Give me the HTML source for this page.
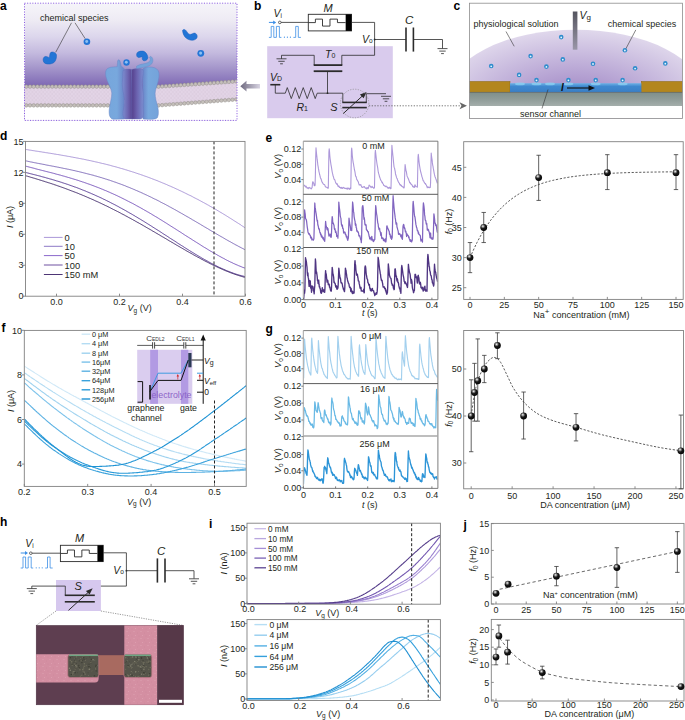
<!DOCTYPE html><html><head><meta charset="utf-8"><style>html,body{margin:0;padding:0;background:#fff;}body{width:685px;height:720px;overflow:hidden;}svg{display:block;}text{font-family:"Liberation Sans", sans-serif;}</style></head><body>
<svg width="685" height="720" viewBox="0 0 685 720">
<defs>
<radialGradient id="ballg" cx="0.38" cy="0.32" r="0.75">
 <stop offset="0" stop-color="#ffffff"/><stop offset="0.18" stop-color="#9a9a9a"/><stop offset="0.45" stop-color="#1a1a1a"/><stop offset="1" stop-color="#000"/>
</radialGradient>
<linearGradient id="agrad" gradientUnits="userSpaceOnUse" x1="0" y1="4" x2="0" y2="86">
 <stop offset="0" stop-color="#f5f4f9"/><stop offset="0.195" stop-color="#eeebf4"/><stop offset="0.4" stop-color="#dcd6ec"/><stop offset="0.6" stop-color="#c3b9de"/><stop offset="0.805" stop-color="#a091c8"/><stop offset="1" stop-color="#7e68b4"/>
</linearGradient>
<radialGradient id="domeg" cx="0.5" cy="0.56" r="0.56">
 <stop offset="0" stop-color="#9a7fc0"/><stop offset="0.45" stop-color="#b9a7d5"/><stop offset="1" stop-color="#e0d8ec"/>
</radialGradient>
<linearGradient id="gateg" x1="0" y1="0" x2="0" y2="1">
 <stop offset="0" stop-color="#55555f"/><stop offset="1" stop-color="#9a96a8"/>
</linearGradient>
<linearGradient id="protL" x1="0" y1="0" x2="1" y2="0">
 <stop offset="0" stop-color="#6f9fd6"/><stop offset="0.7" stop-color="#7ba7da"/><stop offset="1" stop-color="#6a85c4"/>
</linearGradient>
<linearGradient id="protC" x1="0" y1="0" x2="1" y2="0">
 <stop offset="0" stop-color="#8b86c8"/><stop offset="0.3" stop-color="#6c58a0"/><stop offset="0.5" stop-color="#5a4590"/><stop offset="0.7" stop-color="#6c58a0"/><stop offset="1" stop-color="#8b86c8"/>
</linearGradient>
<linearGradient id="arrg" x1="1" y1="0" x2="0" y2="0">
 <stop offset="0" stop-color="#d8d4e2"/><stop offset="1" stop-color="#6f6a80"/>
</linearGradient>
<pattern id="lip" x="0" y="0" width="3.6" height="4" patternUnits="userSpaceOnUse">
 <rect width="3.6" height="4" fill="#e6d8ea"/><path d="M0.6 0 Q1.8 2 0.6 4 M3 0 Q1.8 2 3 4" stroke="#cdbdd2" stroke-width="0.5" fill="none"/>
</pattern>
</defs>
<rect width="685" height="720" fill="#fff"/>
<text x="0" y="9.5" font-size="12" font-weight="bold" fill="#000">a</text>
<clipPath id="clipA"><rect x="24.5" y="3.2" width="212.5" height="117.2"/></clipPath>
<g clip-path="url(#clipA)">
<rect x="24.5" y="3.2" width="212.5" height="117.2" fill="url(#agrad)" stroke="none" stroke-width="1"/>
<path d="M24 100 L108 100 L156 100 L238 94 L238 121 L24 121 Z" fill="#fff"/>
<path d="M24.5 86.6 L114 86.6 L114 105.4 L24.5 105.4 Z" fill="url(#lip)"/>
<circle cx="26.3" cy="86.6" r="1.8" fill="#c4bfba" stroke="#8e8985" stroke-width="0.45"/>
<circle cx="26.3" cy="105.4" r="1.8" fill="#c4bfba" stroke="#8e8985" stroke-width="0.45"/>
<circle cx="30" cy="86.6" r="1.8" fill="#c4bfba" stroke="#8e8985" stroke-width="0.45"/>
<circle cx="30" cy="105.4" r="1.8" fill="#c4bfba" stroke="#8e8985" stroke-width="0.45"/>
<circle cx="33.7" cy="86.6" r="1.8" fill="#c4bfba" stroke="#8e8985" stroke-width="0.45"/>
<circle cx="33.7" cy="105.4" r="1.8" fill="#c4bfba" stroke="#8e8985" stroke-width="0.45"/>
<circle cx="37.4" cy="86.6" r="1.8" fill="#c4bfba" stroke="#8e8985" stroke-width="0.45"/>
<circle cx="37.4" cy="105.4" r="1.8" fill="#c4bfba" stroke="#8e8985" stroke-width="0.45"/>
<circle cx="41.1" cy="86.6" r="1.8" fill="#c4bfba" stroke="#8e8985" stroke-width="0.45"/>
<circle cx="41.1" cy="105.4" r="1.8" fill="#c4bfba" stroke="#8e8985" stroke-width="0.45"/>
<circle cx="44.8" cy="86.6" r="1.8" fill="#c4bfba" stroke="#8e8985" stroke-width="0.45"/>
<circle cx="44.8" cy="105.4" r="1.8" fill="#c4bfba" stroke="#8e8985" stroke-width="0.45"/>
<circle cx="48.5" cy="86.6" r="1.8" fill="#c4bfba" stroke="#8e8985" stroke-width="0.45"/>
<circle cx="48.5" cy="105.4" r="1.8" fill="#c4bfba" stroke="#8e8985" stroke-width="0.45"/>
<circle cx="52.2" cy="86.6" r="1.8" fill="#c4bfba" stroke="#8e8985" stroke-width="0.45"/>
<circle cx="52.2" cy="105.4" r="1.8" fill="#c4bfba" stroke="#8e8985" stroke-width="0.45"/>
<circle cx="55.9" cy="86.6" r="1.8" fill="#c4bfba" stroke="#8e8985" stroke-width="0.45"/>
<circle cx="55.9" cy="105.4" r="1.8" fill="#c4bfba" stroke="#8e8985" stroke-width="0.45"/>
<circle cx="59.6" cy="86.6" r="1.8" fill="#c4bfba" stroke="#8e8985" stroke-width="0.45"/>
<circle cx="59.6" cy="105.4" r="1.8" fill="#c4bfba" stroke="#8e8985" stroke-width="0.45"/>
<circle cx="63.3" cy="86.6" r="1.8" fill="#c4bfba" stroke="#8e8985" stroke-width="0.45"/>
<circle cx="63.3" cy="105.4" r="1.8" fill="#c4bfba" stroke="#8e8985" stroke-width="0.45"/>
<circle cx="67" cy="86.6" r="1.8" fill="#c4bfba" stroke="#8e8985" stroke-width="0.45"/>
<circle cx="67" cy="105.4" r="1.8" fill="#c4bfba" stroke="#8e8985" stroke-width="0.45"/>
<circle cx="70.7" cy="86.6" r="1.8" fill="#c4bfba" stroke="#8e8985" stroke-width="0.45"/>
<circle cx="70.7" cy="105.4" r="1.8" fill="#c4bfba" stroke="#8e8985" stroke-width="0.45"/>
<circle cx="74.4" cy="86.6" r="1.8" fill="#c4bfba" stroke="#8e8985" stroke-width="0.45"/>
<circle cx="74.4" cy="105.4" r="1.8" fill="#c4bfba" stroke="#8e8985" stroke-width="0.45"/>
<circle cx="78.1" cy="86.6" r="1.8" fill="#c4bfba" stroke="#8e8985" stroke-width="0.45"/>
<circle cx="78.1" cy="105.4" r="1.8" fill="#c4bfba" stroke="#8e8985" stroke-width="0.45"/>
<circle cx="81.8" cy="86.6" r="1.8" fill="#c4bfba" stroke="#8e8985" stroke-width="0.45"/>
<circle cx="81.8" cy="105.4" r="1.8" fill="#c4bfba" stroke="#8e8985" stroke-width="0.45"/>
<circle cx="85.5" cy="86.6" r="1.8" fill="#c4bfba" stroke="#8e8985" stroke-width="0.45"/>
<circle cx="85.5" cy="105.4" r="1.8" fill="#c4bfba" stroke="#8e8985" stroke-width="0.45"/>
<circle cx="89.2" cy="86.6" r="1.8" fill="#c4bfba" stroke="#8e8985" stroke-width="0.45"/>
<circle cx="89.2" cy="105.4" r="1.8" fill="#c4bfba" stroke="#8e8985" stroke-width="0.45"/>
<circle cx="92.9" cy="86.6" r="1.8" fill="#c4bfba" stroke="#8e8985" stroke-width="0.45"/>
<circle cx="92.9" cy="105.4" r="1.8" fill="#c4bfba" stroke="#8e8985" stroke-width="0.45"/>
<circle cx="96.6" cy="86.6" r="1.8" fill="#c4bfba" stroke="#8e8985" stroke-width="0.45"/>
<circle cx="96.6" cy="105.4" r="1.8" fill="#c4bfba" stroke="#8e8985" stroke-width="0.45"/>
<circle cx="100.3" cy="86.6" r="1.8" fill="#c4bfba" stroke="#8e8985" stroke-width="0.45"/>
<circle cx="100.3" cy="105.4" r="1.8" fill="#c4bfba" stroke="#8e8985" stroke-width="0.45"/>
<circle cx="104" cy="86.6" r="1.8" fill="#c4bfba" stroke="#8e8985" stroke-width="0.45"/>
<circle cx="104" cy="105.4" r="1.8" fill="#c4bfba" stroke="#8e8985" stroke-width="0.45"/>
<circle cx="107.7" cy="86.6" r="1.8" fill="#c4bfba" stroke="#8e8985" stroke-width="0.45"/>
<circle cx="107.7" cy="105.4" r="1.8" fill="#c4bfba" stroke="#8e8985" stroke-width="0.45"/>
<circle cx="111.4" cy="86.6" r="1.8" fill="#c4bfba" stroke="#8e8985" stroke-width="0.45"/>
<circle cx="111.4" cy="105.4" r="1.8" fill="#c4bfba" stroke="#8e8985" stroke-width="0.45"/>
<circle cx="115.1" cy="86.6" r="1.8" fill="#c4bfba" stroke="#8e8985" stroke-width="0.45"/>
<circle cx="115.1" cy="105.4" r="1.8" fill="#c4bfba" stroke="#8e8985" stroke-width="0.45"/>
<path d="M153 87.0 L238 81.3 L238 99.3 L153 105.8 Z" fill="url(#lip)"/>
<circle cx="154.8" cy="86.88" r="1.8" fill="#c4bfba" stroke="#8e8985" stroke-width="0.45"/>
<circle cx="154.8" cy="105.66" r="1.8" fill="#c4bfba" stroke="#8e8985" stroke-width="0.45"/>
<circle cx="158.5" cy="86.63" r="1.8" fill="#c4bfba" stroke="#8e8985" stroke-width="0.45"/>
<circle cx="158.5" cy="105.38" r="1.8" fill="#c4bfba" stroke="#8e8985" stroke-width="0.45"/>
<circle cx="162.2" cy="86.38" r="1.8" fill="#c4bfba" stroke="#8e8985" stroke-width="0.45"/>
<circle cx="162.2" cy="105.1" r="1.8" fill="#c4bfba" stroke="#8e8985" stroke-width="0.45"/>
<circle cx="165.9" cy="86.13" r="1.8" fill="#c4bfba" stroke="#8e8985" stroke-width="0.45"/>
<circle cx="165.9" cy="104.81" r="1.8" fill="#c4bfba" stroke="#8e8985" stroke-width="0.45"/>
<circle cx="169.6" cy="85.89" r="1.8" fill="#c4bfba" stroke="#8e8985" stroke-width="0.45"/>
<circle cx="169.6" cy="104.53" r="1.8" fill="#c4bfba" stroke="#8e8985" stroke-width="0.45"/>
<circle cx="173.3" cy="85.64" r="1.8" fill="#c4bfba" stroke="#8e8985" stroke-width="0.45"/>
<circle cx="173.3" cy="104.25" r="1.8" fill="#c4bfba" stroke="#8e8985" stroke-width="0.45"/>
<circle cx="177" cy="85.39" r="1.8" fill="#c4bfba" stroke="#8e8985" stroke-width="0.45"/>
<circle cx="177" cy="103.96" r="1.8" fill="#c4bfba" stroke="#8e8985" stroke-width="0.45"/>
<circle cx="180.7" cy="85.14" r="1.8" fill="#c4bfba" stroke="#8e8985" stroke-width="0.45"/>
<circle cx="180.7" cy="103.68" r="1.8" fill="#c4bfba" stroke="#8e8985" stroke-width="0.45"/>
<circle cx="184.4" cy="84.89" r="1.8" fill="#c4bfba" stroke="#8e8985" stroke-width="0.45"/>
<circle cx="184.4" cy="103.4" r="1.8" fill="#c4bfba" stroke="#8e8985" stroke-width="0.45"/>
<circle cx="188.1" cy="84.65" r="1.8" fill="#c4bfba" stroke="#8e8985" stroke-width="0.45"/>
<circle cx="188.1" cy="103.12" r="1.8" fill="#c4bfba" stroke="#8e8985" stroke-width="0.45"/>
<circle cx="191.8" cy="84.4" r="1.8" fill="#c4bfba" stroke="#8e8985" stroke-width="0.45"/>
<circle cx="191.8" cy="102.83" r="1.8" fill="#c4bfba" stroke="#8e8985" stroke-width="0.45"/>
<circle cx="195.5" cy="84.15" r="1.8" fill="#c4bfba" stroke="#8e8985" stroke-width="0.45"/>
<circle cx="195.5" cy="102.55" r="1.8" fill="#c4bfba" stroke="#8e8985" stroke-width="0.45"/>
<circle cx="199.2" cy="83.9" r="1.8" fill="#c4bfba" stroke="#8e8985" stroke-width="0.45"/>
<circle cx="199.2" cy="102.27" r="1.8" fill="#c4bfba" stroke="#8e8985" stroke-width="0.45"/>
<circle cx="202.9" cy="83.65" r="1.8" fill="#c4bfba" stroke="#8e8985" stroke-width="0.45"/>
<circle cx="202.9" cy="101.98" r="1.8" fill="#c4bfba" stroke="#8e8985" stroke-width="0.45"/>
<circle cx="206.6" cy="83.41" r="1.8" fill="#c4bfba" stroke="#8e8985" stroke-width="0.45"/>
<circle cx="206.6" cy="101.7" r="1.8" fill="#c4bfba" stroke="#8e8985" stroke-width="0.45"/>
<circle cx="210.3" cy="83.16" r="1.8" fill="#c4bfba" stroke="#8e8985" stroke-width="0.45"/>
<circle cx="210.3" cy="101.42" r="1.8" fill="#c4bfba" stroke="#8e8985" stroke-width="0.45"/>
<circle cx="214" cy="82.91" r="1.8" fill="#c4bfba" stroke="#8e8985" stroke-width="0.45"/>
<circle cx="214" cy="101.14" r="1.8" fill="#c4bfba" stroke="#8e8985" stroke-width="0.45"/>
<circle cx="217.7" cy="82.66" r="1.8" fill="#c4bfba" stroke="#8e8985" stroke-width="0.45"/>
<circle cx="217.7" cy="100.85" r="1.8" fill="#c4bfba" stroke="#8e8985" stroke-width="0.45"/>
<circle cx="221.4" cy="82.41" r="1.8" fill="#c4bfba" stroke="#8e8985" stroke-width="0.45"/>
<circle cx="221.4" cy="100.57" r="1.8" fill="#c4bfba" stroke="#8e8985" stroke-width="0.45"/>
<circle cx="225.1" cy="82.17" r="1.8" fill="#c4bfba" stroke="#8e8985" stroke-width="0.45"/>
<circle cx="225.1" cy="100.29" r="1.8" fill="#c4bfba" stroke="#8e8985" stroke-width="0.45"/>
<circle cx="228.8" cy="81.92" r="1.8" fill="#c4bfba" stroke="#8e8985" stroke-width="0.45"/>
<circle cx="228.8" cy="100" r="1.8" fill="#c4bfba" stroke="#8e8985" stroke-width="0.45"/>
<circle cx="232.5" cy="81.67" r="1.8" fill="#c4bfba" stroke="#8e8985" stroke-width="0.45"/>
<circle cx="232.5" cy="99.72" r="1.8" fill="#c4bfba" stroke="#8e8985" stroke-width="0.45"/>
<circle cx="236.2" cy="81.42" r="1.8" fill="#c4bfba" stroke="#8e8985" stroke-width="0.45"/>
<circle cx="236.2" cy="99.44" r="1.8" fill="#c4bfba" stroke="#8e8985" stroke-width="0.45"/>
</g>
<rect x="24.5" y="3.2" width="212.5" height="117.2" fill="none" stroke="#8c5ee0" stroke-width="1.0" stroke-dasharray="1.1 1.5"/>
<linearGradient id="pOL" x1="0" y1="0" x2="1" y2="0"><stop offset="0" stop-color="#76a6dc"/><stop offset="0.6" stop-color="#78a8dd"/><stop offset="1" stop-color="#6a84c8"/></linearGradient>
<linearGradient id="pOR" x1="0" y1="0" x2="1" y2="0"><stop offset="0" stop-color="#6a84c8"/><stop offset="0.35" stop-color="#78a8dd"/><stop offset="1" stop-color="#74a3da"/></linearGradient>
<linearGradient id="pIL" x1="0" y1="0" x2="1" y2="0"><stop offset="0" stop-color="#7c90d2"/><stop offset="0.55" stop-color="#6c64b0"/><stop offset="1" stop-color="#553f8c"/></linearGradient>
<linearGradient id="pIR" x1="0" y1="0" x2="1" y2="0"><stop offset="0" stop-color="#553f8c"/><stop offset="0.45" stop-color="#6c64b0"/><stop offset="1" stop-color="#7c90d2"/></linearGradient>
<path d="M106.5 69.5 C108 67.5 112 66.8 117.2 66.8 L117.5 62.5 C117.3 60.5 118.3 59.3 119.3 60 C120.3 60.8 120.6 63.5 121.3 66.5 C122.8 67 124 68 124.5 69.5 L124.5 119 L113 119.2 C110 118.5 108.8 115 109.2 110 C109.6 104 112 98 111.8 93 C111.5 88 107 82 105.8 76 C105.4 73 105.5 71 106.5 69.5 Z" fill="url(#pOL)" stroke="#6b86c6" stroke-width="0.5"/>
<path d="M142.5 69 C144 67 148 66.8 152 67.2 C155.5 67.5 158.5 69.5 159 73 C159.5 78 157.5 84 155.5 90 C154.5 94 155.5 99 157 104 C158.5 109 159 114 157.5 117.5 C156 119.3 152 119.5 148 119.3 L143 119 Z" fill="url(#pOR)" stroke="#6b86c6" stroke-width="0.5"/>
<path d="M123.2 70.5 C125 69 128.5 68.8 131.5 69.5 L132.8 119 L125 119 C123.2 118 122.5 114 123.3 110 C124.2 105 124.8 100 123.8 95 C122.8 90 121.8 85 122.5 80 C123 76 122.5 72.5 123.2 70.5 Z" fill="url(#pIL)" stroke="#6670b8" stroke-width="0.4"/>
<path d="M131.8 69.6 C134.5 68.5 137.5 68.3 140 68.5 C142 68.8 143.3 69.8 143.3 71.5 C143 76 141.8 81 142.3 86 C142.8 91 144 96 143.3 101 C142.7 106 143.7 111 143.5 115 C143.3 117.5 142 119 140 119 L131.8 119 Z" fill="url(#pIR)" stroke="#6670b8" stroke-width="0.4"/>
<path d="M136.5 66.2 C140 63.8 145 64 148 62.5 C150.5 61.2 150.8 58.5 149.3 57.5 L150.5 56.3 C153 57.2 153.8 61 151.8 63.8 C150.2 65.8 147 66.6 144 67.2 C141 67.8 138.5 68.3 136.5 68.5 Z" fill="#74a3da" stroke="#6b86c6" stroke-width="0.4"/>
<path transform="translate(49.7 58) rotate(0) scale(1.0)" d="M-5.2 -1.2 C-3.5 -2.2 -1.5 -0.8 -0.5 -0.3 C0.2 -1.5 -0.2 -4.5 1 -5.5 C2.5 -6.6 5.8 -5.8 6.7 -3.5 C7.2 -1 6.3 2.5 4.5 4.3 C2.5 6.2 -2 6.6 -4.6 5.4 C-7 4 -7.2 0.3 -5.2 -1.2 Z" fill="#2275d6" stroke="#1a5fba" stroke-width="0.5"/>
<circle cx="86.9" cy="41.8" r="3.3" fill="#2476d6"/>
<circle cx="86.7" cy="41.6" r="1.48" fill="#8cc0f2"/>
<path transform="translate(142.3 56.2) rotate(-115) scale(0.82)" d="M-5.2 -1.2 C-3.5 -2.2 -1.5 -0.8 -0.5 -0.3 C0.2 -1.5 -0.2 -4.5 1 -5.5 C2.5 -6.6 5.8 -5.8 6.7 -3.5 C7.2 -1 6.3 2.5 4.5 4.3 C2.5 6.2 -2 6.6 -4.6 5.4 C-7 4 -7.2 0.3 -5.2 -1.2 Z" fill="#2275d6" stroke="#1a5fba" stroke-width="0.5"/>
<circle cx="126.5" cy="62.5" r="3.2" fill="#2476d6"/>
<circle cx="126.3" cy="62.3" r="1.44" fill="#8cc0f2"/>
<path d="M182.6 31 C183 35 185.5 38.5 188.7 39.6 C191 40.6 194.5 40.6 196.5 38.5 C197.8 37 197.3 34 195.2 33.2 C193.5 32.6 192 34.4 190.3 34.4 C188.8 34.4 187.8 33 187 31.9 C186 30.3 185 29.3 183.8 29.5 C182.8 29.7 182.5 30.2 182.6 31 Z" fill="#2275d6" stroke="#1a5fba" stroke-width="0.5"/>
<circle cx="200.8" cy="53.3" r="3.4" fill="#2476d6"/>
<circle cx="200.6" cy="53.1" r="1.53" fill="#8cc0f2"/>
<text x="40" y="20.8" font-size="9" fill="#231f20">chemical species</text>
<line x1="71.5" y1="22.8" x2="55.7" y2="52.3" stroke="#333" stroke-width="0.6"/>
<line x1="75" y1="22.8" x2="85.2" y2="38.7" stroke="#333" stroke-width="0.6"/>
<path d="M240.3 86.2 L246.5 80.8 L246.5 84 L260 84 L260 88.6 L246.5 88.6 L246.5 91.6 Z" fill="url(#arrg)"/>
<text x="254" y="9.8" font-size="12" font-weight="bold" fill="#000">b</text>
<rect x="267.2" y="46.2" width="125.6" height="72" fill="#d9cbed" stroke="none" stroke-width="1"/>
<path d="M268.9 37.4 H271.2 V26.4 H273.8 V37.4 H276.4 V26.4 H279.4 V37.4 H281.4 M293.4 37.4 H295.7 H295.7 V26.4 H298.3 V37.4 H300.9" stroke="#3b8ee6" stroke-width="0.8" fill="none"/>
<circle cx="284.4" cy="37.2" r="0.6" fill="#3b8ee6"/>
<circle cx="287.4" cy="37.2" r="0.6" fill="#3b8ee6"/>
<circle cx="290.4" cy="37.2" r="0.6" fill="#3b8ee6"/>
<line x1="268.9" y1="22.4" x2="274.4" y2="22.4" stroke="#3b8ee6" stroke-width="1"/>
<path d="M276.2 22.4 l-3 -2 v4 z" fill="#3b8ee6"/>
<text x="273.5" y="16.8" font-size="10.5" font-style="italic" fill="#231f20">V<tspan font-size="6.5" font-style="normal" dy="1.2">i</tspan></text>
<circle cx="279.8" cy="22.4" r="1.3" fill="#fff" stroke="#2b2b2b" stroke-width="0.7"/>
<line x1="281.1" y1="22.4" x2="308.3" y2="22.4" stroke="#2b2b2b" stroke-width="0.8"/>
<rect x="308.3" y="14.3" width="43.2" height="16.6" fill="#fff" stroke="#2b2b2b" stroke-width="0.9"/>
<rect x="345.67" y="14.3" width="5.83" height="16.6" fill="#000" stroke="none" stroke-width="1"/>
<path d="M308.3 22.6 H315.4 V19.11 H322.5 V26.09 H329.97 V19.11 H337.45 V22.6 H345.67" stroke="#2b2b2b" stroke-width="0.9" fill="none"/>
<text x="323.5" y="11.6" font-size="11" font-style="italic" fill="#231f20">M</text>
<path d="M351.5 22.4 H374.6 V55.3 H341.8 V65.1" stroke="#2b2b2b" stroke-width="0.8" fill="none"/>
<circle cx="374.6" cy="39.5" r="0.9" fill="#2b2b2b"/>
<text x="362" y="42.8" font-size="10.5" font-style="italic" fill="#231f20">V<tspan font-size="6.5" font-style="normal" dy="0.6">o</tspan></text>
<line x1="374.6" y1="39.5" x2="406" y2="39.5" stroke="#2b2b2b" stroke-width="0.8"/>
<line x1="406" y1="27.5" x2="406" y2="51.6" stroke="#2b2b2b" stroke-width="1.6"/>
<line x1="413.4" y1="27.5" x2="413.4" y2="51.6" stroke="#2b2b2b" stroke-width="1.6"/>
<path d="M413.4 39.5 H442.5 V48.4" stroke="#2b2b2b" stroke-width="0.8" fill="none"/>
<line x1="437.5" y1="48.6" x2="447.5" y2="48.6" stroke="#2b2b2b" stroke-width="0.8"/>
<line x1="439.3" y1="51.1" x2="445.7" y2="51.1" stroke="#2b2b2b" stroke-width="0.8"/>
<line x1="441.1" y1="53.6" x2="443.9" y2="53.6" stroke="#2b2b2b" stroke-width="0.8"/>
<text x="405" y="23.8" font-size="11.5" font-style="italic" fill="#231f20">C</text>
<path d="M281.5 58.8 V55.3 H314.2 V65.1" stroke="#2b2b2b" stroke-width="0.8" fill="none"/>
<line x1="276.5" y1="58.8" x2="286.5" y2="58.8" stroke="#2b2b2b" stroke-width="0.8"/>
<line x1="278.3" y1="61.3" x2="284.7" y2="61.3" stroke="#2b2b2b" stroke-width="0.8"/>
<line x1="280.1" y1="63.8" x2="282.9" y2="63.8" stroke="#2b2b2b" stroke-width="0.8"/>
<line x1="313.7" y1="65.1" x2="342.3" y2="65.1" stroke="#2b2b2b" stroke-width="1.8"/>
<line x1="313.7" y1="71.2" x2="342.3" y2="71.2" stroke="#2b2b2b" stroke-width="1.8"/>
<line x1="327.5" y1="71.2" x2="327.5" y2="93.2" stroke="#2b2b2b" stroke-width="0.8"/>
<text x="325" y="57.6" font-size="10.5" font-style="italic" fill="#231f20">T<tspan font-size="7" font-style="normal" dy="0.5">0</tspan></text>
<text x="270" y="81" font-size="10.5" font-style="italic" fill="#231f20">V<tspan font-size="7" font-style="normal" dy="0.4">D</tspan></text>
<line x1="270.3" y1="84.7" x2="280.3" y2="84.7" stroke="#2b2b2b" stroke-width="1.6"/>
<path d="M275.3 84.7 V93.2 H285.3 L287.29 87.6 L291.28 98.6 L295.27 87.6 L299.26 98.6 L303.24 87.6 L307.23 98.6 L311.22 87.6 L315.21 98.6 L317.2 93.2 H342.8 V102.4" stroke="#2b2b2b" stroke-width="0.8" fill="none"/>
<circle cx="327.5" cy="93.2" r="0.9" fill="#2b2b2b"/>
<text x="296.5" y="110.7" font-size="10.5" font-style="italic" fill="#231f20">R<tspan font-size="7" font-style="normal" dy="0.5">1</tspan></text>
<text x="330.3" y="110.7" font-size="11" font-style="italic" fill="#231f20">S</text>
<line x1="342.3" y1="102.4" x2="366.8" y2="102.4" stroke="#2b2b2b" stroke-width="1.6"/>
<line x1="342.3" y1="107.6" x2="366.8" y2="107.6" stroke="#2b2b2b" stroke-width="1.6"/>
<path d="M366.3 102.4 V93.7 H386" stroke="#2b2b2b" stroke-width="0.8" fill="none"/>
<line x1="381" y1="96.3" x2="391" y2="96.3" stroke="#2b2b2b" stroke-width="0.8"/>
<line x1="382.8" y1="98.8" x2="389.2" y2="98.8" stroke="#2b2b2b" stroke-width="0.8"/>
<line x1="384.6" y1="101.3" x2="387.4" y2="101.3" stroke="#2b2b2b" stroke-width="0.8"/>
<line x1="343.2" y1="113.6" x2="364.2" y2="94.3" stroke="#2b2b2b" stroke-width="1.0"/>
<path d="M366.6 92 L359.9 94.6 L363.6 98.2 Z" fill="#2b2b2b"/>
<circle cx="354.6" cy="103.5" r="14.3" fill="none" stroke="#8a8a8a" stroke-width="0.7" stroke-dasharray="1.2 1.4"/>
<line x1="368.9" y1="105.8" x2="461" y2="105.8" stroke="#555" stroke-width="0.8" stroke-dasharray="1.3 1.5"/>
<path d="M467 105.8 L459.5 102.3 L461.5 105.8 L459.5 109.3 Z" fill="#666"/>
<text x="453.5" y="9.6" font-size="12" font-weight="bold" fill="#000">c</text>
<clipPath id="clipC"><rect x="469.4" y="3.2" width="213" height="115.3"/></clipPath>
<g clip-path="url(#clipC)">
<ellipse cx="575.5" cy="95" rx="127.5" ry="65.2" fill="url(#domeg)"/>
<rect x="469.4" y="81.4" width="40.6" height="11" fill="#b3861e" stroke="#8a6a1a" stroke-width="0.5"/>
<rect x="641.3" y="81.4" width="41.5" height="11" fill="#b3861e" stroke="#8a6a1a" stroke-width="0.5"/>
<linearGradient id="chg" x1="0" y1="0" x2="0" y2="1"><stop offset="0" stop-color="#6fb1e6"/><stop offset="0.35" stop-color="#3f88cf"/><stop offset="1" stop-color="#3a7fc6"/></linearGradient>
<rect x="510" y="83.2" width="131.3" height="9.2" fill="url(#chg)" stroke="none" stroke-width="1"/>
<ellipse cx="536.5" cy="83.9" rx="5" ry="1.3" fill="#8fd3f3" opacity="0.75"/>
<ellipse cx="568.4" cy="83.9" rx="5" ry="1.3" fill="#8fd3f3" opacity="0.75"/>
<ellipse cx="595.7" cy="83.9" rx="5" ry="1.3" fill="#8fd3f3" opacity="0.75"/>
<ellipse cx="622.6" cy="83.9" rx="5" ry="1.3" fill="#8fd3f3" opacity="0.75"/>
<ellipse cx="520" cy="83.9" rx="5" ry="1.3" fill="#8fd3f3" opacity="0.75"/>
<ellipse cx="550" cy="83.9" rx="5" ry="1.3" fill="#8fd3f3" opacity="0.75"/>
<linearGradient id="subg" x1="0" y1="0" x2="0" y2="1"><stop offset="0" stop-color="#7f8f8a"/><stop offset="0.5" stop-color="#8f9c98"/><stop offset="1" stop-color="#a4aeab"/></linearGradient>
<rect x="469.4" y="92.4" width="213" height="13.6" fill="url(#subg)" stroke="none" stroke-width="1"/>
<line x1="469.4" y1="92.4" x2="682.4" y2="92.4" stroke="#55605c" stroke-width="0.6"/>
<rect x="469.4" y="106" width="213" height="13" fill="#fff" stroke="none" stroke-width="1"/>
</g>
<rect x="469.4" y="3.2" width="213" height="115.3" fill="none" stroke="#8d8d8d" stroke-width="0.8"/>
<rect x="572.8" y="11.5" width="4.6" height="38.2" fill="url(#gateg)" stroke="none" stroke-width="1"/>
<text x="579.5" y="18.6" font-size="10.5" font-style="italic" fill="#231f20">V<tspan font-size="8" font-style="normal" dy="1.8">g</tspan></text>
<circle cx="561.2" cy="37.1" r="2.3" fill="#2f8ccc"/>
<circle cx="561.2" cy="37.4" r="0.9" fill="#e8f6ff"/>
<circle cx="530.6" cy="56.1" r="2.3" fill="#2f8ccc"/>
<circle cx="530.6" cy="56.4" r="0.9" fill="#e8f6ff"/>
<circle cx="562.8" cy="59.4" r="2.3" fill="#2f8ccc"/>
<circle cx="562.8" cy="59.7" r="0.9" fill="#e8f6ff"/>
<circle cx="546.4" cy="66.6" r="2.3" fill="#2f8ccc"/>
<circle cx="546.4" cy="66.9" r="0.9" fill="#e8f6ff"/>
<circle cx="491.2" cy="66" r="2.3" fill="#2f8ccc"/>
<circle cx="491.2" cy="66.3" r="0.9" fill="#e8f6ff"/>
<circle cx="519.1" cy="74.9" r="2.3" fill="#2f8ccc"/>
<circle cx="519.1" cy="75.2" r="0.9" fill="#e8f6ff"/>
<circle cx="593" cy="63.7" r="2.3" fill="#2f8ccc"/>
<circle cx="593" cy="64" r="0.9" fill="#e8f6ff"/>
<circle cx="624.9" cy="50.2" r="2.3" fill="#2f8ccc"/>
<circle cx="624.9" cy="50.5" r="0.9" fill="#e8f6ff"/>
<circle cx="635.1" cy="68.3" r="2.3" fill="#2f8ccc"/>
<circle cx="635.1" cy="68.6" r="0.9" fill="#e8f6ff"/>
<circle cx="665.3" cy="63.4" r="2.3" fill="#2f8ccc"/>
<circle cx="665.3" cy="63.7" r="0.9" fill="#e8f6ff"/>
<circle cx="536.5" cy="80.1" r="2.3" fill="#2f8ccc"/>
<circle cx="536.5" cy="80.4" r="0.9" fill="#e8f6ff"/>
<circle cx="568.4" cy="80.1" r="2.3" fill="#2f8ccc"/>
<circle cx="568.4" cy="80.4" r="0.9" fill="#e8f6ff"/>
<circle cx="595.7" cy="80.1" r="2.3" fill="#2f8ccc"/>
<circle cx="595.7" cy="80.4" r="0.9" fill="#e8f6ff"/>
<circle cx="622.6" cy="80.1" r="2.3" fill="#2f8ccc"/>
<circle cx="622.6" cy="80.4" r="0.9" fill="#e8f6ff"/>
<text x="473.4" y="27.2" font-size="9" fill="#231f20">physiological solution</text>
<text x="607.8" y="27.2" font-size="9" fill="#231f20">chemical species</text>
<text x="520" y="117" font-size="9" fill="#231f20">sensor channel</text>
<line x1="506" y1="31.5" x2="514.2" y2="46.3" stroke="#333" stroke-width="0.6"/>
<line x1="635.8" y1="29.9" x2="626" y2="48.5" stroke="#333" stroke-width="0.6"/>
<line x1="548" y1="89.5" x2="542" y2="108.5" stroke="#333" stroke-width="0.6"/>
<text x="561" y="91" font-size="10" font-style="italic" font-weight="bold" fill="#111">I</text>
<line x1="567" y1="88" x2="591" y2="88" stroke="#111" stroke-width="1.1"/>
<path d="M595 88 L588.5 85.3 L588.5 90.7 Z" fill="#111"/>
<text x="0" y="140.3" font-size="12" font-weight="bold" fill="#000">d</text>
<clipPath id="clipD"><rect x="25.5" y="141.4" width="219.5" height="154.8"/></clipPath>
<g clip-path="url(#clipD)">
<path d="M25 149.3 25.8 149.5 26.6 149.6 27.4 149.7 28.2 149.8 29 150 29.7 150.1 30.5 150.2 31.3 150.3 32.1 150.5 32.9 150.6 33.7 150.7 34.5 150.8 35.3 151 36.1 151.1 36.9 151.2 37.6 151.3 38.4 151.4 39.2 151.6 40 151.7 40.8 151.8 41.6 151.9 42.4 152.1 43.2 152.2 44 152.3 44.8 152.4 45.5 152.6 46.3 152.7 47.1 152.8 47.9 152.9 48.7 153.1 49.5 153.2 50.3 153.3 51.1 153.4 51.9 153.6 52.7 153.7 53.5 153.8 54.2 154 55 154.1 55.8 154.2 56.6 154.4 57.4 154.5 58.2 154.6 59 154.7 59.8 154.9 60.6 155 61.4 155.2 62.1 155.3 62.9 155.4 63.7 155.6 64.5 155.7 65.3 155.8 66.1 156 66.9 156.1 67.7 156.3 68.5 156.4 69.3 156.5 70 156.7 70.8 156.8 71.6 157 72.4 157.1 73.2 157.3 74 157.4 74.8 157.6 75.6 157.7 76.4 157.9 77.2 158 78 158.2 78.7 158.3 79.5 158.5 80.3 158.6 81.1 158.8 81.9 158.9 82.7 159.1 83.5 159.2 84.3 159.4 85.1 159.6 85.9 159.7 86.6 159.9 87.4 160.1 88.2 160.2 89 160.4 89.8 160.6 90.6 160.7 91.4 160.9 92.2 161.1 93 161.3 93.8 161.4 94.5 161.6 95.3 161.8 96.1 162 96.9 162.1 97.7 162.3 98.5 162.5 99.3 162.7 100.1 162.9 100.9 163.1 101.7 163.3 102.5 163.5 103.2 163.6 104 163.8 104.8 164 105.6 164.2 106.4 164.4 107.2 164.6 108 164.8 108.8 165 109.6 165.2 110.4 165.4 111.1 165.6 111.9 165.9 112.7 166.1 113.5 166.3 114.3 166.5 115.1 166.7 115.9 166.9 116.7 167.1 117.5 167.4 118.3 167.6 119 167.8 119.8 168 120.6 168.3 121.4 168.5 122.2 168.7 123 168.9 123.8 169.2 124.6 169.4 125.4 169.7 126.2 169.9 127 170.1 127.7 170.4 128.5 170.6 129.3 170.9 130.1 171.1 130.9 171.4 131.7 171.6 132.5 171.9 133.3 172.1 134.1 172.4 134.9 172.6 135.6 172.9 136.4 173.2 137.2 173.4 138 173.7 138.8 174 139.6 174.2 140.4 174.5 141.2 174.8 142 175 142.8 175.3 143.5 175.6 144.3 175.9 145.1 176.2 145.9 176.4 146.7 176.7 147.5 177 148.3 177.3 149.1 177.6 149.9 177.9 150.7 178.2 151.5 178.5 152.2 178.8 153 179.1 153.8 179.4 154.6 179.7 155.4 180 156.2 180.3 157 180.6 157.8 180.9 158.6 181.3 159.4 181.6 160.1 181.9 160.9 182.2 161.7 182.5 162.5 182.9 163.3 183.2 164.1 183.5 164.9 183.9 165.7 184.2 166.5 184.5 167.3 184.9 168 185.2 168.8 185.6 169.6 185.9 170.4 186.2 171.2 186.6 172 186.9 172.8 187.3 173.6 187.6 174.4 188 175.2 188.4 176 188.7 176.7 189.1 177.5 189.4 178.3 189.8 179.1 190.2 179.9 190.6 180.7 190.9 181.5 191.3 182.3 191.7 183.1 192.1 183.9 192.4 184.6 192.8 185.4 193.2 186.2 193.6 187 194 187.8 194.4 188.6 194.8 189.4 195.2 190.2 195.5 191 195.9 191.8 196.3 192.5 196.7 193.3 197.2 194.1 197.6 194.9 198 195.7 198.4 196.5 198.8 197.3 199.2 198.1 199.6 198.9 200 199.7 200.5 200.5 200.9 201.2 201.3 202 201.7 202.8 202.2 203.6 202.6 204.4 203 205.2 203.5 206 203.9 206.8 204.3 207.6 204.8 208.4 205.2 209.1 205.7 209.9 206.1 210.7 206.6 211.5 207 212.3 207.5 213.1 207.9 213.9 208.4 214.7 208.8 215.5 209.3 216.3 209.7 217 210.2 217.8 210.7 218.6 211.1 219.4 211.6 220.2 212.1 221 212.6 221.8 213 222.6 213.5 223.4 214 224.2 214.5 225 214.9 225.7 215.4 226.5 215.9 227.3 216.4 228.1 216.9 228.9 217.4 229.7 217.9 230.5 218.4 231.3 218.9 232.1 219.4 232.9 219.9 233.6 220.4 234.4 220.9 235.2 221.4 236 221.9 236.8 222.4 237.6 222.9 238.4 223.4 239.2 223.9 240 224.4 240.8 224.9 241.5 225.5 242.3 226 243.1 226.5 243.9 227 244.7 227.6 245.5 228.1" stroke="#a895d6" stroke-width="1.0" fill="none" stroke-linejoin="round"/>
<path d="M25 160.7 25.8 160.9 26.6 161 27.4 161.2 28.2 161.4 29 161.5 29.7 161.7 30.5 161.9 31.3 162 32.1 162.2 32.9 162.3 33.7 162.5 34.5 162.7 35.3 162.8 36.1 163 36.9 163.1 37.6 163.3 38.4 163.4 39.2 163.6 40 163.7 40.8 163.9 41.6 164 42.4 164.2 43.2 164.3 44 164.5 44.8 164.6 45.5 164.8 46.3 165 47.1 165.1 47.9 165.3 48.7 165.4 49.5 165.6 50.3 165.7 51.1 165.9 51.9 166 52.7 166.2 53.5 166.3 54.2 166.5 55 166.6 55.8 166.8 56.6 166.9 57.4 167.1 58.2 167.2 59 167.4 59.8 167.6 60.6 167.7 61.4 167.9 62.1 168 62.9 168.2 63.7 168.4 64.5 168.5 65.3 168.7 66.1 168.8 66.9 169 67.7 169.2 68.5 169.3 69.3 169.5 70 169.7 70.8 169.8 71.6 170 72.4 170.2 73.2 170.4 74 170.5 74.8 170.7 75.6 170.9 76.4 171.1 77.2 171.3 78 171.4 78.7 171.6 79.5 171.8 80.3 172 81.1 172.2 81.9 172.4 82.7 172.6 83.5 172.8 84.3 173 85.1 173.2 85.9 173.4 86.6 173.6 87.4 173.8 88.2 174 89 174.2 89.8 174.4 90.6 174.6 91.4 174.8 92.2 175 93 175.2 93.8 175.4 94.5 175.7 95.3 175.9 96.1 176.1 96.9 176.3 97.7 176.6 98.5 176.8 99.3 177 100.1 177.3 100.9 177.5 101.7 177.7 102.5 178 103.2 178.2 104 178.5 104.8 178.7 105.6 179 106.4 179.2 107.2 179.5 108 179.7 108.8 180 109.6 180.2 110.4 180.5 111.1 180.8 111.9 181 112.7 181.3 113.5 181.6 114.3 181.9 115.1 182.1 115.9 182.4 116.7 182.7 117.5 183 118.3 183.3 119 183.6 119.8 183.8 120.6 184.1 121.4 184.4 122.2 184.7 123 185 123.8 185.3 124.6 185.6 125.4 185.9 126.2 186.3 127 186.6 127.7 186.9 128.5 187.2 129.3 187.5 130.1 187.8 130.9 188.2 131.7 188.5 132.5 188.8 133.3 189.2 134.1 189.5 134.9 189.8 135.6 190.2 136.4 190.5 137.2 190.8 138 191.2 138.8 191.5 139.6 191.9 140.4 192.2 141.2 192.6 142 192.9 142.8 193.3 143.5 193.7 144.3 194 145.1 194.4 145.9 194.8 146.7 195.1 147.5 195.5 148.3 195.9 149.1 196.3 149.9 196.6 150.7 197 151.5 197.4 152.2 197.8 153 198.2 153.8 198.6 154.6 199 155.4 199.3 156.2 199.7 157 200.1 157.8 200.5 158.6 200.9 159.4 201.3 160.1 201.8 160.9 202.2 161.7 202.6 162.5 203 163.3 203.4 164.1 203.8 164.9 204.2 165.7 204.6 166.5 205.1 167.3 205.5 168 205.9 168.8 206.3 169.6 206.8 170.4 207.2 171.2 207.6 172 208.1 172.8 208.5 173.6 208.9 174.4 209.4 175.2 209.8 176 210.2 176.7 210.7 177.5 211.1 178.3 211.6 179.1 212 179.9 212.5 180.7 212.9 181.5 213.4 182.3 213.8 183.1 214.3 183.9 214.7 184.6 215.2 185.4 215.6 186.2 216.1 187 216.5 187.8 217 188.6 217.4 189.4 217.9 190.2 218.4 191 218.8 191.8 219.3 192.5 219.8 193.3 220.2 194.1 220.7 194.9 221.1 195.7 221.6 196.5 222.1 197.3 222.5 198.1 223 198.9 223.5 199.7 223.9 200.5 224.4 201.2 224.9 202 225.3 202.8 225.8 203.6 226.3 204.4 226.8 205.2 227.2 206 227.7 206.8 228.2 207.6 228.6 208.4 229.1 209.1 229.6 209.9 230 210.7 230.5 211.5 231 212.3 231.4 213.1 231.9 213.9 232.4 214.7 232.8 215.5 233.3 216.3 233.8 217 234.2 217.8 234.7 218.6 235.2 219.4 235.6 220.2 236.1 221 236.5 221.8 237 222.6 237.4 223.4 237.9 224.2 238.4 225 238.8 225.7 239.3 226.5 239.7 227.3 240.2 228.1 240.6 228.9 241.1 229.7 241.5 230.5 241.9 231.3 242.4 232.1 242.8 232.9 243.3 233.6 243.7 234.4 244.1 235.2 244.6 236 245 236.8 245.4 237.6 245.8 238.4 246.3 239.2 246.7 240 247.1 240.8 247.5 241.5 247.9 242.3 248.3 243.1 248.7 243.9 249.1 244.7 249.6 245.5 249.9" stroke="#7f6cb8" stroke-width="1.0" fill="none" stroke-linejoin="round"/>
<path d="M25 166 25.8 166.2 26.6 166.4 27.4 166.6 28.2 166.8 29 167 29.7 167.2 30.5 167.4 31.3 167.6 32.1 167.8 32.9 168 33.7 168.2 34.5 168.4 35.3 168.7 36.1 168.9 36.9 169.1 37.6 169.3 38.4 169.5 39.2 169.7 40 169.9 40.8 170.1 41.6 170.3 42.4 170.5 43.2 170.7 44 170.9 44.8 171.1 45.5 171.3 46.3 171.5 47.1 171.7 47.9 171.9 48.7 172.1 49.5 172.3 50.3 172.5 51.1 172.7 51.9 172.9 52.7 173.1 53.5 173.3 54.2 173.5 55 173.7 55.8 174 56.6 174.2 57.4 174.4 58.2 174.6 59 174.8 59.8 175 60.6 175.2 61.4 175.5 62.1 175.7 62.9 175.9 63.7 176.1 64.5 176.3 65.3 176.6 66.1 176.8 66.9 177 67.7 177.3 68.5 177.5 69.3 177.7 70 178 70.8 178.2 71.6 178.4 72.4 178.7 73.2 178.9 74 179.2 74.8 179.4 75.6 179.6 76.4 179.9 77.2 180.1 78 180.4 78.7 180.6 79.5 180.9 80.3 181.2 81.1 181.4 81.9 181.7 82.7 182 83.5 182.2 84.3 182.5 85.1 182.8 85.9 183 86.6 183.3 87.4 183.6 88.2 183.9 89 184.1 89.8 184.4 90.6 184.7 91.4 185 92.2 185.3 93 185.6 93.8 185.9 94.5 186.2 95.3 186.5 96.1 186.8 96.9 187.1 97.7 187.4 98.5 187.7 99.3 188 100.1 188.3 100.9 188.7 101.7 189 102.5 189.3 103.2 189.6 104 190 104.8 190.3 105.6 190.6 106.4 190.9 107.2 191.3 108 191.6 108.8 192 109.6 192.3 110.4 192.7 111.1 193 111.9 193.4 112.7 193.7 113.5 194.1 114.3 194.4 115.1 194.8 115.9 195.2 116.7 195.5 117.5 195.9 118.3 196.3 119 196.7 119.8 197 120.6 197.4 121.4 197.8 122.2 198.2 123 198.6 123.8 199 124.6 199.4 125.4 199.8 126.2 200.2 127 200.6 127.7 201 128.5 201.4 129.3 201.8 130.1 202.2 130.9 202.6 131.7 203 132.5 203.4 133.3 203.8 134.1 204.3 134.9 204.7 135.6 205.1 136.4 205.6 137.2 206 138 206.4 138.8 206.9 139.6 207.3 140.4 207.7 141.2 208.2 142 208.6 142.8 209.1 143.5 209.5 144.3 210 145.1 210.4 145.9 210.9 146.7 211.3 147.5 211.8 148.3 212.2 149.1 212.7 149.9 213.2 150.7 213.6 151.5 214.1 152.2 214.6 153 215 153.8 215.5 154.6 216 155.4 216.5 156.2 216.9 157 217.4 157.8 217.9 158.6 218.4 159.4 218.9 160.1 219.4 160.9 219.8 161.7 220.3 162.5 220.8 163.3 221.3 164.1 221.8 164.9 222.3 165.7 222.8 166.5 223.3 167.3 223.8 168 224.3 168.8 224.8 169.6 225.3 170.4 225.8 171.2 226.3 172 226.8 172.8 227.3 173.6 227.8 174.4 228.3 175.2 228.8 176 229.3 176.7 229.8 177.5 230.3 178.3 230.8 179.1 231.3 179.9 231.8 180.7 232.3 181.5 232.8 182.3 233.4 183.1 233.9 183.9 234.4 184.6 234.9 185.4 235.4 186.2 235.9 187 236.4 187.8 236.9 188.6 237.4 189.4 237.9 190.2 238.4 191 238.9 191.8 239.4 192.5 239.9 193.3 240.4 194.1 240.9 194.9 241.4 195.7 241.9 196.5 242.4 197.3 242.9 198.1 243.4 198.9 243.9 199.7 244.4 200.5 244.9 201.2 245.4 202 245.9 202.8 246.4 203.6 246.9 204.4 247.4 205.2 247.8 206 248.3 206.8 248.8 207.6 249.3 208.4 249.8 209.1 250.2 209.9 250.7 210.7 251.2 211.5 251.6 212.3 252.1 213.1 252.6 213.9 253 214.7 253.5 215.5 253.9 216.3 254.4 217 254.8 217.8 255.3 218.6 255.7 219.4 256.2 220.2 256.6 221 257 221.8 257.5 222.6 257.9 223.4 258.3 224.2 258.7 225 259.2 225.7 259.6 226.5 260 227.3 260.4 228.1 260.8 228.9 261.2 229.7 261.6 230.5 262 231.3 262.3 232.1 262.7 232.9 263.1 233.6 263.5 234.4 263.8 235.2 264.2 236 264.5 236.8 264.9 237.6 265.2 238.4 265.6 239.2 265.9 240 266.2 240.8 266.5 241.5 266.8 242.3 267.2 243.1 267.5 243.9 267.7 244.7 268 245.5 268.3" stroke="#7a58bc" stroke-width="1.0" fill="none" stroke-linejoin="round"/>
<path d="M25 172.3 25.8 172.5 26.6 172.7 27.4 172.9 28.2 173.1 29 173.3 29.7 173.5 30.5 173.7 31.3 173.9 32.1 174.1 32.9 174.3 33.7 174.5 34.5 174.7 35.3 174.9 36.1 175.1 36.9 175.3 37.6 175.5 38.4 175.7 39.2 175.9 40 176.1 40.8 176.3 41.6 176.6 42.4 176.8 43.2 177 44 177.2 44.8 177.4 45.5 177.6 46.3 177.9 47.1 178.1 47.9 178.3 48.7 178.5 49.5 178.8 50.3 179 51.1 179.2 51.9 179.4 52.7 179.7 53.5 179.9 54.2 180.1 55 180.4 55.8 180.6 56.6 180.9 57.4 181.1 58.2 181.3 59 181.6 59.8 181.8 60.6 182.1 61.4 182.3 62.1 182.6 62.9 182.9 63.7 183.1 64.5 183.4 65.3 183.6 66.1 183.9 66.9 184.2 67.7 184.4 68.5 184.7 69.3 185 70 185.3 70.8 185.5 71.6 185.8 72.4 186.1 73.2 186.4 74 186.7 74.8 187 75.6 187.2 76.4 187.5 77.2 187.8 78 188.1 78.7 188.4 79.5 188.7 80.3 189 81.1 189.3 81.9 189.7 82.7 190 83.5 190.3 84.3 190.6 85.1 190.9 85.9 191.2 86.6 191.6 87.4 191.9 88.2 192.2 89 192.6 89.8 192.9 90.6 193.2 91.4 193.6 92.2 193.9 93 194.3 93.8 194.6 94.5 194.9 95.3 195.3 96.1 195.7 96.9 196 97.7 196.4 98.5 196.7 99.3 197.1 100.1 197.5 100.9 197.8 101.7 198.2 102.5 198.6 103.2 199 104 199.3 104.8 199.7 105.6 200.1 106.4 200.5 107.2 200.9 108 201.3 108.8 201.7 109.6 202.1 110.4 202.5 111.1 202.9 111.9 203.3 112.7 203.7 113.5 204.1 114.3 204.5 115.1 204.9 115.9 205.3 116.7 205.8 117.5 206.2 118.3 206.6 119 207 119.8 207.5 120.6 207.9 121.4 208.3 122.2 208.8 123 209.2 123.8 209.6 124.6 210.1 125.4 210.5 126.2 211 127 211.4 127.7 211.9 128.5 212.3 129.3 212.8 130.1 213.2 130.9 213.7 131.7 214.1 132.5 214.6 133.3 215.1 134.1 215.5 134.9 216 135.6 216.5 136.4 216.9 137.2 217.4 138 217.9 138.8 218.4 139.6 218.8 140.4 219.3 141.2 219.8 142 220.3 142.8 220.8 143.5 221.2 144.3 221.7 145.1 222.2 145.9 222.7 146.7 223.2 147.5 223.7 148.3 224.2 149.1 224.7 149.9 225.2 150.7 225.7 151.5 226.2 152.2 226.7 153 227.2 153.8 227.7 154.6 228.2 155.4 228.7 156.2 229.2 157 229.7 157.8 230.2 158.6 230.7 159.4 231.2 160.1 231.7 160.9 232.2 161.7 232.7 162.5 233.3 163.3 233.8 164.1 234.3 164.9 234.8 165.7 235.3 166.5 235.8 167.3 236.3 168 236.8 168.8 237.3 169.6 237.9 170.4 238.4 171.2 238.9 172 239.4 172.8 239.9 173.6 240.4 174.4 240.9 175.2 241.4 176 241.9 176.7 242.4 177.5 243 178.3 243.5 179.1 244 179.9 244.5 180.7 245 181.5 245.5 182.3 246 183.1 246.5 183.9 247 184.6 247.5 185.4 248 186.2 248.5 187 249 187.8 249.5 188.6 250 189.4 250.5 190.2 251 191 251.5 191.8 252 192.5 252.4 193.3 252.9 194.1 253.4 194.9 253.9 195.7 254.4 196.5 254.8 197.3 255.3 198.1 255.8 198.9 256.3 199.7 256.7 200.5 257.2 201.2 257.7 202 258.1 202.8 258.6 203.6 259 204.4 259.5 205.2 259.9 206 260.4 206.8 260.8 207.6 261.2 208.4 261.7 209.1 262.1 209.9 262.5 210.7 263 211.5 263.4 212.3 263.8 213.1 264.2 213.9 264.6 214.7 265 215.5 265.4 216.3 265.8 217 266.2 217.8 266.6 218.6 267 219.4 267.4 220.2 267.7 221 268.1 221.8 268.5 222.6 268.8 223.4 269.2 224.2 269.5 225 269.9 225.7 270.2 226.5 270.6 227.3 270.9 228.1 271.2 228.9 271.5 229.7 271.8 230.5 272.1 231.3 272.4 232.1 272.7 232.9 273 233.6 273.3 234.4 273.6 235.2 273.8 236 274.1 236.8 274.4 237.6 274.6 238.4 274.8 239.2 275.1 240 275.3 240.8 275.5 241.5 275.7 242.3 275.9 243.1 276.1 243.9 276.3 244.7 276.5 245.5 276.7" stroke="#5a3f96" stroke-width="1.0" fill="none" stroke-linejoin="round"/>
<path d="M25 175.6 25.8 175.8 26.6 176 27.4 176.2 28.2 176.5 29 176.7 29.7 176.9 30.5 177.2 31.3 177.4 32.1 177.6 32.9 177.9 33.7 178.1 34.5 178.3 35.3 178.6 36.1 178.8 36.9 179.1 37.6 179.3 38.4 179.5 39.2 179.8 40 180 40.8 180.3 41.6 180.5 42.4 180.8 43.2 181 44 181.3 44.8 181.5 45.5 181.8 46.3 182 47.1 182.3 47.9 182.5 48.7 182.8 49.5 183 50.3 183.3 51.1 183.5 51.9 183.8 52.7 184.1 53.5 184.3 54.2 184.6 55 184.9 55.8 185.1 56.6 185.4 57.4 185.7 58.2 186 59 186.2 59.8 186.5 60.6 186.8 61.4 187.1 62.1 187.3 62.9 187.6 63.7 187.9 64.5 188.2 65.3 188.5 66.1 188.8 66.9 189.1 67.7 189.4 68.5 189.7 69.3 190 70 190.3 70.8 190.6 71.6 190.9 72.4 191.2 73.2 191.5 74 191.8 74.8 192.1 75.6 192.4 76.4 192.7 77.2 193 78 193.3 78.7 193.6 79.5 194 80.3 194.3 81.1 194.6 81.9 194.9 82.7 195.3 83.5 195.6 84.3 195.9 85.1 196.3 85.9 196.6 86.6 196.9 87.4 197.3 88.2 197.6 89 198 89.8 198.3 90.6 198.6 91.4 199 92.2 199.3 93 199.7 93.8 200 94.5 200.4 95.3 200.8 96.1 201.1 96.9 201.5 97.7 201.8 98.5 202.2 99.3 202.6 100.1 202.9 100.9 203.3 101.7 203.7 102.5 204.1 103.2 204.4 104 204.8 104.8 205.2 105.6 205.6 106.4 205.9 107.2 206.3 108 206.7 108.8 207.1 109.6 207.5 110.4 207.9 111.1 208.3 111.9 208.7 112.7 209.1 113.5 209.5 114.3 209.9 115.1 210.3 115.9 210.7 116.7 211.1 117.5 211.5 118.3 211.9 119 212.3 119.8 212.7 120.6 213.1 121.4 213.6 122.2 214 123 214.4 123.8 214.8 124.6 215.2 125.4 215.7 126.2 216.1 127 216.5 127.7 216.9 128.5 217.4 129.3 217.8 130.1 218.2 130.9 218.6 131.7 219.1 132.5 219.5 133.3 220 134.1 220.4 134.9 220.8 135.6 221.3 136.4 221.7 137.2 222.2 138 222.6 138.8 223 139.6 223.5 140.4 223.9 141.2 224.4 142 224.8 142.8 225.3 143.5 225.7 144.3 226.2 145.1 226.6 145.9 227.1 146.7 227.6 147.5 228 148.3 228.5 149.1 228.9 149.9 229.4 150.7 229.8 151.5 230.3 152.2 230.8 153 231.2 153.8 231.7 154.6 232.1 155.4 232.6 156.2 233.1 157 233.5 157.8 234 158.6 234.5 159.4 234.9 160.1 235.4 160.9 235.9 161.7 236.3 162.5 236.8 163.3 237.2 164.1 237.7 164.9 238.2 165.7 238.6 166.5 239.1 167.3 239.6 168 240 168.8 240.5 169.6 241 170.4 241.4 171.2 241.9 172 242.4 172.8 242.8 173.6 243.3 174.4 243.8 175.2 244.2 176 244.7 176.7 245.2 177.5 245.6 178.3 246.1 179.1 246.5 179.9 247 180.7 247.5 181.5 247.9 182.3 248.4 183.1 248.8 183.9 249.3 184.6 249.7 185.4 250.2 186.2 250.7 187 251.1 187.8 251.6 188.6 252 189.4 252.5 190.2 252.9 191 253.3 191.8 253.8 192.5 254.2 193.3 254.7 194.1 255.1 194.9 255.6 195.7 256 196.5 256.4 197.3 256.9 198.1 257.3 198.9 257.7 199.7 258.1 200.5 258.6 201.2 259 202 259.4 202.8 259.8 203.6 260.3 204.4 260.7 205.2 261.1 206 261.5 206.8 261.9 207.6 262.3 208.4 262.7 209.1 263.1 209.9 263.5 210.7 263.9 211.5 264.3 212.3 264.7 213.1 265.1 213.9 265.4 214.7 265.8 215.5 266.2 216.3 266.6 217 266.9 217.8 267.3 218.6 267.7 219.4 268 220.2 268.4 221 268.7 221.8 269.1 222.6 269.4 223.4 269.8 224.2 270.1 225 270.4 225.7 270.8 226.5 271.1 227.3 271.4 228.1 271.7 228.9 272 229.7 272.4 230.5 272.7 231.3 273 232.1 273.3 232.9 273.5 233.6 273.8 234.4 274.1 235.2 274.4 236 274.7 236.8 274.9 237.6 275.2 238.4 275.4 239.2 275.7 240 275.9 240.8 276.2 241.5 276.4 242.3 276.6 243.1 276.9 243.9 277.1 244.7 277.3 245.5 277.5" stroke="#46306e" stroke-width="1.0" fill="none" stroke-linejoin="round"/>
</g>
<line x1="214" y1="141.4" x2="214" y2="296.2" stroke="#222" stroke-width="1.0" stroke-dasharray="3 2"/>
<rect x="25.5" y="141.4" width="219.5" height="154.8" fill="none" stroke="#808080" stroke-width="0.9"/>
<line x1="56.5" y1="296.2" x2="56.5" y2="293.7" stroke="#808080" stroke-width="0.9"/>
<text x="56.5" y="304.9" font-size="9" text-anchor="middle" fill="#231f20">0.0</text>
<line x1="119.5" y1="296.2" x2="119.5" y2="293.7" stroke="#808080" stroke-width="0.9"/>
<text x="119.5" y="304.9" font-size="9" text-anchor="middle" fill="#231f20">0.2</text>
<line x1="182.5" y1="296.2" x2="182.5" y2="293.7" stroke="#808080" stroke-width="0.9"/>
<text x="182.5" y="304.9" font-size="9" text-anchor="middle" fill="#231f20">0.4</text>
<line x1="245.5" y1="296.2" x2="245.5" y2="293.7" stroke="#808080" stroke-width="0.9"/>
<text x="245.5" y="304.9" font-size="9" text-anchor="middle" fill="#231f20">0.6</text>
<line x1="23" y1="296.2" x2="25.5" y2="296.2" stroke="#808080" stroke-width="0.9"/>
<text x="23.6" y="299.4" font-size="9" text-anchor="end" fill="#231f20">0</text>
<line x1="23" y1="265.24" x2="25.5" y2="265.24" stroke="#808080" stroke-width="0.9"/>
<text x="23.6" y="268.44" font-size="9" text-anchor="end" fill="#231f20">3</text>
<line x1="23" y1="234.28" x2="25.5" y2="234.28" stroke="#808080" stroke-width="0.9"/>
<text x="23.6" y="237.48" font-size="9" text-anchor="end" fill="#231f20">6</text>
<line x1="23" y1="203.32" x2="25.5" y2="203.32" stroke="#808080" stroke-width="0.9"/>
<text x="23.6" y="206.52" font-size="9" text-anchor="end" fill="#231f20">9</text>
<line x1="23" y1="172.36" x2="25.5" y2="172.36" stroke="#808080" stroke-width="0.9"/>
<text x="23.6" y="175.56" font-size="9" text-anchor="end" fill="#231f20">12</text>
<line x1="23" y1="141.4" x2="25.5" y2="141.4" stroke="#808080" stroke-width="0.9"/>
<text x="23.6" y="144.6" font-size="9" text-anchor="end" fill="#231f20">15</text>
<text x="127.6" y="311.4" font-size="9" fill="#231f20"><tspan font-style="italic">V</tspan><tspan font-size="6.5" dy="1.2">g</tspan><tspan dy="-1.2"> (V)</tspan></text>
<text transform="translate(12.8 217) rotate(-90)" font-size="9" text-anchor="middle" fill="#231f20"><tspan font-style="italic">I</tspan> (μA)</text>
<line x1="43.9" y1="237.4" x2="62.6" y2="237.4" stroke="#ab98d8" stroke-width="1.0"/>
<text x="64.6" y="241.2" font-size="9.3" fill="#231f20">0</text>
<line x1="43.9" y1="246.3" x2="62.6" y2="246.3" stroke="#8d78c6" stroke-width="1.0"/>
<text x="64.6" y="250.1" font-size="9.3" fill="#231f20">10</text>
<line x1="43.9" y1="255.6" x2="62.6" y2="255.6" stroke="#8a68cc" stroke-width="1.0"/>
<text x="64.6" y="259.4" font-size="9.3" fill="#231f20">50</text>
<line x1="43.9" y1="265" x2="62.6" y2="265" stroke="#a592c4" stroke-width="1.6"/>
<text x="64.6" y="268.8" font-size="9.3" fill="#231f20">100</text>
<line x1="43.9" y1="274.5" x2="62.6" y2="274.5" stroke="#4d3575" stroke-width="1.0"/>
<text x="64.6" y="278.3" font-size="9.3" fill="#231f20">150 mM</text>
<text x="265.5" y="141.7" font-size="12" font-weight="bold" fill="#000">e</text>
<clipPath id="clip_e0"><rect x="303.8" y="141.7" width="133.6" height="52.1"/></clipPath>
<path d="M303.4 184.2 303.7 184.9 304 185.7 304.3 185.6 304.6 185.3 304.9 185.8 305.2 186.4 305.5 187 305.8 186.4 306.1 186.2 306.4 187 306.7 187.3 307 188 307.3 188.1 307.6 187.8 307.9 187.7 308.2 188.7 308.5 188.2 308.8 187.7 309.1 187.4 309.4 187.8 309.7 188 310 187.9 310.3 188 310.6 188.2 310.9 188.5 311.2 188.9 311.5 188.7 311.8 187.8 312.1 187.5 312.4 184.2 312.7 181.7 313 181.8 313.3 182.7 313.6 183 313.9 183.8 314.2 185.6 314.5 185.3 314.8 185.7 315.1 185.1 315.4 174.1 315.7 157.9 316 147.8 316.3 151.3 316.6 154.4 316.9 156.7 317.2 159.7 317.5 161.7 317.8 164.8 318.1 166.3 318.4 168.4 318.7 169.9 319 171.8 319.3 172.8 319.6 174.5 319.9 175.4 320.2 177 320.5 177.9 320.8 178.6 321.1 179 321.4 180.2 321.7 181 322 182.1 322.3 182.2 322.6 182.8 322.9 183.4 323.2 183.8 323.5 184.1 323.8 184.5 324.1 184.5 324.4 184.5 324.7 184.9 325 185.6 325.3 186.5 325.6 186.8 325.9 187.1 326.2 187.2 326.5 187.3 326.8 187.2 327.1 187.5 327.4 188.1 327.7 187.6 328 187.3 328.3 188.2 328.6 170.1 328.9 152.4 329.2 148.8 329.5 151.4 329.8 155.5 330.1 158.5 330.4 160.6 330.7 162.9 331 164.8 331.3 166.3 331.6 168.2 331.9 170.1 332.2 172 332.5 173.4 332.8 174.5 333.1 176.1 333.4 176.5 333.7 177.8 334 179 334.3 179.5 334.6 179.4 334.9 180.1 335.2 181.2 335.5 182.1 335.8 183.2 336.1 183 336.4 183.5 336.7 184.2 337 184.4 337.3 183.8 337.6 184.9 337.9 186.2 338.2 186.4 338.5 185.9 338.8 186 339.1 186.3 339.4 187.5 339.7 187.4 340 187.3 340.3 187.8 340.6 187.5 340.9 188.2 341.2 187.6 341.5 187.4 341.8 187.8 342.1 188.4 342.4 188.4 342.7 188.3 343 187.4 343.3 187.4 343.6 187.5 343.9 187.6 344.2 188.1 344.5 188.1 344.8 188.5 345.1 188.4 345.4 188.2 345.7 188.4 346 188.5 346.3 188.8 346.6 188.4 346.9 188.4 347.2 187.9 347.5 188.8 347.8 189.3 348.1 188.8 348.4 188.5 348.7 188 349 188.4 349.3 188.6 349.6 189.4 349.9 189.1 350.2 188.6 350.5 187.6 350.8 188.7 351.1 170.4 351.4 151.3 351.7 148 352 150.8 352.3 155.6 352.6 158.3 352.9 160.6 353.2 162.6 353.5 163.8 353.8 166.1 354.1 167.5 354.4 169.8 354.7 170.6 355 172.1 355.3 174.3 355.6 176.1 355.9 176.4 356.2 176.8 356.5 178.4 356.8 179.6 357.1 179.8 357.4 180.4 357.7 180.9 358 181.3 358.3 181.9 358.6 183.2 358.9 183.9 359.2 185 359.5 184.8 359.8 184.9 360.1 184.7 360.4 185.1 360.7 185 361 184.8 361.3 185.9 361.6 186.8 361.9 187.1 362.2 187.5 362.5 187.4 362.8 187 363.1 187.2 363.4 187.1 363.7 186.9 364 186.6 364.3 186.5 364.6 187.2 364.9 187.6 365.2 187.6 365.5 188.3 365.8 188.3 366.1 188.4 366.4 188.8 366.7 188.2 367 187.4 367.3 188.1 367.6 187.9 367.9 188.7 368.2 188.7 368.5 187.6 368.8 186.4 369.1 185 369.4 185.9 369.7 185.8 370 185.9 370.3 186.1 370.6 186.8 370.9 187.2 371.2 187.6 371.5 186.8 371.8 186.8 372.1 186.2 372.4 186.9 372.7 187.5 373 187.3 373.3 187.7 373.6 187.9 373.9 188.3 374.2 187.9 374.5 187.6 374.8 170 375.1 153.5 375.4 150.2 375.7 153 376 155.9 376.3 158.6 376.6 161 376.9 163.2 377.2 165.1 377.5 166.6 377.8 168.4 378.1 171 378.4 172.5 378.7 173.7 379 174.7 379.3 175.9 379.6 177.1 379.9 177.7 380.2 178.7 380.5 179.7 380.8 180.1 381.1 180.6 381.4 181 381.7 181.5 382 182.7 382.3 182.3 382.6 183.1 382.9 183.6 383.2 184 383.5 184.6 383.8 185.5 384.1 185.6 384.4 185.7 384.7 185.7 385 186 385.3 186.7 385.6 186.6 385.9 186.3 386.2 186.2 386.5 186.2 386.8 186.2 387.1 187.3 387.4 187.6 387.7 187.5 388 188.2 388.3 187.7 388.6 188.1 388.9 188.3 389.2 187.6 389.5 187.2 389.8 187.3 390.1 188.1 390.4 188.7 390.7 188 391 188.5 391.3 175.8 391.6 156.8 391.9 145.4 392.2 149 392.5 151.6 392.8 154.7 393.1 157.3 393.4 160.5 393.7 163.7 394 166.6 394.3 167.7 394.6 168.4 394.9 170.1 395.2 171.4 395.5 173.9 395.8 175.1 396.1 175.7 396.4 177.2 396.7 178.2 397 178.2 397.3 179.1 397.6 180 397.9 180.8 398.2 181.6 398.5 182 398.8 182.7 399.1 183 399.4 183.2 399.7 184.4 400 184.8 400.3 185.1 400.6 184.7 400.9 185.1 401.2 185.9 401.5 185.5 401.8 186.4 402.1 186.3 402.4 186.7 402.7 186.8 403 187 403.3 187.6 403.6 187.3 403.9 188 404.2 187.4 404.5 180.5 404.8 171 405.1 164.5 405.4 166.5 405.7 168.8 406 170.9 406.3 171.4 406.6 173.2 406.9 175.2 407.2 176.5 407.5 177 407.8 177.6 408.1 178.4 408.4 178.9 408.7 179.8 409 180.6 409.3 181.3 409.6 182.5 409.9 182.8 410.2 182.6 410.5 183.8 410.8 183.7 411.1 184.1 411.4 184.5 411.7 184.8 412 184.9 412.3 185.3 412.6 186.6 412.9 186.2 413.2 186.3 413.5 187 413.8 187.2 414.1 187.4 414.4 187.4 414.7 185.6 415 184.8 415.3 185.4 415.6 186 415.9 186.7 416.2 186.8 416.5 186.7 416.8 186.8 417.1 186.8 417.4 187.1 417.7 172.6 418 157.6 418.3 154.4 418.6 157 418.9 160.2 419.2 163 419.5 165.3 419.8 167.2 420.1 169 420.4 170.4 420.7 172 421 172.8 421.3 174.1 421.6 175.1 421.9 176.6 422.2 177.4 422.5 178.3 422.8 179.4 423.1 180.7 423.4 180.8 423.7 181 424 182.2 424.3 182.2 424.6 183.1 424.9 183.3 425.2 183.8 425.5 183.5 425.8 184.6 426.1 184.8 426.4 184.9 426.7 186.2 427 186.4 427.3 187.8 427.6 187.3 427.9 186.9 428.2 186.9 428.5 187.6 428.8 187.4 429.1 187.5 429.4 187.7 429.7 187.2 430 187.5 430.3 187.4 430.6 182.1 430.9 167.7 431.2 153 431.5 155.8 431.8 158.1 432.1 159.9 432.4 162.9 432.7 165.1 433 166.4 433.3 168.5 433.6 169.8 433.9 171.6 434.2 173.3 434.5 174.7 434.8 175.9 435.1 177 435.4 177.5 435.7 178.4 436 179.2 436.3 180 436.6 181 436.9 181.9 437.2 183 437.5 182.1 437.8 183.1" stroke="#ad98da" stroke-width="1.1" fill="none" stroke-linejoin="round" clip-path="url(#clip_e0)"/>
<clipPath id="clip_e1"><rect x="303.8" y="194.8" width="133.6" height="52.2"/></clipPath>
<path d="M303.4 231.5 303.7 233.2 304 226.1 304.3 215 304.6 209.9 304.9 212.3 305.2 214.2 305.5 218.3 305.8 218.9 306.1 219.3 306.4 220.2 306.7 222.2 307 225 307.3 227.3 307.6 229.2 307.9 231.4 308.2 232.9 308.5 233 308.8 234.1 309.1 234.4 309.4 233.7 309.7 235 310 235.2 310.3 235.3 310.6 237.8 310.9 238.1 311.2 237.1 311.5 237.3 311.8 239.9 312.1 238.8 312.4 239.4 312.7 239.7 313 239.9 313.3 240.2 313.6 239.3 313.9 239 314.2 228.2 314.5 211.7 314.8 203 315.1 207.4 315.4 208.5 315.7 211.7 316 212.9 316.3 214.8 316.6 217.2 316.9 219.6 317.2 221.1 317.5 220.3 317.8 224.7 318.1 225.8 318.4 226.6 318.7 228.8 319 229.2 319.3 228.9 319.6 231.2 319.9 232.6 320.2 232.4 320.5 234.3 320.8 235.1 321.1 234.2 321.4 237 321.7 237.1 322 235.9 322.3 237.1 322.6 237.6 322.9 238.8 323.2 237.3 323.5 239 323.8 239.9 324.1 240.3 324.4 240.5 324.7 241.4 325 236 325.3 227.4 325.6 221.4 325.9 224.3 326.2 226.3 326.5 227.3 326.8 228.2 327.1 229.7 327.4 227.7 327.7 230 328 228.7 328.3 231.2 328.6 233.6 328.9 236 329.2 235.1 329.5 235.8 329.8 235.9 330.1 234 330.4 236.3 330.7 236.8 331 237.4 331.3 236.8 331.6 230.7 331.9 221.1 332.2 216.6 332.5 218.4 332.8 223.4 333.1 222.8 333.4 223.4 333.7 224.6 334 225.1 334.3 228.3 334.6 229.5 334.9 228.7 335.2 230.1 335.5 232.3 335.8 231.2 336.1 232.6 336.4 233.2 336.7 236.5 337 236.4 337.3 235.8 337.6 235.6 337.9 238.2 338.2 232.2 338.5 219.6 338.8 202.1 339.1 205.2 339.4 208 339.7 210.2 340 212.9 340.3 216.2 340.6 217.4 340.9 218.2 341.2 222.1 341.5 225 341.8 224.9 342.1 226.5 342.4 225 342.7 228.4 343 228.2 343.3 229.3 343.6 233 343.9 231.8 344.2 232.9 344.5 232.6 344.8 232 345.1 232.6 345.4 234.6 345.7 234.3 346 235.1 346.3 237 346.6 237.2 346.9 236.3 347.2 238.9 347.5 238.9 347.8 240.3 348.1 238.7 348.4 238 348.7 227.8 349 218.2 349.3 220.6 349.6 222.5 349.9 224.8 350.2 225.7 350.5 227.9 350.8 230.3 351.1 229.9 351.4 229.5 351.7 230.6 352 223.4 352.3 210.6 352.6 202 352.9 204.1 353.2 207.5 353.5 211.4 353.8 212.8 354.1 216.6 354.4 218.4 354.7 220.2 355 220.7 355.3 224.9 355.6 225.5 355.9 224 356.2 227.6 356.5 227.9 356.8 231 357.1 231.5 357.4 230.9 357.7 232.2 358 232.2 358.3 232 358.6 233.5 358.9 235.9 359.2 236.1 359.5 236.2 359.8 235.7 360.1 237.5 360.4 238.1 360.7 239.6 361 239.6 361.3 242.6 361.6 238.2 361.9 222.7 362.2 208 362.5 206 362.8 205.6 363.1 207.2 363.4 211.1 363.7 215.9 364 219.3 364.3 217.7 364.6 220.4 364.9 224.2 365.2 225 365.5 224.3 365.8 225.1 366.1 225 366.4 229.6 366.7 230 367 230.3 367.3 230.2 367.6 231.6 367.9 231.5 368.2 231.6 368.5 233.4 368.8 234.3 369.1 236.1 369.4 236.7 369.7 238.9 370 238.2 370.3 238.5 370.6 238.8 370.9 237.4 371.2 240 371.5 238.7 371.8 236.4 372.1 239.2 372.4 240.1 372.7 239.4 373 240.7 373.3 241.4 373.6 241.6 373.9 239.8 374.2 240.4 374.5 239.5 374.8 239.5 375.1 229.3 375.4 213.6 375.7 205.6 376 207.8 376.3 211.5 376.6 214 376.9 215.5 377.2 218 377.5 220.7 377.8 223.2 378.1 223.8 378.4 226.8 378.7 227.8 379 229.5 379.3 228.3 379.6 228.4 379.9 231.2 380.2 231.5 380.5 233.1 380.8 235.5 381.1 232.7 381.4 234.7 381.7 238.3 382 238.6 382.3 237.8 382.6 238.3 382.9 237.9 383.2 239.1 383.5 240.7 383.8 239.2 384.1 239.9 384.4 239.9 384.7 240.8 385 241.5 385.3 238.8 385.6 241.2 385.9 242 386.2 239.3 386.5 233.6 386.8 226 387.1 225.9 387.4 228.5 387.7 227.9 388 228.6 388.3 229.2 388.6 230.2 388.9 230.9 389.2 231.1 389.5 234.1 389.8 234.6 390.1 234.1 390.4 237 390.7 236.2 391 238.3 391.3 236.1 391.6 239.4 391.9 238.3 392.2 237.5 392.5 226.4 392.8 206.9 393.1 195.7 393.4 200.3 393.7 203.4 394 207.3 394.3 210.2 394.6 212.9 394.9 215.2 395.2 217.9 395.5 219.5 395.8 222.2 396.1 224.2 396.4 222.9 396.7 223.2 397 227.2 397.3 227.8 397.6 229.2 397.9 230.1 398.2 231.3 398.5 234.3 398.8 233.2 399.1 233.8 399.4 234.3 399.7 233.8 400 234 400.3 234.9 400.6 235.8 400.9 236.9 401.2 235.3 401.5 235 401.8 238.3 402.1 238.2 402.4 239.4 402.7 234.1 403 226.6 403.3 225.1 403.6 224.4 403.9 225.1 404.2 227.5 404.5 228.7 404.8 228 405.1 229.9 405.4 231.9 405.7 231 406 231.9 406.3 234 406.6 236.5 406.9 233.7 407.2 234.2 407.5 235.4 407.8 235.3 408.1 235.4 408.4 236.1 408.7 237.6 409 236.9 409.3 238.7 409.6 239.6 409.9 240.3 410.2 241.4 410.5 239.9 410.8 239.8 411.1 240.9 411.4 241.7 411.7 241.9 412 240.7 412.3 240.1 412.6 221.9 412.9 205.2 413.2 201.4 413.5 204.8 413.8 207.9 414.1 211.9 414.4 215 414.7 216.6 415 217.3 415.3 219.6 415.6 222 415.9 224.4 416.2 225.6 416.5 227.4 416.8 227.5 417.1 229.3 417.4 230.8 417.7 230.9 418 230.9 418.3 233.3 418.6 232.6 418.9 234.3 419.2 234.4 419.5 234.7 419.8 235.2 420.1 235.2 420.4 236.1 420.7 239.7 421 241.1 421.3 239.4 421.6 239.7 421.9 240.7 422.2 239.2 422.5 242.1 422.8 224.5 423.1 208.5 423.4 202.9 423.7 204.5 424 206.7 424.3 209.6 424.6 214.9 424.9 216.3 425.2 219.9 425.5 220.5 425.8 220.6 426.1 223.3 426.4 224.3 426.7 223.4 427 226.3 427.3 230.1 427.6 230.2 427.9 229.1 428.2 229.7 428.5 229.6 428.8 231.5 429.1 231.6 429.4 233.2 429.7 234.8 430 237.7 430.3 235.4 430.6 233 430.9 237.9 431.2 238.6 431.5 237.8 431.8 239 432.1 237.9 432.4 238.1 432.7 239.3 433 239.1 433.3 235.7 433.6 225.1 433.9 213.9 434.2 215.8 434.5 218.4 434.8 221.4 435.1 223.6 435.4 223.4 435.7 225.5 436 224.6 436.3 225.2 436.6 227.8 436.9 229.8 437.2 232 437.5 230.5 437.8 232.9" stroke="#8165c0" stroke-width="1.25" fill="none" stroke-linejoin="round" clip-path="url(#clip_e1)"/>
<clipPath id="clip_e2"><rect x="303.8" y="248" width="133.6" height="51.2"/></clipPath>
<path d="M303.4 294.6 303.7 298.7 304 294.7 304.3 290 304.6 293.2 304.9 290.1 305.2 273.8 305.5 257.6 305.8 259.5 306.1 260.5 306.4 261.8 306.7 265 307 267.2 307.3 272.8 307.6 275.6 307.9 272.9 308.2 277.4 308.5 278.5 308.8 282.7 309.1 286.4 309.4 286.2 309.7 280.4 310 284.5 310.3 281 310.6 288 310.9 285.9 311.2 286.4 311.5 292.3 311.8 286 312.1 287.9 312.4 286.1 312.7 286.9 313 286.8 313.3 290.8 313.6 290.4 313.9 292.1 314.2 293.8 314.5 288.6 314.8 285.7 315.1 271.2 315.4 259 315.7 262 316 268.6 316.3 273.3 316.6 272 316.9 274.3 317.2 276.6 317.5 280.6 317.8 280.1 318.1 283.5 318.4 280.7 318.7 280.2 319 284.2 319.3 286.8 319.6 286.4 319.9 288.3 320.2 288.6 320.5 290.5 320.8 292.8 321.1 292.5 321.4 293.4 321.7 290.8 322 290 322.3 287.7 322.6 289.9 322.9 290.7 323.2 291.8 323.5 289.8 323.8 290.5 324.1 290.8 324.4 289.7 324.7 292.3 325 287.4 325.3 275.6 325.6 270.6 325.9 274.5 326.2 273.9 326.5 276.9 326.8 279.7 327.1 282.1 327.4 280.3 327.7 280.2 328 282.1 328.3 284.7 328.6 283.6 328.9 284 329.2 284.2 329.5 287.1 329.8 286.9 330.1 288.4 330.4 289.5 330.7 290.9 331 290.9 331.3 291.1 331.6 285.5 331.9 275.3 332.2 267.4 332.5 269.3 332.8 272.8 333.1 274.5 333.4 275.6 333.7 277.5 334 282.5 334.3 281.9 334.6 282.7 334.9 283.6 335.2 283.7 335.5 285.8 335.8 286.9 336.1 287.2 336.4 285.8 336.7 288.3 337 289.3 337.3 289.1 337.6 286.3 337.9 288.1 338.2 284.8 338.5 276.9 338.8 268.2 339.1 270 339.4 273.8 339.7 275.4 340 278.3 340.3 277.9 340.6 279.2 340.9 282.1 341.2 283 341.5 282.7 341.8 282.8 342.1 283.6 342.4 284.9 342.7 286.8 343 287.5 343.3 288.8 343.6 289.8 343.9 289.7 344.2 291.2 344.5 291.6 344.8 287.6 345.1 277.7 345.4 268.2 345.7 269.5 346 270.4 346.3 273.2 346.6 274.7 346.9 277.5 347.2 278.1 347.5 279.9 347.8 281.4 348.1 281.9 348.4 283.3 348.7 283.5 349 284.3 349.3 286.4 349.6 287.3 349.9 287.7 350.2 287.2 350.5 288.9 350.8 291.5 351.1 288.3 351.4 290.5 351.7 290.9 352 292.3 352.3 293.2 352.6 291.3 352.9 293.6 353.2 292.2 353.5 292.1 353.8 293.1 354.1 292.9 354.4 279.1 354.7 264.3 355 260.6 355.3 263.9 355.6 265.5 355.9 270 356.2 272 356.5 275.1 356.8 274.5 357.1 274 357.4 274.2 357.7 277 358 278 358.3 280.9 358.6 280.8 358.9 281.2 359.2 283.7 359.5 284.6 359.8 286.6 360.1 288.1 360.4 288.6 360.7 287.3 361 287.4 361.3 291.1 361.6 290.4 361.9 290.8 362.2 291 362.5 291.1 362.8 291.2 363.1 290.9 363.4 290.9 363.7 289.3 364 292.8 364.3 292.7 364.6 278.7 364.9 267.6 365.2 266 365.5 266.4 365.8 268.7 366.1 273 366.4 274.9 366.7 276.5 367 278.7 367.3 279.1 367.6 279.8 367.9 282.8 368.2 282.8 368.5 283.4 368.8 285 369.1 285.4 369.4 284.6 369.7 288.1 370 287.9 370.3 290.2 370.6 290.2 370.9 288.8 371.2 291.1 371.5 290.5 371.8 289.6 372.1 290.3 372.4 288.4 372.7 290.5 373 290.4 373.3 291 373.6 290.7 373.9 292.4 374.2 293 374.5 294.2 374.8 295.6 375.1 294.7 375.4 294.2 375.7 294.2 376 293 376.3 292.8 376.6 294.2 376.9 293.1 377.2 291.4 377.5 286.9 377.8 271.7 378.1 257.3 378.4 258.9 378.7 260.8 379 264.1 379.3 266.6 379.6 269.3 379.9 270.8 380.2 273.2 380.5 274.3 380.8 277.3 381.1 278.7 381.4 280.4 381.7 280.6 382 280.2 382.3 282.1 382.6 283.4 382.9 285.7 383.2 287.1 383.5 287.1 383.8 287.3 384.1 286.7 384.4 287.7 384.7 288.7 385 288.8 385.3 288.3 385.6 290.9 385.9 289.9 386.2 292.4 386.5 293.3 386.8 294.3 387.1 292.2 387.4 293 387.7 287.4 388 276.4 388.3 263.9 388.6 266.5 388.9 269 389.2 272.8 389.5 275.7 389.8 276.2 390.1 277.3 390.4 277.7 390.7 278.3 391 278.4 391.3 280.7 391.6 283.3 391.9 283.4 392.2 285.2 392.5 284.7 392.8 284.9 393.1 285.9 393.4 288.2 393.7 288.1 394 289.7 394.3 289.5 394.6 279.7 394.9 269.4 395.2 268.8 395.5 270.7 395.8 274.5 396.1 276.6 396.4 276.1 396.7 279.2 397 281 397.3 278.6 397.6 279.9 397.9 282.5 398.2 282.2 398.5 283.3 398.8 285.7 399.1 286.9 399.4 288 399.7 289 400 288.1 400.3 291.5 400.6 291.4 400.9 293.3 401.2 279.7 401.5 268 401.8 265.5 402.1 267.3 402.4 269.7 402.7 271.8 403 274.3 403.3 275.8 403.6 277 403.9 278.8 404.2 281.3 404.5 281.7 404.8 283 405.1 283.6 405.4 282 405.7 282.8 406 283.5 406.3 283.7 406.6 285 406.9 284.7 407.2 287 407.5 287.5 407.8 282.9 408.1 273.2 408.4 264.3 408.7 267.2 409 270 409.3 271 409.6 272.9 409.9 273.3 410.2 274.8 410.5 278.1 410.8 279.2 411.1 283.2 411.4 279.4 411.7 280.5 412 282.2 412.3 287 412.6 289 412.9 289.7 413.2 290.7 413.5 292.7 413.8 292.2 414.1 290.5 414.4 290.6 414.7 281.6 415 274.4 415.3 274.3 415.6 274.9 415.9 277.1 416.2 277.8 416.5 277.1 416.8 277 417.1 281.5 417.4 283 417.7 280.7 418 275.8 418.3 275.3 418.6 277.3 418.9 277.8 419.2 281.9 419.5 283.8 419.8 284.1 420.1 282.1 420.4 282.5 420.7 284.4 421 287.6 421.3 287.2 421.6 287.4 421.9 288.8 422.2 289 422.5 288.9 422.8 287.2 423.1 291 423.4 290.7 423.7 289.8 424 290.3 424.3 288.4 424.6 287 424.9 286.2 425.2 289.6 425.5 289.5 425.8 291.2 426.1 290.7 426.4 289.9 426.7 290.8 427 291.2 427.3 273.5 427.6 258.3 427.9 254.4 428.2 256.6 428.5 260.8 428.8 262.8 429.1 266.7 429.4 266.6 429.7 270.5 430 271 430.3 272.4 430.6 275 430.9 275.5 431.2 275.9 431.5 278 431.8 279.7 432.1 279.6 432.4 282.9 432.7 283 433 283.7 433.3 284.8 433.6 286 433.9 284.7 434.2 272.6 434.5 264.2 434.8 268 435.1 270.2 435.4 271.9 435.7 272.4 436 275 436.3 276.2 436.6 278.1 436.9 278.3 437.2 279.8 437.5 281.3 437.8 281" stroke="#4f3582" stroke-width="1.35" fill="none" stroke-linejoin="round" clip-path="url(#clip_e2)"/>
<line x1="303.3" y1="141.2" x2="437.9" y2="141.2" stroke="#6e6e6e" stroke-width="0.9"/>
<line x1="303.3" y1="299.7" x2="437.9" y2="299.7" stroke="#6e6e6e" stroke-width="0.9"/>
<line x1="303.3" y1="141.2" x2="303.3" y2="299.7" stroke="#9a9a9a" stroke-width="0.9"/>
<line x1="437.9" y1="141.2" x2="437.9" y2="299.7" stroke="#6e6e6e" stroke-width="0.9"/>
<line x1="303.3" y1="194.3" x2="437.9" y2="194.3" stroke="#4a4a4a" stroke-width="0.9"/>
<line x1="303.3" y1="247.5" x2="437.9" y2="247.5" stroke="#4a4a4a" stroke-width="0.9"/>
<line x1="301.3" y1="149" x2="303.3" y2="149" stroke="#6e6e6e" stroke-width="0.9"/>
<text x="301.4" y="152.2" font-size="9" text-anchor="end" fill="#231f20">0.12</text>
<line x1="301.3" y1="164.3" x2="303.3" y2="164.3" stroke="#6e6e6e" stroke-width="0.9"/>
<text x="301.4" y="167.5" font-size="9" text-anchor="end" fill="#231f20">0.08</text>
<line x1="301.3" y1="179.6" x2="303.3" y2="179.6" stroke="#6e6e6e" stroke-width="0.9"/>
<text x="301.4" y="182.8" font-size="9" text-anchor="end" fill="#231f20">0.04</text>
<line x1="301.3" y1="201.8" x2="303.3" y2="201.8" stroke="#6e6e6e" stroke-width="0.9"/>
<text x="301.4" y="205" font-size="9" text-anchor="end" fill="#231f20">0.12</text>
<line x1="301.3" y1="217.1" x2="303.3" y2="217.1" stroke="#6e6e6e" stroke-width="0.9"/>
<text x="301.4" y="220.3" font-size="9" text-anchor="end" fill="#231f20">0.08</text>
<line x1="301.3" y1="232.4" x2="303.3" y2="232.4" stroke="#6e6e6e" stroke-width="0.9"/>
<text x="301.4" y="235.6" font-size="9" text-anchor="end" fill="#231f20">0.04</text>
<line x1="301.3" y1="248.5" x2="303.3" y2="248.5" stroke="#6e6e6e" stroke-width="0.9"/>
<text x="301.4" y="251.7" font-size="9" text-anchor="end" fill="#231f20">0.12</text>
<line x1="301.3" y1="266" x2="303.3" y2="266" stroke="#6e6e6e" stroke-width="0.9"/>
<text x="301.4" y="269.2" font-size="9" text-anchor="end" fill="#231f20">0.08</text>
<line x1="301.3" y1="282.9" x2="303.3" y2="282.9" stroke="#6e6e6e" stroke-width="0.9"/>
<text x="301.4" y="286.1" font-size="9" text-anchor="end" fill="#231f20">0.04</text>
<line x1="301.3" y1="299.5" x2="303.3" y2="299.5" stroke="#6e6e6e" stroke-width="0.9"/>
<text x="301.4" y="302.7" font-size="9" text-anchor="end" fill="#231f20">0.00</text>
<text transform="translate(281.2 166.25) rotate(-90)" font-size="9.4" text-anchor="middle" fill="#231f20"><tspan font-style="italic">V</tspan><tspan font-size="6.5" dy="1.3">o</tspan><tspan dy="-1.3"> (V)</tspan></text>
<text transform="translate(281.2 219.4) rotate(-90)" font-size="9.4" text-anchor="middle" fill="#231f20"><tspan font-style="italic">V</tspan><tspan font-size="6.5" dy="1.3">o</tspan><tspan dy="-1.3"> (V)</tspan></text>
<text transform="translate(281.2 272.1) rotate(-90)" font-size="9.4" text-anchor="middle" fill="#231f20"><tspan font-style="italic">V</tspan><tspan font-size="6.5" dy="1.3">o</tspan><tspan dy="-1.3"> (V)</tspan></text>
<text x="373.6" y="149.2" font-size="9" text-anchor="middle" fill="#231f20">0 mM</text>
<text x="375.6" y="201.2" font-size="9" text-anchor="middle" fill="#231f20">50 mM</text>
<text x="372.6" y="254.2" font-size="9" text-anchor="middle" fill="#231f20">150 mM</text>
<line x1="303.5" y1="299.7" x2="303.5" y2="297.7" stroke="#6e6e6e" stroke-width="0.9"/>
<text x="303.5" y="307.8" font-size="9" text-anchor="middle" fill="#231f20">0</text>
<line x1="335.6" y1="299.7" x2="335.6" y2="297.7" stroke="#6e6e6e" stroke-width="0.9"/>
<text x="335.6" y="307.8" font-size="9" text-anchor="middle" fill="#231f20">0.1</text>
<line x1="367.7" y1="299.7" x2="367.7" y2="297.7" stroke="#6e6e6e" stroke-width="0.9"/>
<text x="367.7" y="307.8" font-size="9" text-anchor="middle" fill="#231f20">0.2</text>
<line x1="399.8" y1="299.7" x2="399.8" y2="297.7" stroke="#6e6e6e" stroke-width="0.9"/>
<text x="399.8" y="307.8" font-size="9" text-anchor="middle" fill="#231f20">0.3</text>
<line x1="431.9" y1="299.7" x2="431.9" y2="297.7" stroke="#6e6e6e" stroke-width="0.9"/>
<text x="431.9" y="307.8" font-size="9" text-anchor="middle" fill="#231f20">0.4</text>
<text x="362" y="315.5" font-size="9" fill="#231f20"><tspan font-style="italic">t</tspan> (s)</text>
<text x="265.5" y="333.2" font-size="12" font-weight="bold" fill="#000">g</text>
<clipPath id="clip_g0"><rect x="303.8" y="331.1" width="133.6" height="52"/></clipPath>
<path d="M303.4 377.3 303.7 377.9 304 366.1 304.3 348.8 304.6 339.1 304.9 343.6 305.2 347.1 305.5 349.8 305.8 352.6 306.1 355.4 306.4 358.1 306.7 360.2 307 362 307.3 363.7 307.6 365.4 307.9 366.6 308.2 368 308.5 369.2 308.8 370.8 309.1 371.4 309.4 372.4 309.7 372.7 310 373.7 310.3 374.3 310.6 374.6 310.9 375.1 311.2 358.2 311.5 340.6 311.8 338.1 312.1 342.6 312.4 346.4 312.7 349.9 313 352.1 313.3 354.9 313.6 357.1 313.9 359.7 314.2 361.6 314.5 363.4 314.8 365.1 315.1 366.3 315.4 367.7 315.7 368.7 316 370.5 316.3 371 316.6 371.9 316.9 372.1 317.2 372.6 317.5 373.4 317.8 369.4 318.1 355.1 318.4 340.5 318.7 344.1 319 348.2 319.3 350.8 319.6 353.4 319.9 356.3 320.2 358.3 320.5 360.6 320.8 362.8 321.1 364.4 321.4 366 321.7 367.3 322 368.3 322.3 368.5 322.6 369.7 322.9 371 323.2 371.6 323.5 372.5 323.8 373.5 324.1 374.6 324.4 374.6 324.7 375 325 375.7 325.3 376.3 325.6 376.2 325.9 377.2 326.2 377.1 326.5 377.7 326.8 377.7 327.1 378 327.4 378.6 327.7 366.4 328 347.8 328.3 336.6 328.6 340.7 328.9 344.2 329.2 348.5 329.5 351 329.8 353.2 330.1 356.7 330.4 359.3 330.7 361.1 331 363.1 331.3 364.4 331.6 365.8 331.9 367.4 332.2 368.7 332.5 369.6 332.8 371.1 333.1 372 333.4 372.7 333.7 372.9 334 373.7 334.3 374.2 334.6 374.8 334.9 375.6 335.2 375.8 335.5 376.3 335.8 376.8 336.1 377.1 336.4 378 336.7 377.3 337 377.6 337.3 364.9 337.6 346.5 337.9 336.4 338.2 339.9 338.5 343.8 338.8 347.6 339.1 350.8 339.4 353.9 339.7 355.8 340 358.6 340.3 360.3 340.6 362 340.9 364.1 341.2 365.8 341.5 366.9 341.8 368 342.1 369.2 342.4 370.4 342.7 371.3 343 371.9 343.3 372.1 343.6 373.6 343.9 374.3 344.2 374.4 344.5 374.6 344.8 375.2 345.1 375.7 345.4 375.7 345.7 376.8 346 377.2 346.3 377.3 346.6 377.7 346.9 377.9 347.2 378.4 347.5 378.4 347.8 378.9 348.1 379.2 348.4 378.9 348.7 378.7 349 378.6 349.3 378.7 349.6 378.7 349.9 379 350.2 379.2 350.5 373.2 350.8 354.4 351.1 336.4 351.4 340.5 351.7 344.3 352 347.7 352.3 350.3 352.6 353.6 352.9 355.7 353.2 358.7 353.5 360.8 353.8 363.1 354.1 364.7 354.4 366.3 354.7 367.8 355 368.7 355.3 370.2 355.6 370.8 355.9 371.7 356.2 372.2 356.5 373.1 356.8 374 357.1 374.3 357.4 374.4 357.7 375.1 358 375.8 358.3 376.1 358.6 376.2 358.9 362 359.2 347.9 359.5 344.9 359.8 348.5 360.1 352.3 360.4 354.6 360.7 357.1 361 359.9 361.3 361.9 361.6 363.8 361.9 365.2 362.2 366.1 362.5 368.4 362.8 369.4 363.1 370.3 363.4 371.6 363.7 372.4 364 372.9 364.3 373.1 364.6 373.8 364.9 374.4 365.2 370.4 365.5 357.5 365.8 344.5 366.1 348.1 366.4 351.2 366.7 354.3 367 357.1 367.3 359.3 367.6 361.2 367.9 363.5 368.2 365.1 368.5 365.9 368.8 367.1 369.1 368.5 369.4 369.4 369.7 370.8 370 371.1 370.3 371.6 370.6 373 370.9 373.9 371.2 374 371.5 374.7 371.8 375.7 372.1 375.7 372.4 375.8 372.7 376 373 376.3 373.3 376.4 373.6 376.9 373.9 377 374.2 377.5 374.5 378.6 374.8 378.2 375.1 378.6 375.4 373 375.7 354.3 376 336.7 376.3 341 376.6 344.8 376.9 348.5 377.2 351.4 377.5 354.3 377.8 356.7 378.1 358.9 378.4 360.8 378.7 363.4 379 364.8 379.3 365.8 379.6 367.9 379.9 369.3 380.2 370 380.5 370.7 380.8 371.4 381.1 372.7 381.4 373.2 381.7 373.6 382 374.5 382.3 374.9 382.6 375.4 382.9 376.4 383.2 376.8 383.5 377.2 383.8 377.3 384.1 377.8 384.4 377.7 384.7 378.1 385 378.4 385.3 365.8 385.6 346.8 385.9 336.3 386.2 340.6 386.5 344.6 386.8 347.8 387.1 351.2 387.4 354.2 387.7 357.3 388 359.7 388.3 361.4 388.6 363.4 388.9 364.5 389.2 366.3 389.5 367.5 389.8 369 390.1 369.9 390.4 370.7 390.7 371.3 391 372.6 391.3 373.2 391.6 374 391.9 374.6 392.2 374.4 392.5 375.3 392.8 375.6 393.1 376.2 393.4 376.7 393.7 376.4 394 376.8 394.3 377.2 394.6 377.7 394.9 378.1 395.2 378 395.5 378.1 395.8 378.5 396.1 378 396.4 379 396.7 378.6 397 379.2 397.3 379.2 397.6 379.7 397.9 379.8 398.2 379.5 398.5 378.9 398.8 379.2 399.1 379.4 399.4 379.6 399.7 379.1 400 379.1 400.3 379.1 400.6 379.4 400.9 379.2 401.2 379.4 401.5 379.8 401.8 366.7 402.1 354.2 402.4 351.8 402.7 354.4 403 357.2 403.3 359.4 403.6 361.2 403.9 362.8 404.2 364.5 404.5 366.2 404.8 357.8 405.1 343.8 405.4 335.7 405.7 339.7 406 343.8 406.3 347.6 406.6 351 406.9 353.6 407.2 355.7 407.5 358.5 407.8 360.5 408.1 362.1 408.4 364.5 408.7 366.1 409 367.3 409.3 368.5 409.6 369.3 409.9 370.7 410.2 371.4 410.5 372.1 410.8 372.8 411.1 373.2 411.4 374.3 411.7 375.3 412 375.8 412.3 375.4 412.6 375.9 412.9 376.2 413.2 376.8 413.5 376.4 413.8 376.4 414.1 377 414.4 377.8 414.7 378 415 378.8 415.3 378.4 415.6 378.5 415.9 378.6 416.2 378.5 416.5 379 416.8 378.6 417.1 378.6 417.4 378.8 417.7 378.9 418 379.4 418.3 379.2 418.6 379.5 418.9 379.3 419.2 363.4 419.5 346.9 419.8 344 420.1 347 420.4 350.6 420.7 353.3 421 356.2 421.3 358.6 421.6 360.8 421.9 362.9 422.2 364.4 422.5 365.6 422.8 367 423.1 368.3 423.4 369.1 423.7 370.5 424 371.8 424.3 372.5 424.6 373.1 424.9 373.8 425.2 374.7 425.5 374.8 425.8 375.6 426.1 375.6 426.4 376.2 426.7 376.7 427 376.5 427.3 377.2 427.6 377.5 427.9 377.2 428.2 377.5 428.5 377.6 428.8 359.1 429.1 340.9 429.4 337.5 429.7 341.8 430 345.3 430.3 348.7 430.6 352.4 430.9 355.1 431.2 356.9 431.5 359 431.8 361.2 432.1 362.6 432.4 364.9 432.7 366.3 433 367.6 433.3 368.9 433.6 369.7 433.9 370.5 434.2 370.6 434.5 371.5 434.8 372.8 435.1 373.9 435.4 374.4 435.7 374.4 436 375.1 436.3 375.7 436.6 375.8 436.9 376.8 437.2 376.7 437.5 377.1 437.8 377.1" stroke="#a3d0ee" stroke-width="1.15" fill="none" stroke-linejoin="round" clip-path="url(#clip_g0)"/>
<clipPath id="clip_g1"><rect x="303.8" y="384.1" width="133.6" height="51.4"/></clipPath>
<path d="M303.4 428.7 303.7 418.2 304 410.9 304.3 407.6 304.6 408.5 304.9 409.8 305.2 410.3 305.5 411 305.8 413 306.1 413.6 306.4 415.5 306.7 416 307 415.4 307.3 415.8 307.6 416.8 307.9 416.7 308.2 418.5 308.5 419.5 308.8 421.3 309.1 421 309.4 421.5 309.7 422.7 310 423.6 310.3 422.8 310.6 424.7 310.9 424 311.2 425.3 311.5 424.8 311.8 424.6 312.1 423.9 312.4 424.6 312.7 427.2 313 426 313.3 427.4 313.6 427.9 313.9 426.8 314.2 420.2 314.5 409.7 314.8 401.8 315.1 403 315.4 405.8 315.7 407.4 316 410.4 316.3 411.1 316.6 410.8 316.9 412.1 317.2 412.3 317.5 410.6 317.8 406.1 318.1 402.7 318.4 403.8 318.7 406.7 319 407.8 319.3 410.3 319.6 410.4 319.9 411.6 320.2 412.5 320.5 413.1 320.8 417 321.1 418.5 321.4 417.7 321.7 418.9 322 417.6 322.3 419.9 322.6 421.2 322.9 420.9 323.2 421 323.5 421.8 323.8 422.6 324.1 416.8 324.4 410.7 324.7 410 325 411.2 325.3 413.4 325.6 414.4 325.9 415.5 326.2 414.9 326.5 416.1 326.8 417 327.1 417.8 327.4 418.8 327.7 419.4 328 419 328.3 421.1 328.6 422.4 328.9 422.1 329.2 423.1 329.5 422.5 329.8 422.1 330.1 422.9 330.4 425 330.7 424.7 331 423.6 331.3 412.7 331.6 400.7 331.9 398 332.2 400.9 332.5 401.5 332.8 402.6 333.1 404.2 333.4 407.9 333.7 409.6 334 410.4 334.3 411.4 334.6 413.5 334.9 415.6 335.2 415.4 335.5 416.6 335.8 419.4 336.1 419.6 336.4 419.3 336.7 420.1 337 420.5 337.3 421.5 337.6 422 337.9 421.7 338.2 422.2 338.5 423 338.8 422.7 339.1 423.4 339.4 423 339.7 424.8 340 426.1 340.3 424.9 340.6 425.8 340.9 425.8 341.2 425.8 341.5 420.9 341.8 416.6 342.1 416.5 342.4 415.9 342.7 417.9 343 418.2 343.3 418 343.6 419.1 343.9 420.5 344.2 420.9 344.5 421.6 344.8 421.7 345.1 421.8 345.4 423.3 345.7 422.7 346 424.1 346.3 424.5 346.6 424.3 346.9 424.4 347.2 424.5 347.5 424.9 347.8 421.3 348.1 409.8 348.4 396.8 348.7 398 349 401.6 349.3 403.5 349.6 405.2 349.9 407.2 350.2 408.1 350.5 411.4 350.8 412.3 351.1 413.2 351.4 413.4 351.7 415.6 352 417 352.3 418.7 352.6 419.5 352.9 418.8 353.2 418.4 353.5 420.7 353.8 420.4 354.1 421 354.4 421.5 354.7 422.5 355 423.3 355.3 422.5 355.6 422.6 355.9 422 356.2 423.7 356.5 424.1 356.8 423.2 357.1 425.1 357.4 425.3 357.7 424.7 358 424.9 358.3 418 358.6 411.7 358.9 410.7 359.2 411.5 359.5 413.3 359.8 412.2 360.1 414 360.4 416.1 360.7 417.8 361 419 361.3 418.3 361.6 417.8 361.9 419 362.2 422 362.5 422.1 362.8 421.6 363.1 420.7 363.4 422 363.7 422.4 364 423.5 364.3 424 364.6 422.3 364.9 417.2 365.2 409.2 365.5 403.2 365.8 404.2 366.1 405.5 366.4 406.7 366.7 410.9 367 413 367.3 412.9 367.6 415 367.9 413.3 368.2 410.1 368.5 406.8 368.8 408.6 369.1 410.8 369.4 413.6 369.7 414.5 370 414.8 370.3 415.6 370.6 416.2 370.9 417.3 371.2 417.3 371.5 418.5 371.8 419.6 372.1 420.9 372.4 420.4 372.7 421.4 373 422 373.3 421.6 373.6 420.7 373.9 421.6 374.2 423.4 374.5 423.5 374.8 425.8 375.1 425.7 375.4 424.8 375.7 424.9 376 425.5 376.3 426 376.6 425.7 376.9 426.2 377.2 428.6 377.5 428.2 377.8 427.5 378.1 422.2 378.4 407.4 378.7 394.9 379 397.2 379.3 399.7 379.6 401.5 379.9 404.3 380.2 406.8 380.5 407.3 380.8 407.8 381.1 410 381.4 412.6 381.7 413.6 382 414.7 382.3 414.2 382.6 415.1 382.9 416.9 383.2 418 383.5 418.6 383.8 419.7 384.1 420.8 384.4 421 384.7 420.7 385 420.2 385.3 421.6 385.6 422.1 385.9 422.6 386.2 424 386.5 423.5 386.8 423.7 387.1 424.7 387.4 424.1 387.7 422.9 388 423.7 388.3 421.2 388.6 408.5 388.9 396.4 389.2 397.4 389.5 401.3 389.8 401.8 390.1 403.8 390.4 405.9 390.7 409.5 391 410.4 391.3 410.8 391.6 411 391.9 412.6 392.2 413.1 392.5 414.3 392.8 415.9 393.1 418 393.4 417.6 393.7 419.7 394 418.4 394.3 421.2 394.6 420.7 394.9 421 395.2 421.3 395.5 422.2 395.8 422.6 396.1 422.8 396.4 422.8 396.7 423.1 397 423.8 397.3 423.9 397.6 423.9 397.9 423.4 398.2 424.5 398.5 422.8 398.8 414.1 399.1 407.4 399.4 408.8 399.7 410.2 400 410 400.3 412.4 400.6 414.7 400.9 416.8 401.2 416.3 401.5 416.9 401.8 414.9 402.1 412.4 402.4 411.5 402.7 412.8 403 414.7 403.3 415.8 403.6 416.3 403.9 417.9 404.2 417 404.5 418.5 404.8 418.6 405.1 419.3 405.4 420.8 405.7 422.6 406 422.7 406.3 422.7 406.6 424.2 406.9 424.4 407.2 422.3 407.5 422.7 407.8 423 408.1 423.3 408.4 422.9 408.7 423.3 409 420.2 409.3 418.2 409.6 418.2 409.9 418.8 410.2 418.7 410.5 420.4 410.8 421.8 411.1 423 411.4 423.4 411.7 422.5 412 423.7 412.3 422.8 412.6 422.8 412.9 423.3 413.2 425.5 413.5 424.5 413.8 423.9 414.1 424.8 414.4 426 414.7 426.3 415 426.5 415.3 421.5 415.6 409.2 415.9 398.3 416.2 400.2 416.5 401.5 416.8 403.3 417.1 406.4 417.4 409 417.7 409.9 418 410.1 418.3 412.8 418.6 412.8 418.9 414 419.2 415.3 419.5 416 419.8 416.7 420.1 418.9 420.4 419.3 420.7 418.4 421 419 421.3 421 421.6 421.2 421.9 420.8 422.2 422.4 422.5 423 422.8 423.2 423.1 423.9 423.4 423.7 423.7 424.2 424 424.9 424.3 424.5 424.6 425.8 424.9 424.8 425.2 423.5 425.5 417.9 425.8 415 426.1 414.7 426.4 416.6 426.7 416.6 427 418.1 427.3 418.8 427.6 418.8 427.9 421.2 428.2 421.3 428.5 421.1 428.8 421.4 429.1 422.3 429.4 422.8 429.7 423.8 430 423.4 430.3 424 430.6 423.8 430.9 423.7 431.2 425 431.5 424.5 431.8 423.7 432.1 425.2 432.4 425.2 432.7 426.1 433 426.6 433.3 426.9 433.6 426.8 433.9 428 434.2 426.6 434.5 427.7 434.8 427.3 435.1 427.4 435.4 427 435.7 427.9 436 416.8 436.3 399.5 436.6 389.4 436.9 392.6 437.2 394.9 437.5 399.2 437.8 400.9" stroke="#68b9e5" stroke-width="1.25" fill="none" stroke-linejoin="round" clip-path="url(#clip_g1)"/>
<clipPath id="clip_g2"><rect x="303.8" y="436.5" width="133.6" height="51.4"/></clipPath>
<path d="M303.4 484.2 303.7 476 304 469.6 304.3 467.8 304.6 468.1 304.9 468.9 305.2 469.7 305.5 470.8 305.8 472 306.1 473.4 306.4 473.8 306.7 474.9 307 475.3 307.3 468.1 307.6 457.1 307.9 450 308.2 451.1 308.5 453.7 308.8 455.8 309.1 457.9 309.4 459.7 309.7 460.1 310 461.4 310.3 462.3 310.6 464.9 310.9 465.9 311.2 467 311.5 467.3 311.8 467.6 312.1 468.6 312.4 469.9 312.7 471.3 313 470.9 313.3 472.3 313.6 472.5 313.9 473.1 314.2 473.7 314.5 474.3 314.8 475.4 315.1 476.5 315.4 476.8 315.7 476.5 316 477.3 316.3 477.8 316.6 478.5 316.9 478.6 317.2 477.4 317.5 477.5 317.8 478 318.1 479.3 318.4 479.3 318.7 480.1 319 480.2 319.3 479.2 319.6 479.7 319.9 480.4 320.2 480.7 320.5 479.6 320.8 480.4 321.1 480.2 321.4 479 321.7 479.6 322 478.9 322.3 479.1 322.6 481.3 322.9 483.1 323.2 483.1 323.5 480.4 323.8 474.7 324.1 467.4 324.4 467.1 324.7 466.3 325 468.8 325.3 468.1 325.6 467.7 325.9 469.5 326.2 471.2 326.5 471.7 326.8 473.6 327.1 468.9 327.4 461.8 327.7 457.8 328 458.7 328.3 460.5 328.6 463.6 328.9 463.3 329.2 464.6 329.5 466 329.8 466.4 330.1 467.5 330.4 467.2 330.7 468.4 331 469.8 331.3 471.6 331.6 472.7 331.9 472.5 332.2 472.3 332.5 474.6 332.8 475.4 333.1 473.9 333.4 474.6 333.7 474.7 334 475.2 334.3 474.8 334.6 475.7 334.9 476.3 335.2 476.9 335.5 478.4 335.8 478.6 336.1 477.8 336.4 477.1 336.7 477.7 337 479.4 337.3 480.2 337.6 479.6 337.9 480.6 338.2 480.7 338.5 480.1 338.8 480.6 339.1 480.5 339.4 479.8 339.7 480 340 480.6 340.3 481.8 340.6 480.7 340.9 481.1 341.2 481.2 341.5 481.3 341.8 480.4 342.1 481.9 342.4 482.7 342.7 483.4 343 482.9 343.3 483.4 343.6 483 343.9 472.5 344.2 460.9 344.5 458.3 344.8 459.5 345.1 460.1 345.4 461.6 345.7 462.4 346 463.4 346.3 464.9 346.6 466 346.9 469 347.2 470.7 347.5 471.5 347.8 472 348.1 471.4 348.4 472.3 348.7 471.7 349 472.4 349.3 473.1 349.6 473.7 349.9 475.3 350.2 475 350.5 477.5 350.8 476.7 351.1 477.6 351.4 476.3 351.7 477.7 352 477 352.3 477.8 352.6 478.2 352.9 479.2 353.2 479.6 353.5 479.8 353.8 479.5 354.1 477.7 354.4 471.5 354.7 468.3 355 468.8 355.3 469.8 355.6 469.9 355.9 470.7 356.2 472.2 356.5 472.4 356.8 473.5 357.1 473.6 357.4 475.4 357.7 471.7 358 467.9 358.3 464.6 358.6 465.2 358.9 466.8 359.2 468.2 359.5 469.7 359.8 470.8 360.1 471.3 360.4 470.4 360.7 471.9 361 472.2 361.3 473.1 361.6 474.4 361.9 473.9 362.2 475.4 362.5 477.2 362.8 477 363.1 476.4 363.4 477.6 363.7 477.5 364 478.2 364.3 478.9 364.6 477.4 364.9 478.1 365.2 477.2 365.5 477.5 365.8 478.7 366.1 478.1 366.4 478.3 366.7 478.6 367 479.5 367.3 480 367.6 480.5 367.9 476.7 368.2 466.2 368.5 456.8 368.8 457.8 369.1 459.1 369.4 461.5 369.7 462.2 370 463 370.3 465.5 370.6 466.4 370.9 465.7 371.2 466.9 371.5 470 371.8 472.5 372.1 471.8 372.4 472.6 372.7 473.3 373 473.7 373.3 472.5 373.6 474.3 373.9 474.9 374.2 475.1 374.5 474.3 374.8 474.9 375.1 475.8 375.4 476.3 375.7 477.1 376 477.2 376.3 478.4 376.6 478.9 376.9 477.9 377.2 478 377.5 478.9 377.8 470.1 378.1 458.7 378.4 450.1 378.7 452.3 379 454.6 379.3 455.2 379.6 458.2 379.9 459.3 380.2 460.1 380.5 461.2 380.8 461.6 381.1 462.6 381.4 465.8 381.7 466.7 382 467.5 382.3 468.7 382.6 470 382.9 470 383.2 470.7 383.5 471.8 383.8 473.3 384.1 473.7 384.4 475.3 384.7 474.9 385 474.8 385.3 474.3 385.6 475.2 385.9 476.4 386.2 476.5 386.5 476.8 386.8 476.5 387.1 476.8 387.4 477.2 387.7 477.8 388 479.1 388.3 479.4 388.6 480 388.9 480.6 389.2 479.8 389.5 480.8 389.8 480.4 390.1 479.3 390.4 479.3 390.7 479.8 391 479 391.3 481.6 391.6 481.2 391.9 481.7 392.2 480.4 392.5 480.9 392.8 481.2 393.1 480.7 393.4 481.2 393.7 481.3 394 481.7 394.3 480.7 394.6 468.8 394.9 455.9 395.2 452.5 395.5 453.1 395.8 455.7 396.1 457.6 396.4 461.3 396.7 461.1 397 463.7 397.3 465.4 397.6 466.2 397.9 466.9 398.2 468 398.5 467.5 398.8 469.8 399.1 470.1 399.4 470.3 399.7 471.2 400 470 400.3 470.8 400.6 471.5 400.9 471.9 401.2 473.9 401.5 475.9 401.8 476 402.1 476 402.4 476.6 402.7 476.5 403 477.1 403.3 477.8 403.6 477.8 403.9 477.8 404.2 478.3 404.5 478.6 404.8 479.4 405.1 478.2 405.4 478 405.7 478.5 406 479.6 406.3 478.8 406.6 480.4 406.9 481.5 407.2 480.4 407.5 481.4 407.8 471.2 408.1 459.4 408.4 451 408.7 454.5 409 456.9 409.3 458.6 409.6 459.3 409.9 460 410.2 462.1 410.5 463.1 410.8 465 411.1 464.8 411.4 466.7 411.7 468.1 412 467.2 412.3 467.9 412.6 469.1 412.9 470.1 413.2 470 413.5 471.7 413.8 471.9 414.1 473.1 414.4 472.6 414.7 473.1 415 475 415.3 474.3 415.6 475.4 415.9 477.3 416.2 477.9 416.5 476.8 416.8 479 417.1 478.2 417.4 479.1 417.7 479.6 418 479.1 418.3 479.6 418.6 477.4 418.9 478.6 419.2 479.3 419.5 479.4 419.8 479.8 420.1 480.8 420.4 481.3 420.7 480.4 421 481.1 421.3 481.8 421.6 481.4 421.9 481.5 422.2 476.7 422.5 473.7 422.8 474.4 423.1 474.1 423.4 475.9 423.7 477.2 424 476.4 424.3 476.1 424.6 476.8 424.9 477.6 425.2 471.4 425.5 460.4 425.8 454 426.1 455 426.4 457.3 426.7 458.4 427 460.9 427.3 462.6 427.6 462.3 427.9 464.2 428.2 464.6 428.5 466.9 428.8 466.9 429.1 469.1 429.4 470.5 429.7 472.2 430 472.2 430.3 472.4 430.6 473.6 430.9 472.7 431.2 473.4 431.5 473.8 431.8 474.5 432.1 473.9 432.4 473.7 432.7 473.8 433 476.4 433.3 476.6 433.6 477.5 433.9 477.6 434.2 477.7 434.5 479 434.8 477.1 435.1 477.8 435.4 477.6 435.7 477.3 436 476.7 436.3 476.7 436.6 477 436.9 479 437.2 478.8 437.5 478.9 437.8 479.3" stroke="#2c94d7" stroke-width="1.35" fill="none" stroke-linejoin="round" clip-path="url(#clip_g2)"/>
<line x1="303.3" y1="330.6" x2="437.9" y2="330.6" stroke="#6e6e6e" stroke-width="0.9"/>
<line x1="303.3" y1="488.4" x2="437.9" y2="488.4" stroke="#6e6e6e" stroke-width="0.9"/>
<line x1="303.3" y1="330.6" x2="303.3" y2="488.4" stroke="#9a9a9a" stroke-width="0.9"/>
<line x1="437.9" y1="330.6" x2="437.9" y2="488.4" stroke="#6e6e6e" stroke-width="0.9"/>
<line x1="303.3" y1="383.6" x2="437.9" y2="383.6" stroke="#4a4a4a" stroke-width="0.9"/>
<line x1="303.3" y1="436" x2="437.9" y2="436" stroke="#a8a8a8" stroke-width="1.6"/>
<line x1="301.3" y1="338.1" x2="303.3" y2="338.1" stroke="#6e6e6e" stroke-width="0.9"/>
<text x="301.4" y="341.3" font-size="9" text-anchor="end" fill="#231f20">0.12</text>
<line x1="301.3" y1="353.4" x2="303.3" y2="353.4" stroke="#6e6e6e" stroke-width="0.9"/>
<text x="301.4" y="356.6" font-size="9" text-anchor="end" fill="#231f20">0.08</text>
<line x1="301.3" y1="368.8" x2="303.3" y2="368.8" stroke="#6e6e6e" stroke-width="0.9"/>
<text x="301.4" y="372" font-size="9" text-anchor="end" fill="#231f20">0.04</text>
<line x1="301.3" y1="386.2" x2="303.3" y2="386.2" stroke="#6e6e6e" stroke-width="0.9"/>
<text x="301.4" y="389.4" font-size="9" text-anchor="end" fill="#231f20">0.12</text>
<line x1="301.3" y1="403.1" x2="303.3" y2="403.1" stroke="#6e6e6e" stroke-width="0.9"/>
<text x="301.4" y="406.3" font-size="9" text-anchor="end" fill="#231f20">0.08</text>
<line x1="301.3" y1="420" x2="303.3" y2="420" stroke="#6e6e6e" stroke-width="0.9"/>
<text x="301.4" y="423.2" font-size="9" text-anchor="end" fill="#231f20">0.04</text>
<line x1="301.3" y1="436.6" x2="303.3" y2="436.6" stroke="#6e6e6e" stroke-width="0.9"/>
<text x="301.4" y="439.8" font-size="9" text-anchor="end" fill="#231f20">0.12</text>
<line x1="301.3" y1="454.6" x2="303.3" y2="454.6" stroke="#6e6e6e" stroke-width="0.9"/>
<text x="301.4" y="457.8" font-size="9" text-anchor="end" fill="#231f20">0.08</text>
<line x1="301.3" y1="470.8" x2="303.3" y2="470.8" stroke="#6e6e6e" stroke-width="0.9"/>
<text x="301.4" y="474" font-size="9" text-anchor="end" fill="#231f20">0.04</text>
<line x1="301.3" y1="487.8" x2="303.3" y2="487.8" stroke="#6e6e6e" stroke-width="0.9"/>
<text x="301.4" y="491" font-size="9" text-anchor="end" fill="#231f20">0.00</text>
<text transform="translate(281.2 355.6) rotate(-90)" font-size="9.4" text-anchor="middle" fill="#231f20"><tspan font-style="italic">V</tspan><tspan font-size="6.5" dy="1.3">o</tspan><tspan dy="-1.3"> (V)</tspan></text>
<text transform="translate(281.2 408.3) rotate(-90)" font-size="9.4" text-anchor="middle" fill="#231f20"><tspan font-style="italic">V</tspan><tspan font-size="6.5" dy="1.3">o</tspan><tspan dy="-1.3"> (V)</tspan></text>
<text transform="translate(281.2 460.7) rotate(-90)" font-size="9.4" text-anchor="middle" fill="#231f20"><tspan font-style="italic">V</tspan><tspan font-size="6.5" dy="1.3">o</tspan><tspan dy="-1.3"> (V)</tspan></text>
<text x="371.5" y="338.9" font-size="9" text-anchor="middle" fill="#231f20">0 μM</text>
<text x="372.6" y="392.3" font-size="9" text-anchor="middle" fill="#231f20">16 μM</text>
<text x="374.6" y="446.7" font-size="9" text-anchor="middle" fill="#231f20">256 μM</text>
<line x1="303.5" y1="488.4" x2="303.5" y2="486.4" stroke="#6e6e6e" stroke-width="0.9"/>
<text x="303.5" y="498.4" font-size="9" text-anchor="middle" fill="#231f20">0</text>
<line x1="335.6" y1="488.4" x2="335.6" y2="486.4" stroke="#6e6e6e" stroke-width="0.9"/>
<text x="335.6" y="498.4" font-size="9" text-anchor="middle" fill="#231f20">0.1</text>
<line x1="367.7" y1="488.4" x2="367.7" y2="486.4" stroke="#6e6e6e" stroke-width="0.9"/>
<text x="367.7" y="498.4" font-size="9" text-anchor="middle" fill="#231f20">0.2</text>
<line x1="399.8" y1="488.4" x2="399.8" y2="486.4" stroke="#6e6e6e" stroke-width="0.9"/>
<text x="399.8" y="498.4" font-size="9" text-anchor="middle" fill="#231f20">0.3</text>
<line x1="431.9" y1="488.4" x2="431.9" y2="486.4" stroke="#6e6e6e" stroke-width="0.9"/>
<text x="431.9" y="498.4" font-size="9" text-anchor="middle" fill="#231f20">0.4</text>
<text x="362" y="507.8" font-size="9" fill="#231f20"><tspan font-style="italic">t</tspan> (s)</text>
<rect x="463.7" y="141.7" width="219.5" height="157.7" fill="none" stroke="#808080" stroke-width="0.9"/>
<path d="M470 257.6C471.14 255.13 474.58 247.31 476.87 242.8C479.16 238.29 481.44 234.28 483.73 230.54C486.02 226.81 488.31 223.48 490.6 220.39C492.89 217.3 495.18 214.55 497.47 211.99C499.75 209.43 502.04 207.15 504.33 205.03C506.62 202.91 508.91 201.02 511.2 199.26C513.49 197.51 515.78 195.95 518.07 194.49C520.35 193.04 522.64 191.75 524.93 190.54C527.22 189.34 529.51 188.27 531.8 187.27C534.09 186.27 536.38 185.39 538.66 184.56C540.95 183.74 543.24 183 545.53 182.32C547.82 181.63 548.96 181.24 552.4 180.46C555.83 179.68 561.55 178.44 566.13 177.65C570.71 176.86 575.29 176.26 579.86 175.72C584.44 175.18 589.02 174.77 593.6 174.4C598.17 174.03 602.75 173.75 607.33 173.49C611.91 173.24 616.49 173.04 621.06 172.87C625.64 172.7 630.22 172.56 634.8 172.44C639.37 172.32 643.95 172.23 648.53 172.15C653.11 172.07 657.68 172.01 662.26 171.95C666.84 171.89 673.71 171.84 676 171.81" stroke="#333" stroke-width="0.8" fill="none" stroke-dasharray="2.2 1.6" stroke-linejoin="round"/>
<line x1="470" y1="242.55" x2="470" y2="272.65" stroke="#3a3a3a" stroke-width="0.8"/>
<line x1="467.8" y1="242.55" x2="472.2" y2="242.55" stroke="#3a3a3a" stroke-width="0.8"/>
<line x1="467.8" y1="272.65" x2="472.2" y2="272.65" stroke="#3a3a3a" stroke-width="0.8"/>
<line x1="483.73" y1="212.45" x2="483.73" y2="242.55" stroke="#3a3a3a" stroke-width="0.8"/>
<line x1="481.53" y1="212.45" x2="485.93" y2="212.45" stroke="#3a3a3a" stroke-width="0.8"/>
<line x1="481.53" y1="242.55" x2="485.93" y2="242.55" stroke="#3a3a3a" stroke-width="0.8"/>
<line x1="538.66" y1="155.26" x2="538.66" y2="200.41" stroke="#3a3a3a" stroke-width="0.8"/>
<line x1="536.46" y1="155.26" x2="540.87" y2="155.26" stroke="#3a3a3a" stroke-width="0.8"/>
<line x1="536.46" y1="200.41" x2="540.87" y2="200.41" stroke="#3a3a3a" stroke-width="0.8"/>
<line x1="607.33" y1="154.66" x2="607.33" y2="189.57" stroke="#3a3a3a" stroke-width="0.8"/>
<line x1="605.13" y1="154.66" x2="609.53" y2="154.66" stroke="#3a3a3a" stroke-width="0.8"/>
<line x1="605.13" y1="189.57" x2="609.53" y2="189.57" stroke="#3a3a3a" stroke-width="0.8"/>
<line x1="676" y1="154.66" x2="676" y2="189.57" stroke="#3a3a3a" stroke-width="0.8"/>
<line x1="673.79" y1="154.66" x2="678.2" y2="154.66" stroke="#3a3a3a" stroke-width="0.8"/>
<line x1="673.79" y1="189.57" x2="678.2" y2="189.57" stroke="#3a3a3a" stroke-width="0.8"/>
<circle cx="470" cy="257.6" r="3.4" fill="url(#ballg)"/>
<circle cx="483.73" cy="227.5" r="3.4" fill="url(#ballg)"/>
<circle cx="538.66" cy="177.53" r="3.4" fill="url(#ballg)"/>
<circle cx="607.33" cy="172.72" r="3.4" fill="url(#ballg)"/>
<circle cx="676" cy="172.72" r="3.4" fill="url(#ballg)"/>
<line x1="463.7" y1="287.7" x2="466.3" y2="287.7" stroke="#808080" stroke-width="0.9"/>
<text x="461.8" y="290.9" font-size="9" text-anchor="end" fill="#231f20">25</text>
<line x1="463.7" y1="257.6" x2="466.3" y2="257.6" stroke="#808080" stroke-width="0.9"/>
<text x="461.8" y="260.8" font-size="9" text-anchor="end" fill="#231f20">30</text>
<line x1="463.7" y1="227.5" x2="466.3" y2="227.5" stroke="#808080" stroke-width="0.9"/>
<text x="461.8" y="230.7" font-size="9" text-anchor="end" fill="#231f20">35</text>
<line x1="463.7" y1="197.4" x2="466.3" y2="197.4" stroke="#808080" stroke-width="0.9"/>
<text x="461.8" y="200.6" font-size="9" text-anchor="end" fill="#231f20">40</text>
<line x1="463.7" y1="167.3" x2="466.3" y2="167.3" stroke="#808080" stroke-width="0.9"/>
<text x="461.8" y="170.5" font-size="9" text-anchor="end" fill="#231f20">45</text>
<line x1="470" y1="299.4" x2="470" y2="296.9" stroke="#808080" stroke-width="0.9"/>
<text x="470" y="308.4" font-size="9" text-anchor="middle" fill="#231f20">0</text>
<line x1="504.33" y1="299.4" x2="504.33" y2="296.9" stroke="#808080" stroke-width="0.9"/>
<text x="504.33" y="308.4" font-size="9" text-anchor="middle" fill="#231f20">25</text>
<line x1="538.66" y1="299.4" x2="538.66" y2="296.9" stroke="#808080" stroke-width="0.9"/>
<text x="538.66" y="308.4" font-size="9" text-anchor="middle" fill="#231f20">50</text>
<line x1="573" y1="299.4" x2="573" y2="296.9" stroke="#808080" stroke-width="0.9"/>
<text x="573" y="308.4" font-size="9" text-anchor="middle" fill="#231f20">75</text>
<line x1="607.33" y1="299.4" x2="607.33" y2="296.9" stroke="#808080" stroke-width="0.9"/>
<text x="607.33" y="308.4" font-size="9" text-anchor="middle" fill="#231f20">100</text>
<line x1="641.66" y1="299.4" x2="641.66" y2="296.9" stroke="#808080" stroke-width="0.9"/>
<text x="641.66" y="308.4" font-size="9" text-anchor="middle" fill="#231f20">125</text>
<line x1="676" y1="299.4" x2="676" y2="296.9" stroke="#808080" stroke-width="0.9"/>
<text x="676" y="308.4" font-size="9" text-anchor="middle" fill="#231f20">150</text>
<text transform="translate(451.6 221.6) rotate(-90)" font-size="9" text-anchor="middle" fill="#231f20"><tspan font-style="italic">f</tspan><tspan font-size="6.3" dy="1.3">0</tspan><tspan dy="-1.3"> (Hz)</tspan></text>
<text x="581.3" y="318" font-size="9" text-anchor="middle" fill="#231f20">Na<tspan font-size="8" dy="-3.6">+</tspan><tspan dy="3.6"> concentration (mM)</tspan></text>
<rect x="463.7" y="330.5" width="219.8" height="158.3" fill="none" stroke="#808080" stroke-width="0.9"/>
<path d="M471.2 415.06C471.75 411.69 473.38 400.57 474.48 394.85C475.57 389.13 476.11 385.53 477.75 380.75C479.39 375.97 482.12 369.86 484.3 366.18C486.49 362.5 488.94 360.07 490.86 358.66C492.77 357.25 494.13 357.09 495.77 357.72C497.41 358.35 498.77 359.44 500.68 362.42C502.59 365.4 505.05 371.19 507.24 375.58C509.42 379.97 511.06 384.35 513.79 388.74C516.52 393.13 519.79 397.83 523.62 401.9C527.44 405.97 531.81 410.05 536.72 413.18C541.63 416.31 546.55 418.35 553.1 420.7C559.65 423.05 567.84 424.93 576.03 427.28C584.22 429.63 592.41 432.29 602.24 434.8C612.07 437.31 625.45 440.2 635 442.32C644.55 444.44 651.93 446.08 659.57 447.49C667.21 448.9 677.32 450.23 680.86 450.78" stroke="#333" stroke-width="0.8" fill="none" stroke-dasharray="2.2 1.6" stroke-linejoin="round"/>
<line x1="471.2" y1="379.81" x2="471.2" y2="451.72" stroke="#3a3a3a" stroke-width="0.8"/>
<line x1="469" y1="379.81" x2="473.4" y2="379.81" stroke="#3a3a3a" stroke-width="0.8"/>
<line x1="469" y1="451.72" x2="473.4" y2="451.72" stroke="#3a3a3a" stroke-width="0.8"/>
<line x1="474.48" y1="363.36" x2="474.48" y2="421.17" stroke="#3a3a3a" stroke-width="0.8"/>
<line x1="472.28" y1="363.36" x2="476.68" y2="363.36" stroke="#3a3a3a" stroke-width="0.8"/>
<line x1="472.28" y1="421.17" x2="476.68" y2="421.17" stroke="#3a3a3a" stroke-width="0.8"/>
<line x1="477.75" y1="338.92" x2="477.75" y2="421.17" stroke="#3a3a3a" stroke-width="0.8"/>
<line x1="475.55" y1="338.92" x2="479.95" y2="338.92" stroke="#3a3a3a" stroke-width="0.8"/>
<line x1="475.55" y1="421.17" x2="479.95" y2="421.17" stroke="#3a3a3a" stroke-width="0.8"/>
<line x1="484.3" y1="355.37" x2="484.3" y2="382.63" stroke="#3a3a3a" stroke-width="0.8"/>
<line x1="482.1" y1="355.37" x2="486.5" y2="355.37" stroke="#3a3a3a" stroke-width="0.8"/>
<line x1="482.1" y1="382.63" x2="486.5" y2="382.63" stroke="#3a3a3a" stroke-width="0.8"/>
<line x1="497.41" y1="332.81" x2="497.41" y2="358.66" stroke="#3a3a3a" stroke-width="0.8"/>
<line x1="495.21" y1="332.81" x2="499.61" y2="332.81" stroke="#3a3a3a" stroke-width="0.8"/>
<line x1="495.21" y1="358.66" x2="499.61" y2="358.66" stroke="#3a3a3a" stroke-width="0.8"/>
<line x1="523.62" y1="392.03" x2="523.62" y2="439.03" stroke="#3a3a3a" stroke-width="0.8"/>
<line x1="521.42" y1="392.03" x2="525.82" y2="392.03" stroke="#3a3a3a" stroke-width="0.8"/>
<line x1="521.42" y1="439.03" x2="525.82" y2="439.03" stroke="#3a3a3a" stroke-width="0.8"/>
<line x1="576.03" y1="413.65" x2="576.03" y2="440.91" stroke="#3a3a3a" stroke-width="0.8"/>
<line x1="573.83" y1="413.65" x2="578.23" y2="413.65" stroke="#3a3a3a" stroke-width="0.8"/>
<line x1="573.83" y1="440.91" x2="578.23" y2="440.91" stroke="#3a3a3a" stroke-width="0.8"/>
<line x1="680.86" y1="415.06" x2="680.86" y2="488.8" stroke="#3a3a3a" stroke-width="0.8"/>
<line x1="678.66" y1="415.06" x2="683.06" y2="415.06" stroke="#3a3a3a" stroke-width="0.8"/>
<line x1="678.66" y1="488.8" x2="683.06" y2="488.8" stroke="#3a3a3a" stroke-width="0.8"/>
<circle cx="471.2" cy="416" r="3.4" fill="url(#ballg)"/>
<circle cx="474.48" cy="392.5" r="3.4" fill="url(#ballg)"/>
<circle cx="477.75" cy="380.75" r="3.4" fill="url(#ballg)"/>
<circle cx="484.3" cy="369" r="3.4" fill="url(#ballg)"/>
<circle cx="497.41" cy="345.5" r="3.4" fill="url(#ballg)"/>
<circle cx="523.62" cy="416" r="3.4" fill="url(#ballg)"/>
<circle cx="576.03" cy="427.28" r="3.4" fill="url(#ballg)"/>
<circle cx="680.86" cy="450.78" r="3.4" fill="url(#ballg)"/>
<line x1="463.7" y1="463" x2="466.3" y2="463" stroke="#808080" stroke-width="0.9"/>
<text x="461.8" y="466.2" font-size="9" text-anchor="end" fill="#231f20">30</text>
<line x1="463.7" y1="416" x2="466.3" y2="416" stroke="#808080" stroke-width="0.9"/>
<text x="461.8" y="419.2" font-size="9" text-anchor="end" fill="#231f20">40</text>
<line x1="463.7" y1="369" x2="466.3" y2="369" stroke="#808080" stroke-width="0.9"/>
<text x="461.8" y="372.2" font-size="9" text-anchor="end" fill="#231f20">50</text>
<line x1="471.2" y1="488.8" x2="471.2" y2="486.3" stroke="#808080" stroke-width="0.9"/>
<text x="471.2" y="498.6" font-size="9" text-anchor="middle" fill="#231f20">0</text>
<line x1="512.15" y1="488.8" x2="512.15" y2="486.3" stroke="#808080" stroke-width="0.9"/>
<text x="512.15" y="498.6" font-size="9" text-anchor="middle" fill="#231f20">50</text>
<line x1="553.1" y1="488.8" x2="553.1" y2="486.3" stroke="#808080" stroke-width="0.9"/>
<text x="553.1" y="498.6" font-size="9" text-anchor="middle" fill="#231f20">100</text>
<line x1="594.05" y1="488.8" x2="594.05" y2="486.3" stroke="#808080" stroke-width="0.9"/>
<text x="594.05" y="498.6" font-size="9" text-anchor="middle" fill="#231f20">150</text>
<line x1="635" y1="488.8" x2="635" y2="486.3" stroke="#808080" stroke-width="0.9"/>
<text x="635" y="498.6" font-size="9" text-anchor="middle" fill="#231f20">200</text>
<line x1="675.95" y1="488.8" x2="675.95" y2="486.3" stroke="#808080" stroke-width="0.9"/>
<text x="675.95" y="498.6" font-size="9" text-anchor="middle" fill="#231f20">250</text>
<text transform="translate(451.6 414) rotate(-90)" font-size="9" text-anchor="middle" fill="#231f20"><tspan font-style="italic">f</tspan><tspan font-size="6.3" dy="1.3">0</tspan><tspan dy="-1.3"> (Hz)</tspan></text>
<text x="585.2" y="507.9" font-size="9" text-anchor="middle" fill="#231f20">DA concentration (μM)</text>
<text x="1.5" y="331.8" font-size="12" font-weight="bold" fill="#000">f</text>
<clipPath id="clipF"><rect x="24.3" y="330.4" width="221.9" height="156"/></clipPath>
<g clip-path="url(#clipF)">
<path d="M24.3 366.1 25.1 366.6 25.9 367.1 26.7 367.6 27.5 368.2 28.3 368.7 29.1 369.2 29.9 369.7 30.7 370.2 31.5 370.8 32.3 371.3 33.1 371.8 33.9 372.3 34.8 372.9 35.6 373.4 36.4 373.9 37.2 374.4 38 374.9 38.8 375.4 39.6 375.9 40.4 376.5 41.2 377 42 377.5 42.8 378 43.6 378.5 44.4 379 45.2 379.5 46 380 46.8 380.5 47.6 381 48.4 381.4 49.2 381.9 50 382.4 50.8 382.9 51.6 383.4 52.4 383.9 53.2 384.4 54 384.8 54.9 385.3 55.7 385.8 56.5 386.3 57.3 386.7 58.1 387.2 58.9 387.7 59.7 388.1 60.5 388.6 61.3 389 62.1 389.5 62.9 389.9 63.7 390.4 64.5 390.9 65.3 391.3 66.1 391.8 66.9 392.2 67.7 392.6 68.5 393.1 69.3 393.5 70.1 394 70.9 394.4 71.7 394.9 72.5 395.3 73.3 395.7 74.1 396.2 75 396.6 75.8 397 76.6 397.5 77.4 397.9 78.2 398.3 79 398.8 79.8 399.2 80.6 399.6 81.4 400.1 82.2 400.5 83 400.9 83.8 401.4 84.6 401.8 85.4 402.2 86.2 402.7 87 403.1 87.8 403.5 88.6 403.9 89.4 404.4 90.2 404.8 91 405.2 91.8 405.7 92.6 406.1 93.4 406.5 94.2 407 95.1 407.4 95.9 407.8 96.7 408.3 97.5 408.7 98.3 409.1 99.1 409.6 99.9 410 100.7 410.4 101.5 410.9 102.3 411.3 103.1 411.7 103.9 412.1 104.7 412.6 105.5 413 106.3 413.4 107.1 413.8 107.9 414.3 108.7 414.7 109.5 415.1 110.3 415.5 111.1 415.9 111.9 416.4 112.7 416.8 113.5 417.2 114.3 417.6 115.2 418 116 418.4 116.8 418.8 117.6 419.2 118.4 419.6 119.2 420 120 420.4 120.8 420.8 121.6 421.2 122.4 421.6 123.2 422 124 422.4 124.8 422.8 125.6 423.1 126.4 423.5 127.2 423.9 128 424.3 128.8 424.7 129.6 425.1 130.4 425.4 131.2 425.8 132 426.2 132.8 426.6 133.6 427 134.4 427.3 135.2 427.7 136.1 428.1 136.9 428.4 137.7 428.8 138.5 429.2 139.3 429.5 140.1 429.9 140.9 430.2 141.7 430.6 142.5 430.9 143.3 431.3 144.1 431.6 144.9 432 145.7 432.3 146.5 432.7 147.3 433 148.1 433.4 148.9 433.7 149.7 434 150.5 434.4 151.3 434.7 152.1 435 152.9 435.4 153.7 435.7 154.5 436 155.3 436.3 156.2 436.6 157 437 157.8 437.3 158.6 437.6 159.4 437.9 160.2 438.2 161 438.5 161.8 438.8 162.6 439.2 163.4 439.5 164.2 439.8 165 440.1 165.8 440.4 166.6 440.7 167.4 441 168.2 441.2 169 441.5 169.8 441.8 170.6 442.1 171.4 442.4 172.2 442.7 173 443 173.8 443.2 174.6 443.5 175.4 443.8 176.3 444.1 177.1 444.3 177.9 444.6 178.7 444.9 179.5 445.1 180.3 445.4 181.1 445.6 181.9 445.9 182.7 446.2 183.5 446.4 184.3 446.7 185.1 446.9 185.9 447.1 186.7 447.4 187.5 447.6 188.3 447.9 189.1 448.1 189.9 448.3 190.7 448.6 191.5 448.8 192.3 449 193.1 449.2 193.9 449.5 194.7 449.7 195.5 449.9 196.4 450.1 197.2 450.4 198 450.6 198.8 450.8 199.6 451 200.4 451.2 201.2 451.4 202 451.6 202.8 451.8 203.6 452 204.4 452.2 205.2 452.4 206 452.7 206.8 452.9 207.6 453 208.4 453.2 209.2 453.4 210 453.6 210.8 453.8 211.6 454 212.4 454.2 213.2 454.4 214 454.6 214.8 454.8 215.6 455 216.5 455.1 217.3 455.3 218.1 455.5 218.9 455.7 219.7 455.9 220.5 456.1 221.3 456.2 222.1 456.4 222.9 456.6 223.7 456.8 224.5 456.9 225.3 457.1 226.1 457.3 226.9 457.4 227.7 457.6 228.5 457.8 229.3 458 230.1 458.1 230.9 458.3 231.7 458.4 232.5 458.6 233.3 458.8 234.1 458.9 234.9 459.1 235.7 459.2 236.6 459.4 237.4 459.6 238.2 459.7 239 459.9 239.8 460 240.6 460.2 241.4 460.3 242.2 460.5 243 460.6 243.8 460.8 244.6 460.9 245.4 461.1 246.2 461.3" stroke="#cfe8f7" stroke-width="1.1" fill="none" stroke-linejoin="round"/>
<path d="M24.3 372.7 25.1 373.3 25.9 373.8 26.7 374.4 27.5 374.9 28.3 375.5 29.1 376 29.9 376.6 30.7 377.1 31.5 377.7 32.3 378.2 33.1 378.8 33.9 379.3 34.8 379.9 35.6 380.4 36.4 381 37.2 381.5 38 382 38.8 382.6 39.6 383.1 40.4 383.7 41.2 384.2 42 384.7 42.8 385.3 43.6 385.8 44.4 386.3 45.2 386.9 46 387.4 46.8 387.9 47.6 388.4 48.4 389 49.2 389.5 50 390 50.8 390.5 51.6 391 52.4 391.5 53.2 392.1 54 392.6 54.9 393.1 55.7 393.6 56.5 394.1 57.3 394.6 58.1 395.1 58.9 395.6 59.7 396.1 60.5 396.6 61.3 397.1 62.1 397.6 62.9 398.1 63.7 398.6 64.5 399.1 65.3 399.6 66.1 400.1 66.9 400.6 67.7 401.1 68.5 401.6 69.3 402 70.1 402.5 70.9 403 71.7 403.5 72.5 404 73.3 404.5 74.1 404.9 75 405.4 75.8 405.9 76.6 406.4 77.4 406.8 78.2 407.3 79 407.8 79.8 408.2 80.6 408.7 81.4 409.2 82.2 409.6 83 410.1 83.8 410.6 84.6 411 85.4 411.5 86.2 411.9 87 412.4 87.8 412.8 88.6 413.3 89.4 413.7 90.2 414.2 91 414.6 91.8 415.1 92.6 415.5 93.4 416 94.2 416.4 95.1 416.8 95.9 417.3 96.7 417.7 97.5 418.2 98.3 418.6 99.1 419 99.9 419.5 100.7 419.9 101.5 420.3 102.3 420.7 103.1 421.2 103.9 421.6 104.7 422 105.5 422.4 106.3 422.9 107.1 423.3 107.9 423.7 108.7 424.1 109.5 424.5 110.3 424.9 111.1 425.3 111.9 425.8 112.7 426.2 113.5 426.6 114.3 427 115.2 427.4 116 427.8 116.8 428.2 117.6 428.6 118.4 429 119.2 429.4 120 429.8 120.8 430.2 121.6 430.6 122.4 431 123.2 431.4 124 431.8 124.8 432.2 125.6 432.6 126.4 433 127.2 433.3 128 433.7 128.8 434.1 129.6 434.5 130.4 434.9 131.2 435.3 132 435.7 132.8 436 133.6 436.4 134.4 436.8 135.2 437.2 136.1 437.5 136.9 437.9 137.7 438.3 138.5 438.6 139.3 439 140.1 439.4 140.9 439.7 141.7 440.1 142.5 440.4 143.3 440.8 144.1 441.1 144.9 441.4 145.7 441.8 146.5 442.1 147.3 442.4 148.1 442.8 148.9 443.1 149.7 443.4 150.5 443.7 151.3 444 152.1 444.3 152.9 444.6 153.7 444.9 154.5 445.2 155.3 445.5 156.2 445.8 157 446.1 157.8 446.4 158.6 446.7 159.4 446.9 160.2 447.2 161 447.5 161.8 447.8 162.6 448 163.4 448.3 164.2 448.6 165 448.8 165.8 449.1 166.6 449.4 167.4 449.6 168.2 449.9 169 450.1 169.8 450.4 170.6 450.6 171.4 450.9 172.2 451.1 173 451.3 173.8 451.6 174.6 451.8 175.4 452 176.3 452.2 177.1 452.5 177.9 452.7 178.7 452.9 179.5 453.1 180.3 453.3 181.1 453.5 181.9 453.8 182.7 454 183.5 454.2 184.3 454.4 185.1 454.6 185.9 454.8 186.7 454.9 187.5 455.1 188.3 455.3 189.1 455.5 189.9 455.7 190.7 455.9 191.5 456.1 192.3 456.2 193.1 456.4 193.9 456.6 194.7 456.8 195.5 456.9 196.4 457.1 197.2 457.3 198 457.4 198.8 457.6 199.6 457.8 200.4 457.9 201.2 458.1 202 458.3 202.8 458.4 203.6 458.6 204.4 458.7 205.2 458.9 206 459 206.8 459.2 207.6 459.3 208.4 459.4 209.2 459.6 210 459.7 210.8 459.9 211.6 460 212.4 460.1 213.2 460.3 214 460.4 214.8 460.5 215.6 460.7 216.5 460.8 217.3 460.9 218.1 461.1 218.9 461.2 219.7 461.3 220.5 461.4 221.3 461.6 222.1 461.7 222.9 461.8 223.7 461.9 224.5 462 225.3 462.2 226.1 462.3 226.9 462.4 227.7 462.5 228.5 462.6 229.3 462.7 230.1 462.8 230.9 462.9 231.7 463 232.5 463.2 233.3 463.3 234.1 463.4 234.9 463.5 235.7 463.6 236.6 463.7 237.4 463.8 238.2 463.9 239 464 239.8 464.1 240.6 464.2 241.4 464.2 242.2 464.3 243 464.4 243.8 464.5 244.6 464.6 245.4 464.7 246.2 464.8" stroke="#b4dcf3" stroke-width="1.1" fill="none" stroke-linejoin="round"/>
<path d="M24.3 378.3 25.1 379 25.9 379.6 26.7 380.2 27.5 380.8 28.3 381.4 29.1 382 29.9 382.6 30.7 383.2 31.5 383.8 32.3 384.5 33.1 385.1 33.9 385.7 34.8 386.3 35.6 386.9 36.4 387.5 37.2 388.1 38 388.7 38.8 389.3 39.6 389.9 40.4 390.5 41.2 391.1 42 391.7 42.8 392.3 43.6 392.8 44.4 393.4 45.2 394 46 394.6 46.8 395.2 47.6 395.7 48.4 396.3 49.2 396.9 50 397.4 50.8 398 51.6 398.6 52.4 399.1 53.2 399.7 54 400.2 54.9 400.8 55.7 401.4 56.5 401.9 57.3 402.5 58.1 403 58.9 403.5 59.7 404.1 60.5 404.6 61.3 405.2 62.1 405.7 62.9 406.2 63.7 406.7 64.5 407.3 65.3 407.8 66.1 408.3 66.9 408.8 67.7 409.4 68.5 409.9 69.3 410.4 70.1 410.9 70.9 411.4 71.7 411.9 72.5 412.4 73.3 412.9 74.1 413.5 75 414 75.8 414.5 76.6 415 77.4 415.5 78.2 415.9 79 416.4 79.8 416.9 80.6 417.4 81.4 417.9 82.2 418.4 83 418.9 83.8 419.4 84.6 419.8 85.4 420.3 86.2 420.8 87 421.3 87.8 421.8 88.6 422.2 89.4 422.7 90.2 423.2 91 423.7 91.8 424.1 92.6 424.6 93.4 425.1 94.2 425.5 95.1 426 95.9 426.4 96.7 426.9 97.5 427.4 98.3 427.8 99.1 428.3 99.9 428.7 100.7 429.2 101.5 429.6 102.3 430.1 103.1 430.5 103.9 431 104.7 431.4 105.5 431.9 106.3 432.3 107.1 432.7 107.9 433.2 108.7 433.6 109.5 434 110.3 434.5 111.1 434.9 111.9 435.3 112.7 435.7 113.5 436.1 114.3 436.5 115.2 436.9 116 437.3 116.8 437.7 117.6 438.1 118.4 438.5 119.2 438.9 120 439.3 120.8 439.7 121.6 440.1 122.4 440.5 123.2 440.9 124 441.2 124.8 441.6 125.6 442 126.4 442.4 127.2 442.7 128 443.1 128.8 443.5 129.6 443.8 130.4 444.2 131.2 444.5 132 444.9 132.8 445.2 133.6 445.6 134.4 445.9 135.2 446.3 136.1 446.6 136.9 447 137.7 447.3 138.5 447.6 139.3 448 140.1 448.3 140.9 448.6 141.7 448.9 142.5 449.2 143.3 449.6 144.1 449.9 144.9 450.2 145.7 450.5 146.5 450.8 147.3 451.1 148.1 451.4 148.9 451.6 149.7 451.9 150.5 452.2 151.3 452.5 152.1 452.8 152.9 453.1 153.7 453.3 154.5 453.6 155.3 453.9 156.2 454.1 157 454.4 157.8 454.7 158.6 454.9 159.4 455.2 160.2 455.4 161 455.7 161.8 455.9 162.6 456.2 163.4 456.4 164.2 456.7 165 456.9 165.8 457.2 166.6 457.4 167.4 457.6 168.2 457.8 169 458.1 169.8 458.3 170.6 458.5 171.4 458.7 172.2 458.9 173 459.1 173.8 459.3 174.6 459.5 175.4 459.7 176.3 459.9 177.1 460.1 177.9 460.3 178.7 460.5 179.5 460.6 180.3 460.8 181.1 461 181.9 461.1 182.7 461.3 183.5 461.4 184.3 461.6 185.1 461.7 185.9 461.9 186.7 462 187.5 462.2 188.3 462.3 189.1 462.4 189.9 462.6 190.7 462.7 191.5 462.8 192.3 462.9 193.1 463 193.9 463.2 194.7 463.3 195.5 463.4 196.4 463.5 197.2 463.6 198 463.7 198.8 463.8 199.6 463.9 200.4 464 201.2 464.1 202 464.2 202.8 464.3 203.6 464.4 204.4 464.5 205.2 464.6 206 464.7 206.8 464.8 207.6 464.9 208.4 465 209.2 465.1 210 465.2 210.8 465.3 211.6 465.3 212.4 465.4 213.2 465.5 214 465.6 214.8 465.7 215.6 465.7 216.5 465.8 217.3 465.9 218.1 466 218.9 466.1 219.7 466.1 220.5 466.2 221.3 466.3 222.1 466.4 222.9 466.4 223.7 466.5 224.5 466.6 225.3 466.6 226.1 466.7 226.9 466.8 227.7 466.8 228.5 466.9 229.3 467 230.1 467 230.9 467.1 231.7 467.2 232.5 467.2 233.3 467.3 234.1 467.3 234.9 467.4 235.7 467.5 236.6 467.5 237.4 467.6 238.2 467.6 239 467.7 239.8 467.7 240.6 467.8 241.4 467.8 242.2 467.9 243 467.9 243.8 468 244.6 468.1 245.4 468.1 246.2 468.2" stroke="#9fd2ef" stroke-width="1.1" fill="none" stroke-linejoin="round"/>
<path d="M24.3 382.8 25.1 383.5 25.9 384.2 26.7 384.9 27.5 385.6 28.3 386.3 29.1 387.1 29.9 387.8 30.7 388.5 31.5 389.2 32.3 389.9 33.1 390.6 33.9 391.3 34.8 392 35.6 392.7 36.4 393.3 37.2 394 38 394.7 38.8 395.4 39.6 396.1 40.4 396.8 41.2 397.4 42 398.1 42.8 398.8 43.6 399.5 44.4 400.1 45.2 400.8 46 401.4 46.8 402.1 47.6 402.8 48.4 403.4 49.2 404 50 404.7 50.8 405.3 51.6 406 52.4 406.6 53.2 407.2 54 407.9 54.9 408.5 55.7 409.1 56.5 409.7 57.3 410.4 58.1 411 58.9 411.6 59.7 412.2 60.5 412.8 61.3 413.4 62.1 414 62.9 414.6 63.7 415.2 64.5 415.8 65.3 416.4 66.1 417 66.9 417.6 67.7 418.1 68.5 418.7 69.3 419.3 70.1 419.9 70.9 420.4 71.7 421 72.5 421.6 73.3 422.1 74.1 422.7 75 423.3 75.8 423.8 76.6 424.4 77.4 424.9 78.2 425.5 79 426 79.8 426.5 80.6 427.1 81.4 427.6 82.2 428.1 83 428.7 83.8 429.2 84.6 429.7 85.4 430.2 86.2 430.7 87 431.3 87.8 431.8 88.6 432.3 89.4 432.8 90.2 433.3 91 433.8 91.8 434.3 92.6 434.8 93.4 435.3 94.2 435.8 95.1 436.2 95.9 436.7 96.7 437.2 97.5 437.7 98.3 438.2 99.1 438.6 99.9 439.1 100.7 439.6 101.5 440.1 102.3 440.5 103.1 441 103.9 441.4 104.7 441.9 105.5 442.3 106.3 442.8 107.1 443.2 107.9 443.7 108.7 444.1 109.5 444.5 110.3 445 111.1 445.4 111.9 445.8 112.7 446.2 113.5 446.6 114.3 447 115.2 447.4 116 447.8 116.8 448.2 117.6 448.6 118.4 449 119.2 449.4 120 449.8 120.8 450.1 121.6 450.5 122.4 450.9 123.2 451.2 124 451.6 124.8 452 125.6 452.3 126.4 452.7 127.2 453 128 453.4 128.8 453.7 129.6 454.1 130.4 454.4 131.2 454.7 132 455.1 132.8 455.4 133.6 455.7 134.4 456 135.2 456.4 136.1 456.7 136.9 457 137.7 457.3 138.5 457.6 139.3 457.9 140.1 458.2 140.9 458.5 141.7 458.8 142.5 459 143.3 459.3 144.1 459.6 144.9 459.8 145.7 460.1 146.5 460.4 147.3 460.6 148.1 460.9 148.9 461.1 149.7 461.3 150.5 461.6 151.3 461.8 152.1 462 152.9 462.3 153.7 462.5 154.5 462.7 155.3 462.9 156.2 463.1 157 463.4 157.8 463.6 158.6 463.8 159.4 464 160.2 464.2 161 464.4 161.8 464.6 162.6 464.7 163.4 464.9 164.2 465.1 165 465.3 165.8 465.5 166.6 465.6 167.4 465.8 168.2 466 169 466.2 169.8 466.3 170.6 466.5 171.4 466.6 172.2 466.8 173 466.9 173.8 467.1 174.6 467.2 175.4 467.4 176.3 467.5 177.1 467.6 177.9 467.8 178.7 467.9 179.5 468 180.3 468.1 181.1 468.2 181.9 468.4 182.7 468.5 183.5 468.6 184.3 468.7 185.1 468.8 185.9 468.9 186.7 469 187.5 469.1 188.3 469.2 189.1 469.3 189.9 469.4 190.7 469.5 191.5 469.6 192.3 469.7 193.1 469.7 193.9 469.8 194.7 469.9 195.5 470 196.4 470.1 197.2 470.2 198 470.2 198.8 470.3 199.6 470.4 200.4 470.5 201.2 470.5 202 470.6 202.8 470.6 203.6 470.7 204.4 470.8 205.2 470.8 206 470.8 206.8 470.9 207.6 470.9 208.4 471 209.2 471 210 471 210.8 471.1 211.6 471.1 212.4 471.1 213.2 471.1 214 471.1 214.8 471.2 215.6 471.2 216.5 471.2 217.3 471.2 218.1 471.2 218.9 471.2 219.7 471.2 220.5 471.2 221.3 471.2 222.1 471.2 222.9 471.2 223.7 471.1 224.5 471.1 225.3 471.1 226.1 471.1 226.9 471.1 227.7 471.1 228.5 471 229.3 471 230.1 471 230.9 471 231.7 470.9 232.5 470.9 233.3 470.9 234.1 470.9 234.9 470.8 235.7 470.8 236.6 470.7 237.4 470.7 238.2 470.7 239 470.6 239.8 470.6 240.6 470.5 241.4 470.5 242.2 470.4 243 470.4 243.8 470.4 244.6 470.3 245.4 470.3 246.2 470.2" stroke="#7cc2ea" stroke-width="1.1" fill="none" stroke-linejoin="round"/>
<path d="M24.3 400.1 25.1 400.9 25.9 401.6 26.7 402.4 27.5 403.1 28.3 403.9 29.1 404.7 29.9 405.4 30.7 406.2 31.5 407 32.3 407.7 33.1 408.5 33.9 409.3 34.8 410 35.6 410.8 36.4 411.5 37.2 412.3 38 413 38.8 413.7 39.6 414.5 40.4 415.2 41.2 415.9 42 416.6 42.8 417.3 43.6 418 44.4 418.7 45.2 419.4 46 420.1 46.8 420.8 47.6 421.5 48.4 422.2 49.2 422.8 50 423.5 50.8 424.2 51.6 424.8 52.4 425.5 53.2 426.1 54 426.7 54.9 427.4 55.7 428 56.5 428.6 57.3 429.3 58.1 429.9 58.9 430.5 59.7 431.1 60.5 431.7 61.3 432.3 62.1 432.9 62.9 433.5 63.7 434.1 64.5 434.7 65.3 435.2 66.1 435.8 66.9 436.4 67.7 436.9 68.5 437.5 69.3 438.1 70.1 438.6 70.9 439.2 71.7 439.7 72.5 440.3 73.3 440.8 74.1 441.3 75 441.8 75.8 442.4 76.6 442.9 77.4 443.4 78.2 443.9 79 444.4 79.8 444.9 80.6 445.4 81.4 445.9 82.2 446.3 83 446.8 83.8 447.3 84.6 447.7 85.4 448.2 86.2 448.6 87 449.1 87.8 449.5 88.6 450 89.4 450.4 90.2 450.8 91 451.3 91.8 451.7 92.6 452.1 93.4 452.5 94.2 452.9 95.1 453.3 95.9 453.7 96.7 454.1 97.5 454.5 98.3 454.9 99.1 455.3 99.9 455.7 100.7 456.1 101.5 456.5 102.3 456.8 103.1 457.2 103.9 457.6 104.7 457.9 105.5 458.3 106.3 458.6 107.1 459 107.9 459.3 108.7 459.6 109.5 460 110.3 460.3 111.1 460.6 111.9 460.9 112.7 461.2 113.5 461.5 114.3 461.8 115.2 462.1 116 462.4 116.8 462.6 117.6 462.9 118.4 463.2 119.2 463.4 120 463.7 120.8 464 121.6 464.2 122.4 464.5 123.2 464.7 124 464.9 124.8 465.2 125.6 465.4 126.4 465.6 127.2 465.9 128 466.1 128.8 466.3 129.6 466.5 130.4 466.7 131.2 466.9 132 467.1 132.8 467.3 133.6 467.5 134.4 467.7 135.2 467.9 136.1 468.1 136.9 468.3 137.7 468.5 138.5 468.6 139.3 468.8 140.1 469 140.9 469.1 141.7 469.3 142.5 469.4 143.3 469.6 144.1 469.7 144.9 469.8 145.7 469.9 146.5 470.1 147.3 470.2 148.1 470.3 148.9 470.4 149.7 470.5 150.5 470.6 151.3 470.7 152.1 470.8 152.9 470.9 153.7 470.9 154.5 471 155.3 471.1 156.2 471.2 157 471.3 157.8 471.3 158.6 471.4 159.4 471.5 160.2 471.5 161 471.6 161.8 471.6 162.6 471.7 163.4 471.8 164.2 471.8 165 471.9 165.8 471.9 166.6 472 167.4 472 168.2 472.1 169 472.1 169.8 472.1 170.6 472.2 171.4 472.2 172.2 472.3 173 472.3 173.8 472.3 174.6 472.3 175.4 472.4 176.3 472.4 177.1 472.4 177.9 472.4 178.7 472.5 179.5 472.5 180.3 472.5 181.1 472.5 181.9 472.5 182.7 472.5 183.5 472.5 184.3 472.5 185.1 472.5 185.9 472.5 186.7 472.5 187.5 472.5 188.3 472.5 189.1 472.5 189.9 472.5 190.7 472.5 191.5 472.4 192.3 472.4 193.1 472.4 193.9 472.4 194.7 472.4 195.5 472.4 196.4 472.3 197.2 472.3 198 472.3 198.8 472.3 199.6 472.2 200.4 472.2 201.2 472.2 202 472.2 202.8 472.1 203.6 472.1 204.4 472.1 205.2 472 206 472 206.8 472 207.6 472 208.4 471.9 209.2 471.9 210 471.9 210.8 471.8 211.6 471.8 212.4 471.7 213.2 471.7 214 471.7 214.8 471.6 215.6 471.6 216.5 471.5 217.3 471.5 218.1 471.5 218.9 471.4 219.7 471.4 220.5 471.3 221.3 471.3 222.1 471.2 222.9 471.2 223.7 471.1 224.5 471 225.3 471 226.1 470.9 226.9 470.9 227.7 470.8 228.5 470.7 229.3 470.7 230.1 470.6 230.9 470.5 231.7 470.5 232.5 470.4 233.3 470.3 234.1 470.2 234.9 470.2 235.7 470.1 236.6 470 237.4 469.9 238.2 469.9 239 469.8 239.8 469.7 240.6 469.6 241.4 469.5 242.2 469.5 243 469.4 243.8 469.3 244.6 469.2 245.4 469.1 246.2 469.1" stroke="#5db2e3" stroke-width="1.1" fill="none" stroke-linejoin="round"/>
<path d="M24.3 423.9 25.1 424.7 25.9 425.4 26.7 426.2 27.5 427 28.3 427.8 29.1 428.6 29.9 429.4 30.7 430.1 31.5 430.9 32.3 431.7 33.1 432.5 33.9 433.3 34.8 434 35.6 434.8 36.4 435.6 37.2 436.3 38 437.1 38.8 437.8 39.6 438.5 40.4 439.3 41.2 440 42 440.7 42.8 441.4 43.6 442.1 44.4 442.8 45.2 443.4 46 444.1 46.8 444.7 47.6 445.4 48.4 446 49.2 446.7 50 447.3 50.8 447.9 51.6 448.5 52.4 449.1 53.2 449.7 54 450.2 54.9 450.8 55.7 451.4 56.5 451.9 57.3 452.5 58.1 453 58.9 453.6 59.7 454.1 60.5 454.6 61.3 455.1 62.1 455.6 62.9 456.1 63.7 456.6 64.5 457.1 65.3 457.6 66.1 458.1 66.9 458.6 67.7 459 68.5 459.5 69.3 460 70.1 460.4 70.9 460.9 71.7 461.3 72.5 461.7 73.3 462.1 74.1 462.6 75 463 75.8 463.4 76.6 463.8 77.4 464.1 78.2 464.5 79 464.9 79.8 465.2 80.6 465.6 81.4 465.9 82.2 466.3 83 466.6 83.8 466.9 84.6 467.2 85.4 467.5 86.2 467.8 87 468.1 87.8 468.4 88.6 468.7 89.4 469 90.2 469.2 91 469.5 91.8 469.7 92.6 470 93.4 470.2 94.2 470.5 95.1 470.7 95.9 471 96.7 471.2 97.5 471.4 98.3 471.6 99.1 471.9 99.9 472.1 100.7 472.3 101.5 472.5 102.3 472.7 103.1 472.9 103.9 473.1 104.7 473.3 105.5 473.4 106.3 473.6 107.1 473.8 107.9 473.9 108.7 474.1 109.5 474.2 110.3 474.4 111.1 474.5 111.9 474.6 112.7 474.8 113.5 474.9 114.3 475 115.2 475.1 116 475.2 116.8 475.3 117.6 475.4 118.4 475.4 119.2 475.5 120 475.6 120.8 475.6 121.6 475.7 122.4 475.7 123.2 475.8 124 475.8 124.8 475.9 125.6 475.9 126.4 475.9 127.2 475.9 128 476 128.8 476 129.6 476 130.4 476 131.2 476 132 476 132.8 476 133.6 476 134.4 475.9 135.2 475.9 136.1 475.9 136.9 475.9 137.7 475.8 138.5 475.8 139.3 475.8 140.1 475.7 140.9 475.7 141.7 475.6 142.5 475.5 143.3 475.5 144.1 475.4 144.9 475.3 145.7 475.3 146.5 475.2 147.3 475.1 148.1 475 148.9 475 149.7 474.9 150.5 474.8 151.3 474.7 152.1 474.6 152.9 474.5 153.7 474.4 154.5 474.3 155.3 474.2 156.2 474.1 157 473.9 157.8 473.8 158.6 473.7 159.4 473.6 160.2 473.4 161 473.3 161.8 473.1 162.6 473 163.4 472.9 164.2 472.7 165 472.5 165.8 472.4 166.6 472.2 167.4 472.1 168.2 471.9 169 471.7 169.8 471.6 170.6 471.4 171.4 471.2 172.2 471 173 470.8 173.8 470.7 174.6 470.5 175.4 470.3 176.3 470.1 177.1 469.9 177.9 469.7 178.7 469.5 179.5 469.3 180.3 469.1 181.1 468.9 181.9 468.7 182.7 468.5 183.5 468.3 184.3 468.1 185.1 467.9 185.9 467.6 186.7 467.4 187.5 467.2 188.3 467 189.1 466.7 189.9 466.5 190.7 466.3 191.5 466 192.3 465.8 193.1 465.5 193.9 465.3 194.7 465 195.5 464.8 196.4 464.5 197.2 464.3 198 464 198.8 463.7 199.6 463.5 200.4 463.2 201.2 462.9 202 462.7 202.8 462.4 203.6 462.1 204.4 461.9 205.2 461.6 206 461.3 206.8 461.1 207.6 460.8 208.4 460.5 209.2 460.3 210 460 210.8 459.7 211.6 459.5 212.4 459.2 213.2 459 214 458.7 214.8 458.5 215.6 458.2 216.5 458 217.3 457.7 218.1 457.4 218.9 457.2 219.7 456.9 220.5 456.7 221.3 456.5 222.1 456.2 222.9 456 223.7 455.7 224.5 455.5 225.3 455.2 226.1 455 226.9 454.7 227.7 454.5 228.5 454.2 229.3 454 230.1 453.8 230.9 453.5 231.7 453.3 232.5 453 233.3 452.8 234.1 452.5 234.9 452.3 235.7 452.1 236.6 451.8 237.4 451.6 238.2 451.3 239 451.1 239.8 450.9 240.6 450.6 241.4 450.4 242.2 450.1 243 449.9 243.8 449.6 244.6 449.4 245.4 449.2 246.2 448.9" stroke="#3aa2dc" stroke-width="1.1" fill="none" stroke-linejoin="round"/>
<path d="M24.3 421 25.1 421.7 25.9 422.5 26.7 423.3 27.5 424 28.3 424.8 29.1 425.6 29.9 426.3 30.7 427.1 31.5 427.9 32.3 428.7 33.1 429.4 33.9 430.2 34.8 430.9 35.6 431.7 36.4 432.4 37.2 433.2 38 433.9 38.8 434.6 39.6 435.4 40.4 436.1 41.2 436.8 42 437.5 42.8 438.2 43.6 438.8 44.4 439.5 45.2 440.2 46 440.8 46.8 441.5 47.6 442.1 48.4 442.7 49.2 443.4 50 444 50.8 444.6 51.6 445.2 52.4 445.8 53.2 446.3 54 446.9 54.9 447.5 55.7 448 56.5 448.6 57.3 449.1 58.1 449.7 58.9 450.2 59.7 450.7 60.5 451.2 61.3 451.7 62.1 452.2 62.9 452.7 63.7 453.2 64.5 453.7 65.3 454.2 66.1 454.7 66.9 455.1 67.7 455.6 68.5 456.1 69.3 456.5 70.1 457 70.9 457.4 71.7 457.8 72.5 458.3 73.3 458.7 74.1 459.1 75 459.5 75.8 459.9 76.6 460.3 77.4 460.7 78.2 461.1 79 461.4 79.8 461.8 80.6 462.2 81.4 462.5 82.2 462.9 83 463.2 83.8 463.5 84.6 463.9 85.4 464.2 86.2 464.5 87 464.8 87.8 465.1 88.6 465.5 89.4 465.8 90.2 466.1 91 466.3 91.8 466.6 92.6 466.9 93.4 467.2 94.2 467.5 95.1 467.8 95.9 468.1 96.7 468.3 97.5 468.6 98.3 468.9 99.1 469.1 99.9 469.4 100.7 469.6 101.5 469.9 102.3 470.1 103.1 470.4 103.9 470.6 104.7 470.8 105.5 471 106.3 471.2 107.1 471.4 107.9 471.6 108.7 471.8 109.5 472 110.3 472.1 111.1 472.3 111.9 472.4 112.7 472.5 113.5 472.6 114.3 472.8 115.2 472.8 116 472.9 116.8 473 117.6 473.1 118.4 473.1 119.2 473.2 120 473.2 120.8 473.2 121.6 473.2 122.4 473.3 123.2 473.3 124 473.3 124.8 473.2 125.6 473.2 126.4 473.2 127.2 473.2 128 473.2 128.8 473.1 129.6 473.1 130.4 473 131.2 473 132 473 132.8 472.9 133.6 472.9 134.4 472.8 135.2 472.7 136.1 472.7 136.9 472.6 137.7 472.6 138.5 472.5 139.3 472.4 140.1 472.3 140.9 472.3 141.7 472.2 142.5 472.1 143.3 472 144.1 471.9 144.9 471.8 145.7 471.8 146.5 471.7 147.3 471.6 148.1 471.4 148.9 471.3 149.7 471.2 150.5 471.1 151.3 471 152.1 470.8 152.9 470.7 153.7 470.5 154.5 470.3 155.3 470.2 156.2 470 157 469.8 157.8 469.6 158.6 469.4 159.4 469.2 160.2 468.9 161 468.7 161.8 468.4 162.6 468.2 163.4 467.9 164.2 467.6 165 467.3 165.8 467 166.6 466.7 167.4 466.4 168.2 466.1 169 465.8 169.8 465.4 170.6 465.1 171.4 464.8 172.2 464.4 173 464.1 173.8 463.7 174.6 463.4 175.4 463 176.3 462.6 177.1 462.2 177.9 461.9 178.7 461.5 179.5 461.1 180.3 460.7 181.1 460.3 181.9 459.9 182.7 459.5 183.5 459.1 184.3 458.7 185.1 458.3 185.9 457.9 186.7 457.4 187.5 457 188.3 456.5 189.1 456.1 189.9 455.6 190.7 455.2 191.5 454.7 192.3 454.2 193.1 453.7 193.9 453.2 194.7 452.7 195.5 452.2 196.4 451.7 197.2 451.2 198 450.7 198.8 450.2 199.6 449.6 200.4 449.1 201.2 448.6 202 448 202.8 447.5 203.6 447 204.4 446.4 205.2 445.9 206 445.3 206.8 444.8 207.6 444.3 208.4 443.7 209.2 443.2 210 442.6 210.8 442.1 211.6 441.5 212.4 441 213.2 440.5 214 439.9 214.8 439.4 215.6 438.8 216.5 438.3 217.3 437.8 218.1 437.2 218.9 436.7 219.7 436.1 220.5 435.6 221.3 435.1 222.1 434.5 222.9 434 223.7 433.4 224.5 432.9 225.3 432.4 226.1 431.8 226.9 431.3 227.7 430.7 228.5 430.2 229.3 429.6 230.1 429.1 230.9 428.5 231.7 428 232.5 427.4 233.3 426.9 234.1 426.3 234.9 425.8 235.7 425.2 236.6 424.7 237.4 424.1 238.2 423.6 239 423 239.8 422.4 240.6 421.9 241.4 421.3 242.2 420.8 243 420.2 243.8 419.7 244.6 419.1 245.4 418.5 246.2 418" stroke="#2a9ad8" stroke-width="1.1" fill="none" stroke-linejoin="round"/>
<path d="M24.3 418.9 25.1 419.7 25.9 420.5 26.7 421.3 27.5 422.2 28.3 423 29.1 423.8 29.9 424.6 30.7 425.4 31.5 426.2 32.3 427 33.1 427.8 33.9 428.6 34.8 429.4 35.6 430.2 36.4 431 37.2 431.7 38 432.5 38.8 433.3 39.6 434 40.4 434.8 41.2 435.5 42 436.3 42.8 437 43.6 437.7 44.4 438.4 45.2 439.1 46 439.8 46.8 440.5 47.6 441.2 48.4 441.9 49.2 442.6 50 443.2 50.8 443.9 51.6 444.5 52.4 445.2 53.2 445.8 54 446.5 54.9 447.1 55.7 447.7 56.5 448.4 57.3 449 58.1 449.6 58.9 450.2 59.7 450.9 60.5 451.5 61.3 452.1 62.1 452.7 62.9 453.3 63.7 454 64.5 454.6 65.3 455.2 66.1 455.8 66.9 456.4 67.7 457 68.5 457.5 69.3 458.1 70.1 458.7 70.9 459.2 71.7 459.7 72.5 460.3 73.3 460.8 74.1 461.2 75 461.7 75.8 462.2 76.6 462.6 77.4 463 78.2 463.4 79 463.7 79.8 464.1 80.6 464.4 81.4 464.7 82.2 465 83 465.2 83.8 465.4 84.6 465.6 85.4 465.8 86.2 465.9 87 466.1 87.8 466.2 88.6 466.3 89.4 466.4 90.2 466.4 91 466.5 91.8 466.5 92.6 466.5 93.4 466.5 94.2 466.6 95.1 466.6 95.9 466.5 96.7 466.5 97.5 466.5 98.3 466.5 99.1 466.5 99.9 466.4 100.7 466.4 101.5 466.4 102.3 466.3 103.1 466.3 103.9 466.3 104.7 466.2 105.5 466.2 106.3 466.1 107.1 466.1 107.9 466 108.7 466 109.5 465.9 110.3 465.9 111.1 465.8 111.9 465.7 112.7 465.7 113.5 465.6 114.3 465.5 115.2 465.4 116 465.4 116.8 465.3 117.6 465.2 118.4 465.1 119.2 464.9 120 464.8 120.8 464.7 121.6 464.5 122.4 464.4 123.2 464.2 124 464 124.8 463.9 125.6 463.7 126.4 463.4 127.2 463.2 128 463 128.8 462.7 129.6 462.5 130.4 462.2 131.2 461.9 132 461.6 132.8 461.3 133.6 461 134.4 460.7 135.2 460.4 136.1 460 136.9 459.7 137.7 459.3 138.5 459 139.3 458.6 140.1 458.2 140.9 457.9 141.7 457.5 142.5 457.1 143.3 456.7 144.1 456.3 144.9 455.9 145.7 455.6 146.5 455.2 147.3 454.8 148.1 454.4 148.9 454 149.7 453.6 150.5 453.2 151.3 452.8 152.1 452.4 152.9 451.9 153.7 451.5 154.5 451.1 155.3 450.7 156.2 450.3 157 449.8 157.8 449.4 158.6 449 159.4 448.5 160.2 448.1 161 447.6 161.8 447.2 162.6 446.7 163.4 446.2 164.2 445.8 165 445.3 165.8 444.8 166.6 444.3 167.4 443.8 168.2 443.3 169 442.8 169.8 442.3 170.6 441.8 171.4 441.3 172.2 440.8 173 440.3 173.8 439.8 174.6 439.3 175.4 438.8 176.3 438.2 177.1 437.7 177.9 437.2 178.7 436.7 179.5 436.1 180.3 435.6 181.1 435.1 181.9 434.5 182.7 434 183.5 433.4 184.3 432.9 185.1 432.3 185.9 431.8 186.7 431.2 187.5 430.7 188.3 430.1 189.1 429.6 189.9 429 190.7 428.4 191.5 427.8 192.3 427.3 193.1 426.7 193.9 426.1 194.7 425.5 195.5 424.9 196.4 424.3 197.2 423.7 198 423.1 198.8 422.5 199.6 421.9 200.4 421.3 201.2 420.7 202 420.1 202.8 419.5 203.6 418.9 204.4 418.3 205.2 417.7 206 417.1 206.8 416.5 207.6 415.9 208.4 415.2 209.2 414.6 210 414 210.8 413.4 211.6 412.8 212.4 412.2 213.2 411.5 214 410.9 214.8 410.3 215.6 409.7 216.5 409.1 217.3 408.5 218.1 407.8 218.9 407.2 219.7 406.6 220.5 406 221.3 405.3 222.1 404.7 222.9 404.1 223.7 403.5 224.5 402.8 225.3 402.2 226.1 401.6 226.9 401 227.7 400.3 228.5 399.7 229.3 399.1 230.1 398.4 230.9 397.8 231.7 397.2 232.5 396.5 233.3 395.9 234.1 395.3 234.9 394.6 235.7 394 236.6 393.3 237.4 392.7 238.2 392.1 239 391.4 239.8 390.8 240.6 390.1 241.4 389.5 242.2 388.9 243 388.2 243.8 387.6 244.6 386.9 245.4 386.3 246.2 385.7" stroke="#1f93d4" stroke-width="1.1" fill="none" stroke-linejoin="round"/>
</g>
<line x1="214.5" y1="400.5" x2="214.5" y2="486.4" stroke="#222" stroke-width="1.0" stroke-dasharray="3 2"/>
<rect x="24.3" y="330.4" width="221.9" height="156" fill="none" stroke="#808080" stroke-width="0.9"/>
<line x1="24.3" y1="486.4" x2="24.3" y2="483.9" stroke="#808080" stroke-width="0.9"/>
<text x="24.3" y="494.5" font-size="9" text-anchor="middle" fill="#231f20">0.2</text>
<line x1="87.7" y1="486.4" x2="87.7" y2="483.9" stroke="#808080" stroke-width="0.9"/>
<text x="87.7" y="494.5" font-size="9" text-anchor="middle" fill="#231f20">0.3</text>
<line x1="151.1" y1="486.4" x2="151.1" y2="483.9" stroke="#808080" stroke-width="0.9"/>
<text x="151.1" y="494.5" font-size="9" text-anchor="middle" fill="#231f20">0.4</text>
<line x1="214.5" y1="486.4" x2="214.5" y2="483.9" stroke="#808080" stroke-width="0.9"/>
<text x="214.5" y="494.5" font-size="9" text-anchor="middle" fill="#231f20">0.5</text>
<line x1="21.8" y1="464.1" x2="24.3" y2="464.1" stroke="#808080" stroke-width="0.9"/>
<text x="22" y="467.3" font-size="9" text-anchor="end" fill="#231f20">4</text>
<line x1="21.8" y1="419.5" x2="24.3" y2="419.5" stroke="#808080" stroke-width="0.9"/>
<text x="22" y="422.7" font-size="9" text-anchor="end" fill="#231f20">6</text>
<line x1="21.8" y1="374.9" x2="24.3" y2="374.9" stroke="#808080" stroke-width="0.9"/>
<text x="22" y="378.1" font-size="9" text-anchor="end" fill="#231f20">8</text>
<line x1="21.8" y1="330.3" x2="24.3" y2="330.3" stroke="#808080" stroke-width="0.9"/>
<text x="22" y="333.5" font-size="9" text-anchor="end" fill="#231f20">10</text>
<text x="127" y="505" font-size="9" fill="#231f20"><tspan font-style="italic">V</tspan><tspan font-size="6.5" dy="1.2">g</tspan><tspan dy="-1.2"> (V)</tspan></text>
<text transform="translate(14.3 401) rotate(-90)" font-size="9" text-anchor="middle" fill="#231f20"><tspan font-style="italic">I</tspan> (μA)</text>
<line x1="81.6" y1="334.2" x2="90.2" y2="334.2" stroke="#cfe8f7" stroke-width="1.4"/>
<text x="92" y="336.9" font-size="7.3" fill="#231f20">0 μM</text>
<line x1="81.6" y1="343.7" x2="90.2" y2="343.7" stroke="#b4dcf3" stroke-width="1.4"/>
<text x="92" y="346.4" font-size="7.3" fill="#231f20">4 μM</text>
<line x1="81.6" y1="353.2" x2="90.2" y2="353.2" stroke="#9fd2ef" stroke-width="1.4"/>
<text x="92" y="355.9" font-size="7.3" fill="#231f20">8 μM</text>
<line x1="81.6" y1="362.1" x2="90.2" y2="362.1" stroke="#7cc2ea" stroke-width="1.4"/>
<text x="92" y="364.8" font-size="7.3" fill="#231f20">16μM</text>
<line x1="81.6" y1="371.2" x2="90.2" y2="371.2" stroke="#5db2e3" stroke-width="1.4"/>
<text x="92" y="373.9" font-size="7.3" fill="#231f20">32μM</text>
<line x1="81.6" y1="380.7" x2="90.2" y2="380.7" stroke="#3aa2dc" stroke-width="1.4"/>
<text x="92" y="383.4" font-size="7.3" fill="#231f20">64μM</text>
<line x1="81.6" y1="389.8" x2="90.2" y2="389.8" stroke="#2a9ad8" stroke-width="1.4"/>
<text x="92" y="392.5" font-size="7.3" fill="#231f20">128μM</text>
<line x1="81.6" y1="399" x2="90.2" y2="399" stroke="#1f93d4" stroke-width="1.4"/>
<text x="92" y="401.7" font-size="7.3" fill="#231f20">256μM</text>
<rect x="137.2" y="349.8" width="55.1" height="54" fill="#dacdef" stroke="none" stroke-width="1"/>
<rect x="150.2" y="349.8" width="7.8" height="54" fill="#b29ae3" stroke="none" stroke-width="1"/>
<rect x="181" y="349.8" width="7.3" height="54" fill="#b29ae3" stroke="none" stroke-width="1"/>
<path d="M137.2 345.4 H152.6 M154.6 345.4 H183.8 M185.8 345.4 H203.2" stroke="#333" stroke-width="0.8" fill="none"/>
<line x1="152.6" y1="342.2" x2="152.6" y2="348.6" stroke="#333" stroke-width="0.9"/>
<line x1="154.6" y1="342.2" x2="154.6" y2="348.6" stroke="#333" stroke-width="0.9"/>
<line x1="183.8" y1="342.2" x2="183.8" y2="348.6" stroke="#333" stroke-width="0.9"/>
<line x1="185.8" y1="342.2" x2="185.8" y2="348.6" stroke="#333" stroke-width="0.9"/>
<text x="146.2" y="341.4" font-size="8" fill="#333">C<tspan font-size="5">EDL2</tspan></text>
<text x="176.2" y="341.4" font-size="8" fill="#333">C<tspan font-size="5">EDL1</tspan></text>
<line x1="203.2" y1="338.5" x2="203.2" y2="403.8" stroke="#111" stroke-width="1.0"/>
<path d="M203.2 334.5 L200.6 340.5 L205.8 340.5 Z" fill="#111"/>
<rect x="188.3" y="353" width="3.2" height="14.3" fill="#2b3a55" stroke="none" stroke-width="1"/>
<line x1="191.5" y1="360" x2="203.2" y2="360" stroke="#111" stroke-width="0.9"/>
<text x="204" y="363.6" font-size="8.5" font-style="italic" fill="#222">V<tspan font-size="7" font-style="normal" dy="1.2">g</tspan></text>
<path d="M150 391.4 L158 373.2 L181 373.2 L188.3 360" stroke="#3f9be0" stroke-width="1.0" fill="none"/>
<path d="M150 391.4 L158 380.4 L181 380.4 L188.3 360" stroke="#111" stroke-width="1.0" fill="none"/>
<line x1="177.8" y1="379.5" x2="177.8" y2="375.5" stroke="#d02828" stroke-width="0.7"/>
<path d="M177.8 374 L176.6 376.6 L179 376.6 Z" fill="#d02828"/>
<line x1="199.8" y1="379.5" x2="199.8" y2="375.5" stroke="#d02828" stroke-width="0.7"/>
<path d="M199.8 374 L198.6 376.6 L201 376.6 Z" fill="#d02828"/>
<line x1="197" y1="373.2" x2="203.2" y2="373.2" stroke="#3f9be0" stroke-width="1.0"/>
<line x1="197" y1="380.3" x2="203.2" y2="380.3" stroke="#111" stroke-width="1.0"/>
<line x1="197" y1="392.2" x2="203.2" y2="392.2" stroke="#111" stroke-width="1.0"/>
<text x="204" y="383.6" font-size="8.5" font-style="italic" fill="#222">V<tspan font-size="6" font-style="normal" dy="1">eff</tspan></text>
<text x="204.2" y="395.4" font-size="8.5" fill="#222">0</text>
<path d="M137.6 381.6 H142.6 V402.2 H137.6" stroke="#111" stroke-width="1.0" fill="none"/>
<line x1="150" y1="384.9" x2="150" y2="399.6" stroke="#111" stroke-width="1.6"/>
<text x="151.4" y="397.6" font-size="8.8" fill="#8c64c8">electrolyte</text>
<text x="127.3" y="410.5" font-size="8.8" fill="#231f20">graphene</text>
<text x="131" y="420.7" font-size="8.8" fill="#231f20">channel</text>
<text x="179.9" y="410.5" font-size="8.8" fill="#231f20">gate</text>
<text x="0" y="525.8" font-size="12" font-weight="bold" fill="#000">h</text>
<path d="M20.7 568 H23 V557 H25.6 V568 H28.2 V557 H31.2 V568 H33.2 M45.2 568 H47.5 H47.5 V557 H50.1 V568 H52.7" stroke="#3b8ee6" stroke-width="0.8" fill="none"/>
<circle cx="36.2" cy="567.8" r="0.6" fill="#3b8ee6"/>
<circle cx="39.2" cy="567.8" r="0.6" fill="#3b8ee6"/>
<circle cx="42.2" cy="567.8" r="0.6" fill="#3b8ee6"/>
<line x1="20.7" y1="553" x2="26.2" y2="553" stroke="#3b8ee6" stroke-width="1"/>
<path d="M28 553 l-3 -2 v4 z" fill="#3b8ee6"/>
<text x="25.2" y="546.8" font-size="10.5" font-style="italic" fill="#231f20">V<tspan font-size="6.5" font-style="normal" dy="1.2">i</tspan></text>
<circle cx="30.8" cy="553.2" r="1.3" fill="#fff" stroke="#2b2b2b" stroke-width="0.7"/>
<line x1="32.1" y1="553.2" x2="60.4" y2="553.2" stroke="#2b2b2b" stroke-width="0.8"/>
<rect x="60.4" y="545.3" width="42.8" height="16.3" fill="#fff" stroke="#2b2b2b" stroke-width="0.9"/>
<rect x="97.42" y="545.3" width="5.78" height="16.3" fill="#000" stroke="none" stroke-width="1"/>
<path d="M60.4 553.45 H67.43 V550.03 H74.47 V556.87 H81.87 V550.03 H89.28 V553.45 H97.42" stroke="#2b2b2b" stroke-width="0.9" fill="none"/>
<text x="75" y="542.3" font-size="11" font-style="italic" fill="#231f20">M</text>
<path d="M103.2 552.8 H126.4 V586.1 H94.8 V595" stroke="#2b2b2b" stroke-width="0.8" fill="none"/>
<circle cx="126.4" cy="570.7" r="0.9" fill="#2b2b2b"/>
<text x="113.2" y="573.8" font-size="10.5" font-style="italic" fill="#231f20">V<tspan font-size="6.5" font-style="normal" dy="0.6">o</tspan></text>
<line x1="126.4" y1="570.7" x2="157.4" y2="570.7" stroke="#2b2b2b" stroke-width="0.8"/>
<line x1="157.4" y1="558.4" x2="157.4" y2="582.6" stroke="#2b2b2b" stroke-width="1.6"/>
<line x1="165" y1="558.4" x2="165" y2="582.6" stroke="#2b2b2b" stroke-width="1.6"/>
<path d="M165 570.7 H194 V578.6" stroke="#2b2b2b" stroke-width="0.8" fill="none"/>
<line x1="189" y1="578.8" x2="199" y2="578.8" stroke="#2b2b2b" stroke-width="0.8"/>
<line x1="190.8" y1="581.3" x2="197.2" y2="581.3" stroke="#2b2b2b" stroke-width="0.8"/>
<line x1="192.6" y1="583.8" x2="195.4" y2="583.8" stroke="#2b2b2b" stroke-width="0.8"/>
<text x="157" y="554.5" font-size="11.5" font-style="italic" fill="#231f20">C</text>
<rect x="56" y="580" width="44.9" height="31" fill="#d6c8ee" stroke="none" stroke-width="1"/>
<path d="M65.3 595.3 V586.1 H31.8 V588.6" stroke="#2b2b2b" stroke-width="0.8" fill="none"/>
<line x1="26.8" y1="588.6" x2="36.8" y2="588.6" stroke="#2b2b2b" stroke-width="0.8"/>
<line x1="28.6" y1="591.1" x2="35" y2="591.1" stroke="#2b2b2b" stroke-width="0.8"/>
<line x1="30.4" y1="593.6" x2="33.2" y2="593.6" stroke="#2b2b2b" stroke-width="0.8"/>
<line x1="64.8" y1="595.3" x2="94.8" y2="595.3" stroke="#2b2b2b" stroke-width="1.6"/>
<line x1="64.8" y1="601.8" x2="94.8" y2="601.8" stroke="#2b2b2b" stroke-width="1.6"/>
<line x1="68.5" y1="610.3" x2="90.2" y2="590.6" stroke="#2b2b2b" stroke-width="1.0"/>
<path d="M92.7 588.3 L85.9 590.9 L89.6 594.5 Z" fill="#2b2b2b"/>
<text x="74.5" y="590.4" font-size="11" font-style="italic" fill="#231f20">S</text>
<line x1="56" y1="611" x2="36.2" y2="625.4" stroke="#555" stroke-width="0.6" stroke-dasharray="1.2 1.2"/>
<line x1="100.9" y1="611" x2="183.4" y2="625.4" stroke="#555" stroke-width="0.6" stroke-dasharray="1.2 1.2"/>
<pattern id="speck" x="0" y="0" width="5" height="5" patternUnits="userSpaceOnUse"><rect width="5" height="5" fill="#5a5a4c"/><circle cx="1" cy="1" r="0.9" fill="#777565"/><circle cx="3.6" cy="2.6" r="0.8" fill="#3f3f35"/><circle cx="2" cy="4" r="0.7" fill="#6d6a5a"/></pattern>
<pattern id="pinkn" x="0" y="0" width="7" height="7" patternUnits="userSpaceOnUse"><rect width="7" height="7" fill="#d48fa2"/><circle cx="1" cy="1.5" r="0.5" fill="#e0a6b5"/><circle cx="4.5" cy="3" r="0.45" fill="#c98497"/><circle cx="2.5" cy="5.5" r="0.5" fill="#dfa2b2"/><circle cx="6" cy="6" r="0.4" fill="#c78295"/></pattern>
<rect x="36.2" y="625.4" width="147.2" height="79.4" fill="#5e3e50" stroke="none" stroke-width="1"/>
<rect x="36.2" y="625.4" width="147.2" height="79.4" fill="none" stroke="#4a3040" stroke-width="0.5"/>
<path d="M36.2 654.3 H95 Q98.6 654.3 98.6 658 V678.8 Q98.6 682.5 95 682.5 H36.2 Z" fill="url(#pinkn)"/>
<rect x="124.3" y="625.4" width="32.8" height="79.4" fill="url(#pinkn)" stroke="none" stroke-width="1"/>
<rect x="157.1" y="625.4" width="26.3" height="79.4" fill="#563848" stroke="none" stroke-width="1"/>
<line x1="157.6" y1="625.4" x2="157.6" y2="704.8" stroke="#7a5a6a" stroke-width="0.6"/>
<rect x="98.2" y="655.2" width="26.1" height="19.8" fill="#a86a60" stroke="none" stroke-width="1"/>
<rect x="67.8" y="654.6" width="31" height="23" rx="2.5" fill="#55544a" stroke="#c07888" stroke-width="0.7"/>
<rect x="123.8" y="654.6" width="28" height="23" rx="2.5" fill="#55544a" stroke="#c07888" stroke-width="0.7"/>
<circle cx="78.12" cy="659.52" r="0.38" fill="#74725f"/>
<circle cx="84.35" cy="663.81" r="0.76" fill="#74725f"/>
<circle cx="74.91" cy="658.22" r="0.38" fill="#848270"/>
<circle cx="71.27" cy="664.99" r="0.41" fill="#46463c"/>
<circle cx="75.16" cy="669.05" r="0.61" fill="#74725f"/>
<circle cx="80.26" cy="676.03" r="0.6" fill="#74725f"/>
<circle cx="72.52" cy="664.88" r="0.4" fill="#46463c"/>
<circle cx="77.67" cy="672.82" r="0.4" fill="#3c3c33"/>
<circle cx="85.39" cy="660.26" r="0.6" fill="#74725f"/>
<circle cx="70.45" cy="657.69" r="0.57" fill="#3c3c33"/>
<circle cx="84.23" cy="672.04" r="0.61" fill="#848270"/>
<circle cx="81.92" cy="662.5" r="0.66" fill="#3c3c33"/>
<circle cx="75.78" cy="667.99" r="0.57" fill="#46463c"/>
<circle cx="78.7" cy="665.48" r="0.79" fill="#46463c"/>
<circle cx="72.07" cy="664.86" r="0.42" fill="#6a6858"/>
<circle cx="82.98" cy="657.28" r="0.69" fill="#74725f"/>
<circle cx="85.45" cy="674.01" r="0.5" fill="#6a6858"/>
<circle cx="78.9" cy="666.43" r="0.38" fill="#848270"/>
<circle cx="71.35" cy="661.9" r="0.38" fill="#74725f"/>
<circle cx="89.22" cy="669.44" r="0.48" fill="#848270"/>
<circle cx="79.94" cy="669.87" r="0.77" fill="#74725f"/>
<circle cx="79.05" cy="668.72" r="0.38" fill="#848270"/>
<circle cx="91.19" cy="659.09" r="0.53" fill="#3c3c33"/>
<circle cx="95.55" cy="666.43" r="0.55" fill="#3c3c33"/>
<circle cx="84.75" cy="674.17" r="0.74" fill="#848270"/>
<circle cx="76.79" cy="664.81" r="0.66" fill="#6a6858"/>
<circle cx="79.78" cy="661.12" r="0.43" fill="#74725f"/>
<circle cx="75.42" cy="661.17" r="0.72" fill="#848270"/>
<circle cx="73.96" cy="662.14" r="0.54" fill="#3c3c33"/>
<circle cx="79.46" cy="667.83" r="0.66" fill="#3c3c33"/>
<circle cx="83.76" cy="668.85" r="0.56" fill="#74725f"/>
<circle cx="94.21" cy="675.54" r="0.53" fill="#46463c"/>
<circle cx="80.33" cy="658.57" r="0.38" fill="#848270"/>
<circle cx="70.58" cy="660.68" r="0.4" fill="#3c3c33"/>
<circle cx="86.26" cy="658.55" r="0.42" fill="#46463c"/>
<circle cx="71.58" cy="663.77" r="0.38" fill="#74725f"/>
<circle cx="74.71" cy="664.02" r="0.78" fill="#6a6858"/>
<circle cx="86.31" cy="665.98" r="0.73" fill="#74725f"/>
<circle cx="97.8" cy="665.82" r="0.49" fill="#848270"/>
<circle cx="72.84" cy="671.49" r="0.57" fill="#6a6858"/>
<circle cx="88.95" cy="666.83" r="0.78" fill="#3c3c33"/>
<circle cx="84.13" cy="659.43" r="0.76" fill="#46463c"/>
<circle cx="90.89" cy="662.46" r="0.66" fill="#74725f"/>
<circle cx="76.28" cy="663.83" r="0.51" fill="#3c3c33"/>
<circle cx="75.15" cy="667.33" r="0.5" fill="#46463c"/>
<circle cx="75.16" cy="672.73" r="0.71" fill="#3c3c33"/>
<circle cx="92.66" cy="671.3" r="0.44" fill="#3c3c33"/>
<circle cx="83.09" cy="671.12" r="0.71" fill="#74725f"/>
<circle cx="82.48" cy="660.37" r="0.78" fill="#46463c"/>
<circle cx="81.75" cy="675.24" r="0.78" fill="#6a6858"/>
<circle cx="79.32" cy="660.91" r="0.56" fill="#3c3c33"/>
<circle cx="78.53" cy="666.15" r="0.73" fill="#46463c"/>
<circle cx="82.7" cy="669.56" r="0.73" fill="#74725f"/>
<circle cx="72.13" cy="664.27" r="0.57" fill="#3c3c33"/>
<circle cx="73.85" cy="672.28" r="0.39" fill="#6a6858"/>
<circle cx="96.42" cy="670.94" r="0.53" fill="#848270"/>
<circle cx="96.44" cy="671" r="0.8" fill="#3c3c33"/>
<circle cx="69.41" cy="668.32" r="0.71" fill="#848270"/>
<circle cx="72.9" cy="673.03" r="0.65" fill="#848270"/>
<circle cx="78.9" cy="667.47" r="0.36" fill="#3c3c33"/>
<circle cx="92.1" cy="671.03" r="0.59" fill="#74725f"/>
<circle cx="96.05" cy="665.18" r="0.72" fill="#3c3c33"/>
<circle cx="74.8" cy="661.54" r="0.58" fill="#6a6858"/>
<circle cx="91.05" cy="663.02" r="0.54" fill="#46463c"/>
<circle cx="72.45" cy="674.7" r="0.75" fill="#6a6858"/>
<circle cx="88.08" cy="672.8" r="0.54" fill="#46463c"/>
<circle cx="95.58" cy="666.53" r="0.42" fill="#46463c"/>
<circle cx="83.61" cy="673.96" r="0.62" fill="#3c3c33"/>
<circle cx="91.42" cy="659.5" r="0.56" fill="#3c3c33"/>
<circle cx="89.92" cy="667.63" r="0.66" fill="#6a6858"/>
<circle cx="84.2" cy="666.15" r="0.75" fill="#74725f"/>
<circle cx="70.27" cy="660.33" r="0.7" fill="#74725f"/>
<circle cx="83.53" cy="667.73" r="0.55" fill="#74725f"/>
<circle cx="86.61" cy="666.61" r="0.44" fill="#46463c"/>
<circle cx="76.75" cy="666.66" r="0.58" fill="#848270"/>
<circle cx="75.88" cy="666.96" r="0.77" fill="#6a6858"/>
<circle cx="94.85" cy="660.55" r="0.41" fill="#848270"/>
<circle cx="72.18" cy="665.34" r="0.65" fill="#74725f"/>
<circle cx="81.19" cy="660.75" r="0.7" fill="#6a6858"/>
<circle cx="94.97" cy="659.59" r="0.41" fill="#6a6858"/>
<circle cx="94.56" cy="675.85" r="0.69" fill="#3c3c33"/>
<circle cx="71.37" cy="674.2" r="0.8" fill="#3c3c33"/>
<circle cx="93.07" cy="659.73" r="0.8" fill="#848270"/>
<circle cx="80.47" cy="664.93" r="0.49" fill="#6a6858"/>
<circle cx="89.83" cy="656.89" r="0.56" fill="#46463c"/>
<circle cx="89.27" cy="664.19" r="0.63" fill="#46463c"/>
<circle cx="83.66" cy="657.79" r="0.79" fill="#3c3c33"/>
<circle cx="71.68" cy="661.81" r="0.76" fill="#74725f"/>
<circle cx="73.94" cy="671.62" r="0.73" fill="#848270"/>
<circle cx="88.47" cy="675.42" r="0.42" fill="#848270"/>
<circle cx="95.62" cy="667.91" r="0.39" fill="#6a6858"/>
<circle cx="70.29" cy="670.26" r="0.75" fill="#848270"/>
<circle cx="76.51" cy="656.84" r="0.71" fill="#74725f"/>
<circle cx="71.06" cy="673.62" r="0.47" fill="#74725f"/>
<circle cx="72.18" cy="656.73" r="0.54" fill="#46463c"/>
<circle cx="95.51" cy="668.93" r="0.59" fill="#74725f"/>
<circle cx="75.61" cy="658.69" r="0.47" fill="#3c3c33"/>
<circle cx="73.93" cy="675.14" r="0.59" fill="#6a6858"/>
<circle cx="74.65" cy="665.41" r="0.47" fill="#3c3c33"/>
<circle cx="92.23" cy="676.39" r="0.36" fill="#74725f"/>
<circle cx="90.15" cy="667.52" r="0.58" fill="#3c3c33"/>
<circle cx="75.82" cy="665.44" r="0.65" fill="#848270"/>
<circle cx="84.65" cy="674.27" r="0.49" fill="#46463c"/>
<circle cx="74.93" cy="661.09" r="0.72" fill="#3c3c33"/>
<circle cx="89.38" cy="669.22" r="0.8" fill="#848270"/>
<circle cx="97.47" cy="673.24" r="0.38" fill="#74725f"/>
<circle cx="90.38" cy="661.61" r="0.37" fill="#3c3c33"/>
<circle cx="88.16" cy="664.12" r="0.65" fill="#46463c"/>
<circle cx="76.89" cy="661.34" r="0.37" fill="#6a6858"/>
<circle cx="74.05" cy="661.88" r="0.47" fill="#74725f"/>
<circle cx="149.8" cy="675.95" r="0.5" fill="#46463c"/>
<circle cx="125.5" cy="674.15" r="0.51" fill="#3c3c33"/>
<circle cx="124.63" cy="664.13" r="0.48" fill="#848270"/>
<circle cx="141.79" cy="661.46" r="0.39" fill="#74725f"/>
<circle cx="146.01" cy="659.38" r="0.37" fill="#46463c"/>
<circle cx="125.19" cy="662.58" r="0.39" fill="#3c3c33"/>
<circle cx="149.69" cy="673.56" r="0.65" fill="#3c3c33"/>
<circle cx="143.36" cy="674.08" r="0.69" fill="#848270"/>
<circle cx="143.48" cy="666.38" r="0.68" fill="#6a6858"/>
<circle cx="141.45" cy="657.38" r="0.63" fill="#46463c"/>
<circle cx="143.83" cy="672.74" r="0.76" fill="#3c3c33"/>
<circle cx="144.33" cy="667.87" r="0.72" fill="#74725f"/>
<circle cx="139.9" cy="674.36" r="0.39" fill="#3c3c33"/>
<circle cx="125.7" cy="669.24" r="0.52" fill="#74725f"/>
<circle cx="136.43" cy="657.52" r="0.63" fill="#74725f"/>
<circle cx="142.43" cy="666.29" r="0.56" fill="#74725f"/>
<circle cx="126.44" cy="675.15" r="0.39" fill="#46463c"/>
<circle cx="138.38" cy="671.41" r="0.46" fill="#848270"/>
<circle cx="126.55" cy="661.81" r="0.45" fill="#3c3c33"/>
<circle cx="141.63" cy="665.71" r="0.38" fill="#848270"/>
<circle cx="148.45" cy="662.25" r="0.63" fill="#74725f"/>
<circle cx="141.44" cy="658.05" r="0.5" fill="#3c3c33"/>
<circle cx="141.67" cy="670.36" r="0.61" fill="#46463c"/>
<circle cx="124.93" cy="657.71" r="0.79" fill="#6a6858"/>
<circle cx="127.21" cy="660.85" r="0.48" fill="#848270"/>
<circle cx="138.13" cy="665.79" r="0.7" fill="#848270"/>
<circle cx="150.62" cy="667.48" r="0.79" fill="#6a6858"/>
<circle cx="149.13" cy="656.85" r="0.38" fill="#848270"/>
<circle cx="137.87" cy="676.39" r="0.52" fill="#6a6858"/>
<circle cx="148.61" cy="675.11" r="0.61" fill="#74725f"/>
<circle cx="128.31" cy="666.98" r="0.41" fill="#6a6858"/>
<circle cx="146.09" cy="666.67" r="0.67" fill="#74725f"/>
<circle cx="130.66" cy="674.45" r="0.53" fill="#848270"/>
<circle cx="128.77" cy="675.5" r="0.53" fill="#848270"/>
<circle cx="143.65" cy="664.82" r="0.49" fill="#848270"/>
<circle cx="146.61" cy="656.53" r="0.73" fill="#6a6858"/>
<circle cx="127.75" cy="675.03" r="0.76" fill="#74725f"/>
<circle cx="132.19" cy="663.94" r="0.53" fill="#848270"/>
<circle cx="147.39" cy="658.03" r="0.69" fill="#848270"/>
<circle cx="146.98" cy="662.11" r="0.73" fill="#74725f"/>
<circle cx="132.08" cy="675.21" r="0.79" fill="#3c3c33"/>
<circle cx="136.03" cy="662.81" r="0.7" fill="#6a6858"/>
<circle cx="135.81" cy="657.08" r="0.76" fill="#848270"/>
<circle cx="149.25" cy="667.48" r="0.37" fill="#74725f"/>
<circle cx="143.79" cy="665.52" r="0.64" fill="#3c3c33"/>
<circle cx="132.1" cy="657.48" r="0.41" fill="#46463c"/>
<circle cx="136.97" cy="663.37" r="0.47" fill="#6a6858"/>
<circle cx="143.96" cy="669.56" r="0.65" fill="#848270"/>
<circle cx="132.48" cy="667.65" r="0.4" fill="#848270"/>
<circle cx="141.45" cy="658" r="0.76" fill="#46463c"/>
<circle cx="137.62" cy="660.9" r="0.8" fill="#6a6858"/>
<circle cx="136.39" cy="659.29" r="0.46" fill="#3c3c33"/>
<circle cx="129.18" cy="667.62" r="0.46" fill="#6a6858"/>
<circle cx="131.37" cy="667.89" r="0.69" fill="#74725f"/>
<circle cx="135.41" cy="664.78" r="0.44" fill="#46463c"/>
<circle cx="131.68" cy="671.54" r="0.47" fill="#848270"/>
<circle cx="149.95" cy="659.02" r="0.59" fill="#46463c"/>
<circle cx="145.31" cy="673.47" r="0.47" fill="#74725f"/>
<circle cx="131.11" cy="664.5" r="0.54" fill="#848270"/>
<circle cx="132.77" cy="672.79" r="0.41" fill="#74725f"/>
<circle cx="135.74" cy="671.77" r="0.79" fill="#848270"/>
<circle cx="137.43" cy="657.96" r="0.73" fill="#46463c"/>
<circle cx="150.07" cy="661.47" r="0.45" fill="#74725f"/>
<circle cx="128.58" cy="675.94" r="0.77" fill="#74725f"/>
<circle cx="143.51" cy="669.45" r="0.39" fill="#848270"/>
<circle cx="144.95" cy="656.53" r="0.45" fill="#3c3c33"/>
<circle cx="148.7" cy="669.41" r="0.78" fill="#6a6858"/>
<circle cx="141.01" cy="667.07" r="0.66" fill="#848270"/>
<circle cx="127.54" cy="657.91" r="0.77" fill="#46463c"/>
<circle cx="129.62" cy="661.72" r="0.35" fill="#46463c"/>
<circle cx="138.68" cy="676.43" r="0.78" fill="#6a6858"/>
<circle cx="141.49" cy="674.18" r="0.59" fill="#848270"/>
<circle cx="138.93" cy="657.09" r="0.67" fill="#848270"/>
<circle cx="132.65" cy="656.94" r="0.75" fill="#848270"/>
<circle cx="141.56" cy="658.12" r="0.65" fill="#3c3c33"/>
<circle cx="148.84" cy="661.04" r="0.66" fill="#74725f"/>
<circle cx="143.42" cy="663.75" r="0.44" fill="#848270"/>
<circle cx="145.48" cy="671.28" r="0.38" fill="#46463c"/>
<circle cx="137.59" cy="660.51" r="0.45" fill="#3c3c33"/>
<circle cx="130.4" cy="671.71" r="0.4" fill="#6a6858"/>
<circle cx="140.94" cy="668.7" r="0.57" fill="#3c3c33"/>
<circle cx="148.45" cy="657.63" r="0.42" fill="#46463c"/>
<circle cx="134.91" cy="660.76" r="0.41" fill="#46463c"/>
<circle cx="125.96" cy="657.7" r="0.55" fill="#848270"/>
<circle cx="143.26" cy="662.78" r="0.8" fill="#74725f"/>
<circle cx="149.01" cy="663.08" r="0.64" fill="#3c3c33"/>
<circle cx="138.35" cy="665.85" r="0.65" fill="#6a6858"/>
<circle cx="134.52" cy="663.98" r="0.55" fill="#6a6858"/>
<circle cx="127.45" cy="658.06" r="0.51" fill="#74725f"/>
<circle cx="149.63" cy="658.97" r="0.52" fill="#3c3c33"/>
<circle cx="144.74" cy="662.67" r="0.39" fill="#848270"/>
<circle cx="143.08" cy="660.41" r="0.76" fill="#46463c"/>
<circle cx="129.66" cy="663.78" r="0.36" fill="#848270"/>
<circle cx="135.36" cy="672.74" r="0.37" fill="#848270"/>
<circle cx="125.51" cy="657.75" r="0.47" fill="#74725f"/>
<circle cx="144.18" cy="674.47" r="0.51" fill="#6a6858"/>
<circle cx="133.38" cy="675.58" r="0.47" fill="#74725f"/>
<circle cx="143.38" cy="662.83" r="0.48" fill="#6a6858"/>
<circle cx="143.51" cy="668.41" r="0.36" fill="#74725f"/>
<circle cx="130.73" cy="666" r="0.78" fill="#848270"/>
<circle cx="134.73" cy="661.52" r="0.72" fill="#848270"/>
<circle cx="128.08" cy="666.43" r="0.71" fill="#74725f"/>
<circle cx="143.95" cy="672.96" r="0.62" fill="#3c3c33"/>
<circle cx="133.19" cy="662.89" r="0.7" fill="#6a6858"/>
<circle cx="140.21" cy="666.74" r="0.69" fill="#848270"/>
<circle cx="131.08" cy="657.79" r="0.57" fill="#74725f"/>
<circle cx="138.87" cy="659.71" r="0.75" fill="#848270"/>
<circle cx="150.48" cy="661.8" r="0.44" fill="#74725f"/>
<circle cx="135.63" cy="676.27" r="0.43" fill="#848270"/>
<circle cx="128.08" cy="665.72" r="0.69" fill="#3c3c33"/>
<line x1="69" y1="655.3" x2="98" y2="655.3" stroke="#6fa684" stroke-width="1.5"/>
<line x1="124.8" y1="655.3" x2="150.8" y2="655.3" stroke="#6fa684" stroke-width="1.5"/>
<rect x="159" y="699.8" width="23" height="3" fill="#fff" stroke="none" stroke-width="1"/>
<text x="209" y="527.8" font-size="12" font-weight="bold" fill="#000">i</text>
<clipPath id="clipI1"><rect x="247" y="523.2" width="193.4" height="81.2"/></clipPath>
<g clip-path="url(#clipI1)">
<path d="M247 603.5 247.8 603.5 248.6 603.5 249.4 603.5 250.2 603.5 251 603.5 251.8 603.5 252.6 603.5 253.4 603.5 254.3 603.5 255.1 603.5 255.9 603.5 256.7 603.5 257.5 603.5 258.3 603.5 259.1 603.5 259.9 603.5 260.7 603.5 261.5 603.5 262.3 603.5 263.1 603.5 263.9 603.5 264.7 603.5 265.5 603.5 266.3 603.5 267.1 603.5 267.9 603.5 268.8 603.5 269.6 603.5 270.4 603.5 271.2 603.5 272 603.5 272.8 603.5 273.6 603.5 274.4 603.5 275.2 603.5 276 603.5 276.8 603.5 277.6 603.5 278.4 603.5 279.2 603.5 280 603.5 280.8 603.5 281.6 603.5 282.4 603.5 283.3 603.5 284.1 603.5 284.9 603.5 285.7 603.5 286.5 603.5 287.3 603.5 288.1 603.5 288.9 603.5 289.7 603.5 290.5 603.5 291.3 603.5 292.1 603.5 292.9 603.5 293.7 603.5 294.5 603.5 295.3 603.5 296.1 603.5 297 603.5 297.8 603.5 298.6 603.5 299.4 603.5 300.2 603.5 301 603.5 301.8 603.5 302.6 603.5 303.4 603.5 304.2 603.5 305 603.5 305.8 603.5 306.6 603.5 307.4 603.5 308.2 603.5 309 603.5 309.8 603.5 310.6 603.5 311.5 603.5 312.3 603.5 313.1 603.5 313.9 603.5 314.7 603.5 315.5 603.5 316.3 603.5 317.1 603.5 317.9 603.5 318.7 603.5 319.5 603.5 320.3 603.5 321.1 603.5 321.9 603.5 322.7 603.5 323.5 603.5 324.3 603.5 325.1 603.5 326 603.5 326.8 603.5 327.6 603.5 328.4 603.4 329.2 603.4 330 603.4 330.8 603.4 331.6 603.4 332.4 603.4 333.2 603.4 334 603.3 334.8 603.3 335.6 603.3 336.4 603.3 337.2 603.3 338 603.2 338.8 603.2 339.7 603.2 340.5 603.1 341.3 603.1 342.1 603.1 342.9 603 343.7 603 344.5 603 345.3 602.9 346.1 602.9 346.9 602.9 347.7 602.8 348.5 602.8 349.3 602.7 350.1 602.7 350.9 602.6 351.7 602.5 352.5 602.5 353.3 602.4 354.2 602.4 355 602.3 355.8 602.2 356.6 602.2 357.4 602.1 358.2 602 359 602 359.8 601.9 360.6 601.8 361.4 601.7 362.2 601.6 363 601.6 363.8 601.5 364.6 601.4 365.4 601.3 366.2 601.2 367 601.1 367.8 601 368.7 600.9 369.5 600.8 370.3 600.6 371.1 600.5 371.9 600.4 372.7 600.3 373.5 600.1 374.3 600 375.1 599.8 375.9 599.7 376.7 599.5 377.5 599.4 378.3 599.2 379.1 599 379.9 598.8 380.7 598.6 381.5 598.4 382.4 598.2 383.2 598 384 597.8 384.8 597.6 385.6 597.4 386.4 597.1 387.2 596.9 388 596.7 388.8 596.4 389.6 596.2 390.4 595.9 391.2 595.7 392 595.4 392.8 595.1 393.6 594.9 394.4 594.6 395.2 594.3 396 594.1 396.9 593.8 397.7 593.5 398.5 593.2 399.3 593 400.1 592.7 400.9 592.4 401.7 592.1 402.5 591.8 403.3 591.5 404.1 591.3 404.9 591 405.7 590.7 406.5 590.4 407.3 590 408.1 589.7 408.9 589.4 409.7 589 410.5 588.7 411.4 588.3 412.2 588 413 587.6 413.8 587.2 414.6 586.8 415.4 586.4 416.2 585.9 417 585.5 417.8 585 418.6 584.6 419.4 584.1 420.2 583.6 421 583.1 421.8 582.5 422.6 582 423.4 581.4 424.2 580.9 425.1 580.3 425.9 579.7 426.7 579.1 427.5 578.5 428.3 577.9 429.1 577.2 429.9 576.6 430.7 575.9 431.5 575.2 432.3 574.5 433.1 573.8 433.9 573.1 434.7 572.3 435.5 571.6 436.3 570.8 437.1 570.1 437.9 569.3 438.7 568.5 439.6 567.8 440.4 567" stroke="#c4b4e6" stroke-width="1.1" fill="none" stroke-linejoin="round"/>
<path d="M247 603.5 247.8 603.5 248.6 603.5 249.4 603.5 250.2 603.5 251 603.5 251.8 603.5 252.6 603.5 253.4 603.5 254.3 603.5 255.1 603.5 255.9 603.5 256.7 603.5 257.5 603.5 258.3 603.5 259.1 603.5 259.9 603.5 260.7 603.5 261.5 603.5 262.3 603.5 263.1 603.5 263.9 603.5 264.7 603.5 265.5 603.5 266.3 603.5 267.1 603.5 267.9 603.5 268.8 603.5 269.6 603.5 270.4 603.5 271.2 603.5 272 603.5 272.8 603.5 273.6 603.5 274.4 603.5 275.2 603.5 276 603.5 276.8 603.5 277.6 603.5 278.4 603.5 279.2 603.5 280 603.5 280.8 603.5 281.6 603.5 282.4 603.5 283.3 603.5 284.1 603.5 284.9 603.5 285.7 603.5 286.5 603.5 287.3 603.5 288.1 603.5 288.9 603.5 289.7 603.5 290.5 603.5 291.3 603.5 292.1 603.5 292.9 603.5 293.7 603.5 294.5 603.5 295.3 603.5 296.1 603.5 297 603.5 297.8 603.5 298.6 603.5 299.4 603.5 300.2 603.5 301 603.5 301.8 603.5 302.6 603.5 303.4 603.5 304.2 603.5 305 603.5 305.8 603.5 306.6 603.5 307.4 603.5 308.2 603.5 309 603.5 309.8 603.5 310.6 603.5 311.5 603.5 312.3 603.5 313.1 603.5 313.9 603.5 314.7 603.5 315.5 603.5 316.3 603.5 317.1 603.5 317.9 603.5 318.7 603.5 319.5 603.5 320.3 603.5 321.1 603.5 321.9 603.5 322.7 603.5 323.5 603.5 324.3 603.5 325.1 603.4 326 603.4 326.8 603.4 327.6 603.4 328.4 603.4 329.2 603.4 330 603.3 330.8 603.3 331.6 603.3 332.4 603.3 333.2 603.2 334 603.2 334.8 603.1 335.6 603.1 336.4 603.1 337.2 603 338 603 338.8 602.9 339.7 602.9 340.5 602.8 341.3 602.8 342.1 602.7 342.9 602.7 343.7 602.6 344.5 602.6 345.3 602.5 346.1 602.4 346.9 602.4 347.7 602.3 348.5 602.2 349.3 602.1 350.1 602.1 350.9 602 351.7 601.9 352.5 601.8 353.3 601.7 354.2 601.6 355 601.5 355.8 601.4 356.6 601.3 357.4 601.1 358.2 601 359 600.9 359.8 600.7 360.6 600.6 361.4 600.5 362.2 600.3 363 600.1 363.8 600 364.6 599.8 365.4 599.6 366.2 599.4 367 599.3 367.8 599.1 368.7 598.9 369.5 598.6 370.3 598.4 371.1 598.2 371.9 598 372.7 597.7 373.5 597.5 374.3 597.2 375.1 597 375.9 596.7 376.7 596.4 377.5 596.2 378.3 595.9 379.1 595.6 379.9 595.3 380.7 595 381.5 594.6 382.4 594.3 383.2 594 384 593.6 384.8 593.3 385.6 592.9 386.4 592.6 387.2 592.2 388 591.8 388.8 591.5 389.6 591.1 390.4 590.7 391.2 590.3 392 589.9 392.8 589.5 393.6 589.1 394.4 588.7 395.2 588.2 396 587.8 396.9 587.4 397.7 587 398.5 586.5 399.3 586.1 400.1 585.7 400.9 585.2 401.7 584.8 402.5 584.3 403.3 583.9 404.1 583.4 404.9 582.9 405.7 582.4 406.5 582 407.3 581.4 408.1 580.9 408.9 580.4 409.7 579.8 410.5 579.3 411.4 578.7 412.2 578.1 413 577.5 413.8 576.8 414.6 576.2 415.4 575.5 416.2 574.8 417 574.1 417.8 573.4 418.6 572.7 419.4 572 420.2 571.2 421 570.5 421.8 569.7 422.6 568.9 423.4 568.1 424.2 567.4 425.1 566.6 425.9 565.7 426.7 564.9 427.5 564.1 428.3 563.2 429.1 562.4 429.9 561.5 430.7 560.6 431.5 559.7 432.3 558.8 433.1 557.9 433.9 557 434.7 556.1 435.5 555.1 436.3 554.2 437.1 553.2 437.9 552.2 438.7 551.2 439.6 550.2 440.4 549.3" stroke="#b09bdc" stroke-width="1.1" fill="none" stroke-linejoin="round"/>
<path d="M247 603.5 247.8 603.5 248.6 603.5 249.4 603.5 250.2 603.5 251 603.5 251.8 603.5 252.6 603.5 253.4 603.5 254.3 603.5 255.1 603.5 255.9 603.5 256.7 603.5 257.5 603.5 258.3 603.5 259.1 603.5 259.9 603.5 260.7 603.5 261.5 603.5 262.3 603.5 263.1 603.5 263.9 603.5 264.7 603.5 265.5 603.5 266.3 603.5 267.1 603.5 267.9 603.5 268.8 603.5 269.6 603.5 270.4 603.5 271.2 603.5 272 603.5 272.8 603.5 273.6 603.5 274.4 603.5 275.2 603.5 276 603.5 276.8 603.5 277.6 603.5 278.4 603.5 279.2 603.5 280 603.5 280.8 603.5 281.6 603.5 282.4 603.5 283.3 603.5 284.1 603.5 284.9 603.5 285.7 603.5 286.5 603.5 287.3 603.5 288.1 603.5 288.9 603.5 289.7 603.5 290.5 603.5 291.3 603.5 292.1 603.5 292.9 603.5 293.7 603.5 294.5 603.5 295.3 603.5 296.1 603.5 297 603.5 297.8 603.5 298.6 603.5 299.4 603.5 300.2 603.5 301 603.5 301.8 603.5 302.6 603.5 303.4 603.5 304.2 603.5 305 603.5 305.8 603.5 306.6 603.5 307.4 603.5 308.2 603.5 309 603.5 309.8 603.5 310.6 603.5 311.5 603.5 312.3 603.5 313.1 603.5 313.9 603.5 314.7 603.5 315.5 603.5 316.3 603.5 317.1 603.5 317.9 603.5 318.7 603.5 319.5 603.4 320.3 603.4 321.1 603.4 321.9 603.4 322.7 603.4 323.5 603.4 324.3 603.4 325.1 603.4 326 603.4 326.8 603.4 327.6 603.3 328.4 603.3 329.2 603.3 330 603.3 330.8 603.2 331.6 603.2 332.4 603.2 333.2 603.1 334 603.1 334.8 603.1 335.6 603 336.4 603 337.2 602.9 338 602.9 338.8 602.8 339.7 602.8 340.5 602.7 341.3 602.7 342.1 602.6 342.9 602.5 343.7 602.5 344.5 602.4 345.3 602.3 346.1 602.3 346.9 602.2 347.7 602.1 348.5 602 349.3 601.9 350.1 601.8 350.9 601.7 351.7 601.6 352.5 601.5 353.3 601.4 354.2 601.3 355 601.2 355.8 601.1 356.6 600.9 357.4 600.8 358.2 600.7 359 600.5 359.8 600.4 360.6 600.2 361.4 600 362.2 599.9 363 599.7 363.8 599.5 364.6 599.3 365.4 599.1 366.2 598.9 367 598.6 367.8 598.4 368.7 598.2 369.5 597.9 370.3 597.6 371.1 597.4 371.9 597.1 372.7 596.8 373.5 596.5 374.3 596.2 375.1 595.9 375.9 595.5 376.7 595.2 377.5 594.9 378.3 594.5 379.1 594.2 379.9 593.8 380.7 593.4 381.5 593 382.4 592.6 383.2 592.3 384 591.9 384.8 591.4 385.6 591 386.4 590.6 387.2 590.2 388 589.8 388.8 589.4 389.6 588.9 390.4 588.5 391.2 588.1 392 587.6 392.8 587.2 393.6 586.7 394.4 586.3 395.2 585.9 396 585.4 396.9 585 397.7 584.5 398.5 584.1 399.3 583.6 400.1 583.2 400.9 582.7 401.7 582.3 402.5 581.8 403.3 581.4 404.1 580.9 404.9 580.4 405.7 580 406.5 579.5 407.3 579 408.1 578.4 408.9 577.9 409.7 577.3 410.5 576.7 411.4 576.1 412.2 575.5 413 574.9 413.8 574.2 414.6 573.5 415.4 572.8 416.2 572.1 417 571.3 417.8 570.6 418.6 569.8 419.4 569 420.2 568.2 421 567.4 421.8 566.6 422.6 565.8 423.4 565 424.2 564.1 425.1 563.3 425.9 562.4 426.7 561.5 427.5 560.6 428.3 559.7 429.1 558.7 429.9 557.8 430.7 556.8 431.5 555.7 432.3 554.7 433.1 553.6 433.9 552.5 434.7 551.4 435.5 550.3 436.3 549.1 437.1 547.9 437.9 546.7 438.7 545.5 439.6 544.3 440.4 543.1" stroke="#9a80d0" stroke-width="1.1" fill="none" stroke-linejoin="round"/>
<path d="M247 603.5 247.8 603.5 248.6 603.5 249.4 603.5 250.2 603.5 251 603.5 251.8 603.5 252.6 603.5 253.4 603.5 254.3 603.5 255.1 603.5 255.9 603.5 256.7 603.5 257.5 603.5 258.3 603.5 259.1 603.5 259.9 603.5 260.7 603.5 261.5 603.5 262.3 603.5 263.1 603.5 263.9 603.5 264.7 603.5 265.5 603.5 266.3 603.5 267.1 603.5 267.9 603.5 268.8 603.5 269.6 603.5 270.4 603.5 271.2 603.5 272 603.5 272.8 603.5 273.6 603.5 274.4 603.5 275.2 603.5 276 603.5 276.8 603.5 277.6 603.5 278.4 603.5 279.2 603.5 280 603.5 280.8 603.5 281.6 603.5 282.4 603.5 283.3 603.5 284.1 603.5 284.9 603.5 285.7 603.5 286.5 603.5 287.3 603.5 288.1 603.5 288.9 603.5 289.7 603.5 290.5 603.5 291.3 603.5 292.1 603.5 292.9 603.5 293.7 603.5 294.5 603.5 295.3 603.5 296.1 603.5 297 603.5 297.8 603.5 298.6 603.5 299.4 603.5 300.2 603.5 301 603.5 301.8 603.5 302.6 603.5 303.4 603.5 304.2 603.5 305 603.4 305.8 603.4 306.6 603.4 307.4 603.4 308.2 603.4 309 603.4 309.8 603.4 310.6 603.4 311.5 603.4 312.3 603.4 313.1 603.4 313.9 603.4 314.7 603.4 315.5 603.4 316.3 603.4 317.1 603.4 317.9 603.4 318.7 603.4 319.5 603.4 320.3 603.4 321.1 603.4 321.9 603.4 322.7 603.4 323.5 603.4 324.3 603.3 325.1 603.3 326 603.3 326.8 603.3 327.6 603.3 328.4 603.2 329.2 603.2 330 603.2 330.8 603.1 331.6 603.1 332.4 603.1 333.2 603 334 603 334.8 602.9 335.6 602.9 336.4 602.8 337.2 602.8 338 602.7 338.8 602.6 339.7 602.6 340.5 602.5 341.3 602.4 342.1 602.4 342.9 602.3 343.7 602.2 344.5 602.1 345.3 602 346.1 602 346.9 601.9 347.7 601.8 348.5 601.6 349.3 601.5 350.1 601.4 350.9 601.3 351.7 601.1 352.5 601 353.3 600.8 354.2 600.7 355 600.5 355.8 600.3 356.6 600.2 357.4 600 358.2 599.8 359 599.5 359.8 599.3 360.6 599.1 361.4 598.9 362.2 598.6 363 598.4 363.8 598.1 364.6 597.8 365.4 597.5 366.2 597.2 367 596.9 367.8 596.6 368.7 596.3 369.5 596 370.3 595.6 371.1 595.3 371.9 594.9 372.7 594.6 373.5 594.2 374.3 593.8 375.1 593.4 375.9 593 376.7 592.5 377.5 592.1 378.3 591.7 379.1 591.2 379.9 590.7 380.7 590.3 381.5 589.8 382.4 589.3 383.2 588.8 384 588.3 384.8 587.8 385.6 587.2 386.4 586.7 387.2 586.2 388 585.6 388.8 585.1 389.6 584.5 390.4 584 391.2 583.4 392 582.9 392.8 582.3 393.6 581.7 394.4 581.1 395.2 580.6 396 580 396.9 579.4 397.7 578.8 398.5 578.2 399.3 577.7 400.1 577.1 400.9 576.5 401.7 575.9 402.5 575.3 403.3 574.7 404.1 574.1 404.9 573.5 405.7 572.9 406.5 572.2 407.3 571.6 408.1 571 408.9 570.3 409.7 569.6 410.5 568.9 411.4 568.2 412.2 567.5 413 566.8 413.8 566 414.6 565.3 415.4 564.5 416.2 563.7 417 562.9 417.8 562.1 418.6 561.2 419.4 560.4 420.2 559.6 421 558.7 421.8 557.8 422.6 557 423.4 556.1 424.2 555.2 425.1 554.3 425.9 553.4 426.7 552.5 427.5 551.6 428.3 550.7 429.1 549.8 429.9 548.8 430.7 547.9 431.5 546.9 432.3 546 433.1 545 433.9 544.1 434.7 543.1 435.5 542.1 436.3 541.1 437.1 540.1 437.9 539.1 438.7 538.1 439.6 537.1 440.4 536.1" stroke="#7358b0" stroke-width="1.1" fill="none" stroke-linejoin="round"/>
<path d="M247 603.5 247.8 603.5 248.6 603.5 249.4 603.5 250.2 603.5 251 603.5 251.8 603.5 252.6 603.5 253.4 603.5 254.3 603.5 255.1 603.5 255.9 603.5 256.7 603.5 257.5 603.5 258.3 603.5 259.1 603.5 259.9 603.5 260.7 603.5 261.5 603.5 262.3 603.5 263.1 603.5 263.9 603.5 264.7 603.5 265.5 603.5 266.3 603.5 267.1 603.5 267.9 603.5 268.8 603.5 269.6 603.5 270.4 603.5 271.2 603.5 272 603.5 272.8 603.5 273.6 603.5 274.4 603.5 275.2 603.5 276 603.5 276.8 603.5 277.6 603.5 278.4 603.5 279.2 603.5 280 603.5 280.8 603.5 281.6 603.5 282.4 603.5 283.3 603.5 284.1 603.5 284.9 603.5 285.7 603.4 286.5 603.4 287.3 603.4 288.1 603.4 288.9 603.4 289.7 603.4 290.5 603.4 291.3 603.4 292.1 603.4 292.9 603.4 293.7 603.4 294.5 603.4 295.3 603.4 296.1 603.4 297 603.4 297.8 603.4 298.6 603.4 299.4 603.4 300.2 603.4 301 603.4 301.8 603.4 302.6 603.4 303.4 603.4 304.2 603.4 305 603.4 305.8 603.4 306.6 603.4 307.4 603.4 308.2 603.4 309 603.4 309.8 603.3 310.6 603.3 311.5 603.3 312.3 603.3 313.1 603.3 313.9 603.3 314.7 603.3 315.5 603.3 316.3 603.3 317.1 603.3 317.9 603.3 318.7 603.3 319.5 603.3 320.3 603.3 321.1 603.2 321.9 603.2 322.7 603.2 323.5 603.2 324.3 603.2 325.1 603.1 326 603.1 326.8 603.1 327.6 603 328.4 603 329.2 602.9 330 602.9 330.8 602.8 331.6 602.8 332.4 602.7 333.2 602.6 334 602.5 334.8 602.4 335.6 602.4 336.4 602.3 337.2 602.2 338 602.1 338.8 602 339.7 601.8 340.5 601.7 341.3 601.6 342.1 601.5 342.9 601.3 343.7 601.2 344.5 601.1 345.3 600.9 346.1 600.7 346.9 600.6 347.7 600.4 348.5 600.2 349.3 600 350.1 599.8 350.9 599.6 351.7 599.3 352.5 599.1 353.3 598.8 354.2 598.6 355 598.3 355.8 598 356.6 597.7 357.4 597.4 358.2 597 359 596.7 359.8 596.3 360.6 596 361.4 595.6 362.2 595.2 363 594.8 363.8 594.3 364.6 593.9 365.4 593.4 366.2 593 367 592.5 367.8 592 368.7 591.5 369.5 591 370.3 590.4 371.1 589.9 371.9 589.4 372.7 588.8 373.5 588.3 374.3 587.7 375.1 587.1 375.9 586.6 376.7 586 377.5 585.4 378.3 584.8 379.1 584.2 379.9 583.6 380.7 583 381.5 582.4 382.4 581.7 383.2 581.1 384 580.4 384.8 579.8 385.6 579.1 386.4 578.5 387.2 577.8 388 577.1 388.8 576.4 389.6 575.7 390.4 575 391.2 574.3 392 573.5 392.8 572.8 393.6 572.1 394.4 571.3 395.2 570.6 396 569.9 396.9 569.1 397.7 568.4 398.5 567.7 399.3 566.9 400.1 566.2 400.9 565.5 401.7 564.7 402.5 564 403.3 563.3 404.1 562.5 404.9 561.8 405.7 561.1 406.5 560.3 407.3 559.6 408.1 558.9 408.9 558.1 409.7 557.4 410.5 556.6 411.4 555.9 412.2 555.2 413 554.4 413.8 553.7 414.6 552.9 415.4 552.2 416.2 551.5 417 550.8 417.8 550 418.6 549.3 419.4 548.6 420.2 547.9 421 547.2 421.8 546.6 422.6 545.9 423.4 545.2 424.2 544.6 425.1 543.9 425.9 543.3 426.7 542.7 427.5 542.1 428.3 541.5 429.1 540.9 429.9 540.4 430.7 539.8 431.5 539.3 432.3 538.8 433.1 538.3 433.9 537.9 434.7 537.5 435.5 537.1 436.3 536.7 437.1 536.4 437.9 536 438.7 535.7 439.6 535.5 440.4 535.2" stroke="#553d8a" stroke-width="1.1" fill="none" stroke-linejoin="round"/>
</g>
<line x1="411.66" y1="523.2" x2="411.66" y2="604.2" stroke="#222" stroke-width="1.0" stroke-dasharray="3 2"/>
<rect x="247" y="523.2" width="193.4" height="81" fill="none" stroke="#808080" stroke-width="0.9"/>
<line x1="247" y1="604.2" x2="247" y2="601.7" stroke="#808080" stroke-width="0.9"/>
<line x1="298.7" y1="604.2" x2="298.7" y2="601.7" stroke="#808080" stroke-width="0.9"/>
<line x1="350.4" y1="604.2" x2="350.4" y2="601.7" stroke="#808080" stroke-width="0.9"/>
<line x1="402.1" y1="604.2" x2="402.1" y2="601.7" stroke="#808080" stroke-width="0.9"/>
<line x1="244.5" y1="603.5" x2="247" y2="603.5" stroke="#808080" stroke-width="0.9"/>
<text x="245.2" y="606.7" font-size="9" text-anchor="end" fill="#231f20">0</text>
<line x1="244.5" y1="578.2" x2="247" y2="578.2" stroke="#808080" stroke-width="0.9"/>
<text x="245.2" y="581.4" font-size="9" text-anchor="end" fill="#231f20">50</text>
<line x1="244.5" y1="552.9" x2="247" y2="552.9" stroke="#808080" stroke-width="0.9"/>
<text x="245.2" y="556.1" font-size="9" text-anchor="end" fill="#231f20">100</text>
<line x1="244.5" y1="527.6" x2="247" y2="527.6" stroke="#808080" stroke-width="0.9"/>
<text x="245.2" y="530.8" font-size="9" text-anchor="end" fill="#231f20">150</text>
<text x="248.4" y="612.4" font-size="9" text-anchor="middle" fill="#231f20">0.0</text>
<text x="300.1" y="612.4" font-size="9" text-anchor="middle" fill="#231f20">0.2</text>
<text x="351.8" y="612.4" font-size="9" text-anchor="middle" fill="#231f20">0.4</text>
<text x="403.5" y="612.4" font-size="9" text-anchor="middle" fill="#231f20">0.6</text>
<text x="315.2" y="616.4" font-size="9" fill="#231f20"><tspan font-style="italic">V</tspan><tspan font-size="6.5" dy="1.2">g</tspan><tspan dy="-1.2"> (V)</tspan></text>
<text transform="translate(227 563.6) rotate(-90)" font-size="9" text-anchor="middle" fill="#231f20"><tspan font-style="italic">I</tspan> (nA)</text>
<line x1="254.4" y1="528.7" x2="266" y2="528.7" stroke="#c9bbe8" stroke-width="1.3"/>
<text x="268" y="531.9" font-size="8.2" fill="#231f20">0 mM</text>
<line x1="254.4" y1="538.6" x2="266" y2="538.6" stroke="#b8a6de" stroke-width="1.3"/>
<text x="268" y="541.8" font-size="8.2" fill="#231f20">10 mM</text>
<line x1="254.4" y1="548.4" x2="266" y2="548.4" stroke="#a48ed6" stroke-width="1.3"/>
<text x="268" y="551.6" font-size="8.2" fill="#231f20">50 mM</text>
<line x1="254.4" y1="558.1" x2="266" y2="558.1" stroke="#7a62b4" stroke-width="1.3"/>
<text x="268" y="561.3" font-size="8.2" fill="#231f20">100 mM</text>
<line x1="254.4" y1="567.8" x2="266" y2="567.8" stroke="#5b4390" stroke-width="1.3"/>
<text x="268" y="571" font-size="8.2" fill="#231f20">150 mM</text>
<clipPath id="clipI2"><rect x="247" y="619.6" width="193.4" height="80.9"/></clipPath>
<g clip-path="url(#clipI2)">
<path d="M247 698.8 247.8 698.8 248.6 698.8 249.4 698.8 250.2 698.8 251 698.8 251.8 698.8 252.6 698.8 253.4 698.8 254.3 698.8 255.1 698.8 255.9 698.8 256.7 698.8 257.5 698.8 258.3 698.8 259.1 698.8 259.9 698.8 260.7 698.8 261.5 698.8 262.3 698.8 263.1 698.8 263.9 698.8 264.7 698.8 265.5 698.8 266.3 698.8 267.1 698.8 267.9 698.8 268.8 698.8 269.6 698.8 270.4 698.8 271.2 698.8 272 698.8 272.8 698.8 273.6 698.8 274.4 698.8 275.2 698.8 276 698.8 276.8 698.8 277.6 698.8 278.4 698.8 279.2 698.8 280 698.8 280.8 698.8 281.6 698.8 282.4 698.8 283.3 698.8 284.1 698.8 284.9 698.8 285.7 698.8 286.5 698.8 287.3 698.8 288.1 698.8 288.9 698.8 289.7 698.8 290.5 698.8 291.3 698.8 292.1 698.8 292.9 698.8 293.7 698.8 294.5 698.8 295.3 698.8 296.1 698.8 297 698.8 297.8 698.8 298.6 698.8 299.4 698.8 300.2 698.8 301 698.8 301.8 698.8 302.6 698.8 303.4 698.8 304.2 698.8 305 698.8 305.8 698.7 306.6 698.7 307.4 698.7 308.2 698.7 309 698.7 309.8 698.7 310.6 698.7 311.5 698.7 312.3 698.6 313.1 698.6 313.9 698.6 314.7 698.6 315.5 698.6 316.3 698.6 317.1 698.6 317.9 698.5 318.7 698.5 319.5 698.5 320.3 698.5 321.1 698.5 321.9 698.4 322.7 698.4 323.5 698.4 324.3 698.4 325.1 698.3 326 698.3 326.8 698.3 327.6 698.3 328.4 698.2 329.2 698.2 330 698.1 330.8 698.1 331.6 698 332.4 698 333.2 697.9 334 697.9 334.8 697.8 335.6 697.7 336.4 697.7 337.2 697.6 338 697.5 338.8 697.5 339.7 697.4 340.5 697.3 341.3 697.2 342.1 697.2 342.9 697.1 343.7 697 344.5 696.9 345.3 696.8 346.1 696.7 346.9 696.6 347.7 696.5 348.5 696.4 349.3 696.3 350.1 696.1 350.9 696 351.7 695.9 352.5 695.7 353.3 695.6 354.2 695.4 355 695.2 355.8 695.1 356.6 694.9 357.4 694.7 358.2 694.5 359 694.3 359.8 694.1 360.6 693.8 361.4 693.6 362.2 693.4 363 693.2 363.8 693 364.6 692.7 365.4 692.5 366.2 692.3 367 692 367.8 691.8 368.7 691.5 369.5 691.3 370.3 691 371.1 690.8 371.9 690.5 372.7 690.2 373.5 689.9 374.3 689.7 375.1 689.4 375.9 689.1 376.7 688.8 377.5 688.5 378.3 688.2 379.1 687.9 379.9 687.6 380.7 687.4 381.5 687.1 382.4 686.8 383.2 686.5 384 686.2 384.8 685.9 385.6 685.5 386.4 685.2 387.2 684.9 388 684.5 388.8 684.2 389.6 683.8 390.4 683.4 391.2 683 392 682.5 392.8 682.1 393.6 681.6 394.4 681.1 395.2 680.6 396 680.1 396.9 679.6 397.7 679.1 398.5 678.6 399.3 678.1 400.1 677.6 400.9 677.1 401.7 676.6 402.5 676 403.3 675.5 404.1 675 404.9 674.5 405.7 673.9 406.5 673.4 407.3 672.8 408.1 672.3 408.9 671.7 409.7 671.2 410.5 670.6 411.4 670.1 412.2 669.5 413 668.9 413.8 668.4 414.6 667.8 415.4 667.2 416.2 666.7 417 666.1 417.8 665.6 418.6 665 419.4 664.4 420.2 663.9 421 663.3 421.8 662.7 422.6 662.2 423.4 661.6 424.2 661 425.1 660.4 425.9 659.8 426.7 659.2 427.5 658.6 428.3 657.9 429.1 657.3 429.9 656.6 430.7 655.9 431.5 655.3 432.3 654.6 433.1 653.9 433.9 653.2 434.7 652.5 435.5 651.7 436.3 651 437.1 650.3 437.9 649.5 438.7 648.8 439.6 648 440.4 647.3" stroke="#b6def4" stroke-width="1.1" fill="none" stroke-linejoin="round"/>
<path d="M247 698.8 247.8 698.8 248.6 698.8 249.4 698.8 250.2 698.8 251 698.8 251.8 698.8 252.6 698.8 253.4 698.8 254.3 698.8 255.1 698.8 255.9 698.8 256.7 698.8 257.5 698.8 258.3 698.8 259.1 698.8 259.9 698.8 260.7 698.8 261.5 698.8 262.3 698.8 263.1 698.8 263.9 698.8 264.7 698.8 265.5 698.8 266.3 698.8 267.1 698.8 267.9 698.8 268.8 698.8 269.6 698.8 270.4 698.8 271.2 698.8 272 698.8 272.8 698.8 273.6 698.8 274.4 698.8 275.2 698.8 276 698.8 276.8 698.8 277.6 698.8 278.4 698.8 279.2 698.8 280 698.8 280.8 698.8 281.6 698.8 282.4 698.8 283.3 698.8 284.1 698.8 284.9 698.8 285.7 698.7 286.5 698.7 287.3 698.7 288.1 698.7 288.9 698.7 289.7 698.7 290.5 698.7 291.3 698.7 292.1 698.7 292.9 698.6 293.7 698.6 294.5 698.6 295.3 698.6 296.1 698.5 297 698.5 297.8 698.5 298.6 698.5 299.4 698.4 300.2 698.4 301 698.4 301.8 698.3 302.6 698.3 303.4 698.2 304.2 698.2 305 698.1 305.8 698.1 306.6 698 307.4 697.9 308.2 697.9 309 697.8 309.8 697.7 310.6 697.7 311.5 697.6 312.3 697.5 313.1 697.4 313.9 697.4 314.7 697.3 315.5 697.2 316.3 697.1 317.1 697 317.9 696.9 318.7 696.8 319.5 696.7 320.3 696.6 321.1 696.5 321.9 696.4 322.7 696.3 323.5 696.2 324.3 696 325.1 695.9 326 695.8 326.8 695.6 327.6 695.5 328.4 695.3 329.2 695.1 330 695 330.8 694.8 331.6 694.6 332.4 694.4 333.2 694.1 334 693.9 334.8 693.7 335.6 693.5 336.4 693.2 337.2 693 338 692.8 338.8 692.5 339.7 692.3 340.5 692 341.3 691.8 342.1 691.5 342.9 691.3 343.7 691 344.5 690.7 345.3 690.5 346.1 690.2 346.9 689.9 347.7 689.6 348.5 689.3 349.3 689 350.1 688.6 350.9 688.3 351.7 687.9 352.5 687.6 353.3 687.2 354.2 686.8 355 686.4 355.8 686 356.6 685.5 357.4 685.1 358.2 684.7 359 684.2 359.8 683.7 360.6 683.2 361.4 682.8 362.2 682.2 363 681.7 363.8 681.2 364.6 680.7 365.4 680.1 366.2 679.6 367 679 367.8 678.4 368.7 677.7 369.5 677.1 370.3 676.4 371.1 675.7 371.9 675 372.7 674.3 373.5 673.6 374.3 672.8 375.1 672.1 375.9 671.4 376.7 670.7 377.5 670 378.3 669.3 379.1 668.6 379.9 667.9 380.7 667.2 381.5 666.5 382.4 665.8 383.2 665.1 384 664.5 384.8 663.8 385.6 663.1 386.4 662.4 387.2 661.7 388 661 388.8 660.3 389.6 659.6 390.4 658.9 391.2 658.1 392 657.4 392.8 656.7 393.6 656 394.4 655.2 395.2 654.5 396 653.8 396.9 653 397.7 652.3 398.5 651.6 399.3 650.9 400.1 650.2 400.9 649.5 401.7 648.8 402.5 648.1 403.3 647.4 404.1 646.7 404.9 645.9 405.7 645.2 406.5 644.5 407.3 643.8 408.1 643.1 408.9 642.4 409.7 641.8 410.5 641.1 411.4 640.5 412.2 639.9 413 639.4 413.8 638.9 414.6 638.4 415.4 638 416.2 637.5 417 637.1 417.8 636.7 418.6 636.3 419.4 635.9 420.2 635.5 421 635.1 421.8 634.8 422.6 634.5 423.4 634.2 424.2 634 425.1 633.8 425.9 633.6 426.7 633.5 427.5 633.4 428.3 633.4 429.1 633.5 429.9 633.6 430.7 633.7 431.5 633.9 432.3 634.1 433.1 634.3 433.9 634.6 434.7 634.9 435.5 635.2 436.3 635.6 437.1 636.1 437.9 636.6 438.7 637.1 439.6 637.7 440.4 638.2" stroke="#95cdef" stroke-width="1.1" fill="none" stroke-linejoin="round"/>
<path d="M247 698.8 247.8 698.8 248.6 698.8 249.4 698.8 250.2 698.8 251 698.8 251.8 698.8 252.6 698.8 253.4 698.8 254.3 698.8 255.1 698.8 255.9 698.8 256.7 698.8 257.5 698.8 258.3 698.8 259.1 698.8 259.9 698.8 260.7 698.8 261.5 698.8 262.3 698.8 263.1 698.8 263.9 698.8 264.7 698.8 265.5 698.8 266.3 698.8 267.1 698.8 267.9 698.8 268.8 698.8 269.6 698.8 270.4 698.8 271.2 698.8 272 698.8 272.8 698.8 273.6 698.8 274.4 698.8 275.2 698.8 276 698.8 276.8 698.8 277.6 698.8 278.4 698.8 279.2 698.8 280 698.8 280.8 698.8 281.6 698.8 282.4 698.8 283.3 698.8 284.1 698.8 284.9 698.8 285.7 698.7 286.5 698.7 287.3 698.7 288.1 698.7 288.9 698.7 289.7 698.7 290.5 698.7 291.3 698.6 292.1 698.6 292.9 698.6 293.7 698.5 294.5 698.5 295.3 698.5 296.1 698.4 297 698.4 297.8 698.3 298.6 698.3 299.4 698.2 300.2 698.2 301 698.1 301.8 698.1 302.6 698 303.4 698 304.2 697.9 305 697.8 305.8 697.7 306.6 697.6 307.4 697.6 308.2 697.5 309 697.4 309.8 697.3 310.6 697.2 311.5 697.1 312.3 696.9 313.1 696.8 313.9 696.7 314.7 696.6 315.5 696.5 316.3 696.3 317.1 696.2 317.9 696 318.7 695.9 319.5 695.7 320.3 695.6 321.1 695.4 321.9 695.2 322.7 695 323.5 694.9 324.3 694.7 325.1 694.5 326 694.2 326.8 694 327.6 693.8 328.4 693.5 329.2 693.2 330 692.9 330.8 692.6 331.6 692.3 332.4 692 333.2 691.6 334 691.3 334.8 690.9 335.6 690.6 336.4 690.2 337.2 689.9 338 689.5 338.8 689.1 339.7 688.8 340.5 688.4 341.3 688 342.1 687.6 342.9 687.3 343.7 686.9 344.5 686.5 345.3 686 346.1 685.6 346.9 685.2 347.7 684.8 348.5 684.3 349.3 683.9 350.1 683.4 350.9 682.9 351.7 682.4 352.5 681.9 353.3 681.4 354.2 680.8 355 680.3 355.8 679.7 356.6 679.1 357.4 678.5 358.2 677.9 359 677.3 359.8 676.7 360.6 676.1 361.4 675.4 362.2 674.8 363 674.1 363.8 673.5 364.6 672.8 365.4 672.2 366.2 671.5 367 670.8 367.8 670.1 368.7 669.4 369.5 668.6 370.3 667.9 371.1 667.1 371.9 666.3 372.7 665.6 373.5 664.8 374.3 664 375.1 663.2 375.9 662.4 376.7 661.7 377.5 660.9 378.3 660.1 379.1 659.3 379.9 658.5 380.7 657.7 381.5 656.9 382.4 656.1 383.2 655.3 384 654.5 384.8 653.7 385.6 653 386.4 652.2 387.2 651.4 388 650.7 388.8 650 389.6 649.3 390.4 648.6 391.2 647.9 392 647.2 392.8 646.5 393.6 645.9 394.4 645.2 395.2 644.6 396 643.9 396.9 643.3 397.7 642.7 398.5 642.2 399.3 641.6 400.1 641.1 400.9 640.6 401.7 640.1 402.5 639.6 403.3 639.2 404.1 638.7 404.9 638.2 405.7 637.8 406.5 637.3 407.3 636.9 408.1 636.5 408.9 636.2 409.7 635.9 410.5 635.7 411.4 635.6 412.2 635.5 413 635.4 413.8 635.4 414.6 635.5 415.4 635.5 416.2 635.6 417 635.7 417.8 635.8 418.6 636.1 419.4 636.4 420.2 636.9 421 637.5 421.8 638.2 422.6 638.9 423.4 639.7 424.2 640.6 425.1 641.5 425.9 642.3 426.7 643.2 427.5 644 428.3 644.8 429.1 645.5 429.9 646.3 430.7 647.1 431.5 647.9 432.3 648.7 433.1 649.5 433.9 650.3 434.7 651.1 435.5 652 436.3 652.8 437.1 653.7 437.9 654.6 438.7 655.4 439.6 656.3 440.4 657.2" stroke="#54b0e4" stroke-width="1.1" fill="none" stroke-linejoin="round"/>
<path d="M247 698.8 247.8 698.8 248.6 698.8 249.4 698.8 250.2 698.8 251 698.8 251.8 698.8 252.6 698.8 253.4 698.8 254.3 698.8 255.1 698.8 255.9 698.8 256.7 698.8 257.5 698.8 258.3 698.8 259.1 698.8 259.9 698.8 260.7 698.8 261.5 698.8 262.3 698.8 263.1 698.8 263.9 698.8 264.7 698.8 265.5 698.8 266.3 698.8 267.1 698.8 267.9 698.8 268.8 698.8 269.6 698.8 270.4 698.8 271.2 698.8 272 698.8 272.8 698.8 273.6 698.8 274.4 698.8 275.2 698.8 276 698.7 276.8 698.7 277.6 698.7 278.4 698.7 279.2 698.7 280 698.7 280.8 698.7 281.6 698.7 282.4 698.7 283.3 698.7 284.1 698.7 284.9 698.7 285.7 698.7 286.5 698.7 287.3 698.7 288.1 698.7 288.9 698.6 289.7 698.6 290.5 698.6 291.3 698.6 292.1 698.5 292.9 698.5 293.7 698.4 294.5 698.4 295.3 698.4 296.1 698.3 297 698.3 297.8 698.2 298.6 698.2 299.4 698.1 300.2 698 301 698 301.8 697.9 302.6 697.8 303.4 697.8 304.2 697.7 305 697.6 305.8 697.5 306.6 697.4 307.4 697.2 308.2 697.1 309 697 309.8 696.9 310.6 696.8 311.5 696.6 312.3 696.5 313.1 696.3 313.9 696.2 314.7 696 315.5 695.8 316.3 695.7 317.1 695.5 317.9 695.3 318.7 695.1 319.5 694.9 320.3 694.6 321.1 694.4 321.9 694.2 322.7 694 323.5 693.7 324.3 693.5 325.1 693.2 326 693 326.8 692.7 327.6 692.4 328.4 692.1 329.2 691.8 330 691.5 330.8 691.1 331.6 690.8 332.4 690.4 333.2 690.1 334 689.7 334.8 689.3 335.6 688.9 336.4 688.5 337.2 688.1 338 687.7 338.8 687.3 339.7 686.9 340.5 686.5 341.3 686.1 342.1 685.6 342.9 685.2 343.7 684.7 344.5 684.3 345.3 683.8 346.1 683.3 346.9 682.8 347.7 682.3 348.5 681.8 349.3 681.3 350.1 680.8 350.9 680.2 351.7 679.7 352.5 679.1 353.3 678.6 354.2 678 355 677.4 355.8 676.8 356.6 676.2 357.4 675.6 358.2 675 359 674.4 359.8 673.7 360.6 673.1 361.4 672.4 362.2 671.7 363 671.1 363.8 670.4 364.6 669.7 365.4 669 366.2 668.3 367 667.5 367.8 666.8 368.7 666 369.5 665.2 370.3 664.4 371.1 663.6 371.9 662.8 372.7 662 373.5 661.1 374.3 660.3 375.1 659.5 375.9 658.6 376.7 657.8 377.5 657 378.3 656.1 379.1 655.3 379.9 654.5 380.7 653.6 381.5 652.8 382.4 651.9 383.2 651.1 384 650.2 384.8 649.4 385.6 648.5 386.4 647.7 387.2 646.9 388 646.1 388.8 645.3 389.6 644.6 390.4 643.8 391.2 643 392 642.2 392.8 641.4 393.6 640.7 394.4 640 395.2 639.4 396 638.9 396.9 638.5 397.7 638.1 398.5 637.8 399.3 637.6 400.1 637.4 400.9 637.2 401.7 637.1 402.5 637.1 403.3 637.3 404.1 637.4 404.9 637.7 405.7 638.1 406.5 638.5 407.3 638.9 408.1 639.4 408.9 640 409.7 640.7 410.5 641.4 411.4 642.3 412.2 643.3 413 644.3 413.8 645.3 414.6 646.4 415.4 647.4 416.2 648.5 417 649.6 417.8 650.7 418.6 651.9 419.4 653 420.2 654.2 421 655.4 421.8 656.7 422.6 657.9 423.4 659.1 424.2 660.4 425.1 661.6 425.9 662.8 426.7 664.1 427.5 665.3 428.3 666.5 429.1 667.7 429.9 668.9 430.7 670.1 431.5 671.3 432.3 672.5 433.1 673.7 433.9 674.8 434.7 676 435.5 677.2 436.3 678.4 437.1 679.6 437.9 680.8 438.7 682 439.6 683.2 440.4 684.4" stroke="#35a0dc" stroke-width="1.1" fill="none" stroke-linejoin="round"/>
<path d="M247 698.8 247.8 698.8 248.6 698.8 249.4 698.8 250.2 698.8 251 698.8 251.8 698.8 252.6 698.8 253.4 698.8 254.3 698.8 255.1 698.8 255.9 698.8 256.7 698.8 257.5 698.8 258.3 698.8 259.1 698.8 259.9 698.8 260.7 698.8 261.5 698.8 262.3 698.8 263.1 698.8 263.9 698.8 264.7 698.8 265.5 698.8 266.3 698.8 267.1 698.8 267.9 698.8 268.8 698.8 269.6 698.8 270.4 698.7 271.2 698.7 272 698.7 272.8 698.7 273.6 698.7 274.4 698.7 275.2 698.7 276 698.7 276.8 698.7 277.6 698.7 278.4 698.7 279.2 698.7 280 698.7 280.8 698.7 281.6 698.7 282.4 698.7 283.3 698.7 284.1 698.7 284.9 698.7 285.7 698.7 286.5 698.6 287.3 698.6 288.1 698.6 288.9 698.6 289.7 698.6 290.5 698.5 291.3 698.5 292.1 698.4 292.9 698.4 293.7 698.4 294.5 698.3 295.3 698.3 296.1 698.2 297 698.1 297.8 698.1 298.6 698 299.4 698 300.2 697.9 301 697.8 301.8 697.7 302.6 697.6 303.4 697.5 304.2 697.4 305 697.3 305.8 697.2 306.6 697 307.4 696.9 308.2 696.8 309 696.6 309.8 696.5 310.6 696.3 311.5 696.1 312.3 696 313.1 695.8 313.9 695.6 314.7 695.4 315.5 695.2 316.3 695 317.1 694.8 317.9 694.6 318.7 694.3 319.5 694.1 320.3 693.9 321.1 693.6 321.9 693.3 322.7 693.1 323.5 692.8 324.3 692.5 325.1 692.2 326 691.9 326.8 691.6 327.6 691.3 328.4 691 329.2 690.6 330 690.2 330.8 689.9 331.6 689.5 332.4 689.1 333.2 688.6 334 688.2 334.8 687.8 335.6 687.3 336.4 686.9 337.2 686.5 338 686 338.8 685.5 339.7 685.1 340.5 684.6 341.3 684.1 342.1 683.6 342.9 683.1 343.7 682.6 344.5 682.1 345.3 681.5 346.1 681 346.9 680.4 347.7 679.9 348.5 679.3 349.3 678.8 350.1 678.2 350.9 677.6 351.7 677 352.5 676.4 353.3 675.8 354.2 675.2 355 674.6 355.8 673.9 356.6 673.3 357.4 672.6 358.2 672 359 671.3 359.8 670.6 360.6 670 361.4 669.3 362.2 668.6 363 667.9 363.8 667.2 364.6 666.4 365.4 665.7 366.2 665 367 664.2 367.8 663.5 368.7 662.7 369.5 661.9 370.3 661.2 371.1 660.4 371.9 659.6 372.7 658.7 373.5 657.9 374.3 657.1 375.1 656.3 375.9 655.4 376.7 654.6 377.5 653.7 378.3 652.8 379.1 651.9 379.9 651 380.7 650.1 381.5 649.1 382.4 648.1 383.2 647.2 384 646.3 384.8 645.5 385.6 644.8 386.4 644.1 387.2 643.4 388 642.8 388.8 642.3 389.6 642 390.4 641.7 391.2 641.5 392 641.5 392.8 641.4 393.6 641.4 394.4 641.4 395.2 641.4 396 641.5 396.9 641.8 397.7 642.1 398.5 642.6 399.3 643.2 400.1 643.9 400.9 644.6 401.7 645.4 402.5 646.2 403.3 647 404.1 647.9 404.9 648.9 405.7 650 406.5 651.1 407.3 652.3 408.1 653.6 408.9 654.8 409.7 656.1 410.5 657.4 411.4 658.8 412.2 660.1 413 661.3 413.8 662.6 414.6 663.8 415.4 665.1 416.2 666.3 417 667.5 417.8 668.7 418.6 669.9 419.4 671.2 420.2 672.4 421 673.6 421.8 674.8 422.6 676.1 423.4 677.3 424.2 678.4 425.1 679.6 425.9 680.7 426.7 681.9 427.5 683 428.3 684 429.1 685.1 429.9 686.1 430.7 687.1 431.5 688.1 432.3 689.1 433.1 690.1 433.9 691.1 434.7 692 435.5 693 436.3 693.9 437.1 694.8 437.9 695.7 438.7 696.6 439.6 697.5 440.4 698.4" stroke="#2190d2" stroke-width="1.1" fill="none" stroke-linejoin="round"/>
</g>
<line x1="428.21" y1="619.6" x2="428.21" y2="700.5" stroke="#222" stroke-width="1.0" stroke-dasharray="3 2"/>
<rect x="247" y="619.6" width="193.4" height="80.9" fill="none" stroke="#808080" stroke-width="0.9"/>
<line x1="247" y1="700.5" x2="247" y2="698" stroke="#808080" stroke-width="0.9"/>
<line x1="298.7" y1="700.5" x2="298.7" y2="698" stroke="#808080" stroke-width="0.9"/>
<line x1="350.4" y1="700.5" x2="350.4" y2="698" stroke="#808080" stroke-width="0.9"/>
<line x1="402.1" y1="700.5" x2="402.1" y2="698" stroke="#808080" stroke-width="0.9"/>
<line x1="244.5" y1="699" x2="247" y2="699" stroke="#808080" stroke-width="0.9"/>
<text x="245.2" y="702.2" font-size="9" text-anchor="end" fill="#231f20">0</text>
<line x1="244.5" y1="673.88" x2="247" y2="673.88" stroke="#808080" stroke-width="0.9"/>
<text x="245.2" y="677.08" font-size="9" text-anchor="end" fill="#231f20">50</text>
<line x1="244.5" y1="648.75" x2="247" y2="648.75" stroke="#808080" stroke-width="0.9"/>
<text x="245.2" y="651.95" font-size="9" text-anchor="end" fill="#231f20">100</text>
<line x1="244.5" y1="623.62" x2="247" y2="623.62" stroke="#808080" stroke-width="0.9"/>
<text x="245.2" y="626.83" font-size="9" text-anchor="end" fill="#231f20">150</text>
<text x="248.4" y="709.3" font-size="9" text-anchor="middle" fill="#231f20">0.0</text>
<text x="300.1" y="709.3" font-size="9" text-anchor="middle" fill="#231f20">0.2</text>
<text x="351.8" y="709.3" font-size="9" text-anchor="middle" fill="#231f20">0.4</text>
<text x="403.5" y="709.3" font-size="9" text-anchor="middle" fill="#231f20">0.6</text>
<text x="316" y="716.6" font-size="9" fill="#231f20"><tspan font-style="italic">V</tspan><tspan font-size="6.5" dy="1.2">g</tspan><tspan dy="-1.2"> (V)</tspan></text>
<text transform="translate(227 656) rotate(-90)" font-size="9" text-anchor="middle" fill="#231f20"><tspan font-style="italic">I</tspan> (nA)</text>
<line x1="254.4" y1="624.6" x2="267" y2="624.6" stroke="#b6def4" stroke-width="1.4"/>
<text x="269.4" y="627.8" font-size="8.6" fill="#231f20">0 μM</text>
<line x1="254.4" y1="635.2" x2="267" y2="635.2" stroke="#95cdef" stroke-width="1.4"/>
<text x="269.4" y="638.4" font-size="8.6" fill="#231f20">4 μM</text>
<line x1="254.4" y1="645.9" x2="267" y2="645.9" stroke="#54b0e4" stroke-width="1.4"/>
<text x="269.4" y="649.1" font-size="8.6" fill="#231f20">16 μM</text>
<line x1="254.4" y1="656.4" x2="267" y2="656.4" stroke="#35a0dc" stroke-width="1.4"/>
<text x="269.4" y="659.6" font-size="8.6" fill="#231f20">64 μM</text>
<line x1="254.4" y1="667" x2="267" y2="667" stroke="#2190d2" stroke-width="1.4"/>
<text x="269.4" y="670.2" font-size="8.6" fill="#231f20">256 μM</text>
<text x="463.4" y="529.2" font-size="12" font-weight="bold" fill="#000">j</text>
<rect x="491.3" y="523.4" width="192.7" height="80.6" fill="none" stroke="#808080" stroke-width="0.9"/>
<line x1="499.63" y1="589.26" x2="677.35" y2="551.47" stroke="#444" stroke-width="0.8" stroke-dasharray="3.2 2.4"/>
<line x1="556.45" y1="566.48" x2="556.45" y2="585.78" stroke="#3a3a3a" stroke-width="0.8"/>
<line x1="554.25" y1="566.48" x2="558.65" y2="566.48" stroke="#3a3a3a" stroke-width="0.8"/>
<line x1="554.25" y1="585.78" x2="558.65" y2="585.78" stroke="#3a3a3a" stroke-width="0.8"/>
<line x1="616.9" y1="547.72" x2="616.9" y2="587.38" stroke="#3a3a3a" stroke-width="0.8"/>
<line x1="614.7" y1="547.72" x2="619.1" y2="547.72" stroke="#3a3a3a" stroke-width="0.8"/>
<line x1="614.7" y1="587.38" x2="619.1" y2="587.38" stroke="#3a3a3a" stroke-width="0.8"/>
<line x1="677.35" y1="531.64" x2="677.35" y2="572.38" stroke="#3a3a3a" stroke-width="0.8"/>
<line x1="675.15" y1="531.64" x2="679.55" y2="531.64" stroke="#3a3a3a" stroke-width="0.8"/>
<line x1="675.15" y1="572.38" x2="679.55" y2="572.38" stroke="#3a3a3a" stroke-width="0.8"/>
<circle cx="496" cy="593.28" r="3.4" fill="url(#ballg)"/>
<circle cx="508.09" cy="584.17" r="3.4" fill="url(#ballg)"/>
<circle cx="556.45" cy="576.13" r="3.4" fill="url(#ballg)"/>
<circle cx="616.9" cy="567.55" r="3.4" fill="url(#ballg)"/>
<circle cx="677.35" cy="551.47" r="3.4" fill="url(#ballg)"/>
<line x1="491.3" y1="604" x2="493.8" y2="604" stroke="#808080" stroke-width="0.9"/>
<text x="489.3" y="607.2" font-size="9" text-anchor="end" fill="#231f20">0</text>
<line x1="491.3" y1="577.2" x2="493.8" y2="577.2" stroke="#808080" stroke-width="0.9"/>
<text x="489.3" y="580.4" font-size="9" text-anchor="end" fill="#231f20">5</text>
<line x1="491.3" y1="550.4" x2="493.8" y2="550.4" stroke="#808080" stroke-width="0.9"/>
<text x="489.3" y="553.6" font-size="9" text-anchor="end" fill="#231f20">10</text>
<line x1="491.3" y1="523.6" x2="493.8" y2="523.6" stroke="#808080" stroke-width="0.9"/>
<text x="489.3" y="526.8" font-size="9" text-anchor="end" fill="#231f20">15</text>
<line x1="496" y1="604" x2="496" y2="601.5" stroke="#808080" stroke-width="0.9"/>
<text x="496" y="612.5" font-size="9" text-anchor="middle" fill="#231f20">0</text>
<line x1="526.23" y1="604" x2="526.23" y2="601.5" stroke="#808080" stroke-width="0.9"/>
<text x="526.23" y="612.5" font-size="9" text-anchor="middle" fill="#231f20">25</text>
<line x1="556.45" y1="604" x2="556.45" y2="601.5" stroke="#808080" stroke-width="0.9"/>
<text x="556.45" y="612.5" font-size="9" text-anchor="middle" fill="#231f20">50</text>
<line x1="586.67" y1="604" x2="586.67" y2="601.5" stroke="#808080" stroke-width="0.9"/>
<text x="586.67" y="612.5" font-size="9" text-anchor="middle" fill="#231f20">75</text>
<line x1="616.9" y1="604" x2="616.9" y2="601.5" stroke="#808080" stroke-width="0.9"/>
<text x="616.9" y="612.5" font-size="9" text-anchor="middle" fill="#231f20">100</text>
<line x1="647.12" y1="604" x2="647.12" y2="601.5" stroke="#808080" stroke-width="0.9"/>
<text x="647.12" y="612.5" font-size="9" text-anchor="middle" fill="#231f20">125</text>
<line x1="677.35" y1="604" x2="677.35" y2="601.5" stroke="#808080" stroke-width="0.9"/>
<text x="677.35" y="612.5" font-size="9" text-anchor="middle" fill="#231f20">150</text>
<text transform="translate(476.2 558.7) rotate(-90)" font-size="9" text-anchor="middle" fill="#231f20"><tspan font-style="italic">f</tspan><tspan font-size="6.3" dy="1.3">0</tspan><tspan dy="-1.3"> (Hz)</tspan></text>
<text x="543" y="598.3" font-size="9" fill="#231f20">Na<tspan font-size="5.5" dy="-3">+</tspan><tspan dy="3"> concentration (mM)</tspan></text>
<rect x="491.3" y="619.4" width="192.7" height="81.6" fill="none" stroke="#808080" stroke-width="0.9"/>
<path d="M499.61 638.05C500.21 638.87 501.9 641.27 503.23 642.98C504.55 644.68 505.75 646.26 507.56 648.26C509.37 650.25 511.77 652.83 514.06 654.94C516.35 657.06 518.28 658.87 521.29 660.93C524.3 662.98 528.63 665.39 532.12 667.26C535.62 669.14 538.63 670.84 542.24 672.19C545.85 673.54 549.46 674.36 553.8 675.36C558.13 676.36 562.23 677.3 568.25 678.18C574.27 679.06 582.7 679.88 589.92 680.64C597.15 681.4 603.17 682.11 611.6 682.75C620.03 683.4 628.94 683.87 640.5 684.51C652.06 685.16 674.22 686.27 680.96 686.62" stroke="#444" stroke-width="0.8" fill="none" stroke-dasharray="3.2 2.4" stroke-linejoin="round"/>
<line x1="496" y1="648.96" x2="496" y2="664.8" stroke="#3a3a3a" stroke-width="0.8"/>
<line x1="493.8" y1="648.96" x2="498.2" y2="648.96" stroke="#3a3a3a" stroke-width="0.8"/>
<line x1="493.8" y1="664.8" x2="498.2" y2="664.8" stroke="#3a3a3a" stroke-width="0.8"/>
<line x1="498.89" y1="625.02" x2="498.89" y2="647.2" stroke="#3a3a3a" stroke-width="0.8"/>
<line x1="496.69" y1="625.02" x2="501.09" y2="625.02" stroke="#3a3a3a" stroke-width="0.8"/>
<line x1="496.69" y1="647.2" x2="501.09" y2="647.2" stroke="#3a3a3a" stroke-width="0.8"/>
<line x1="507.56" y1="640.16" x2="507.56" y2="664.1" stroke="#3a3a3a" stroke-width="0.8"/>
<line x1="505.36" y1="640.16" x2="509.76" y2="640.16" stroke="#3a3a3a" stroke-width="0.8"/>
<line x1="505.36" y1="664.1" x2="509.76" y2="664.1" stroke="#3a3a3a" stroke-width="0.8"/>
<line x1="542.24" y1="666.21" x2="542.24" y2="678.88" stroke="#3a3a3a" stroke-width="0.8"/>
<line x1="540.04" y1="666.21" x2="544.44" y2="666.21" stroke="#3a3a3a" stroke-width="0.8"/>
<line x1="540.04" y1="678.88" x2="544.44" y2="678.88" stroke="#3a3a3a" stroke-width="0.8"/>
<circle cx="496" cy="657.06" r="3.4" fill="url(#ballg)"/>
<circle cx="498.89" cy="635.94" r="3.4" fill="url(#ballg)"/>
<circle cx="507.56" cy="652.13" r="3.4" fill="url(#ballg)"/>
<circle cx="542.24" cy="672.54" r="3.4" fill="url(#ballg)"/>
<circle cx="680.96" cy="686.62" r="3.4" fill="url(#ballg)"/>
<line x1="491.3" y1="700" x2="493.8" y2="700" stroke="#808080" stroke-width="0.9"/>
<text x="489.3" y="703.2" font-size="9" text-anchor="end" fill="#231f20">0</text>
<line x1="491.3" y1="682.4" x2="493.8" y2="682.4" stroke="#808080" stroke-width="0.9"/>
<text x="489.3" y="685.6" font-size="9" text-anchor="end" fill="#231f20">5</text>
<line x1="491.3" y1="664.8" x2="493.8" y2="664.8" stroke="#808080" stroke-width="0.9"/>
<text x="489.3" y="668" font-size="9" text-anchor="end" fill="#231f20">10</text>
<line x1="491.3" y1="647.2" x2="493.8" y2="647.2" stroke="#808080" stroke-width="0.9"/>
<text x="489.3" y="650.4" font-size="9" text-anchor="end" fill="#231f20">15</text>
<line x1="491.3" y1="629.6" x2="493.8" y2="629.6" stroke="#808080" stroke-width="0.9"/>
<text x="489.3" y="632.8" font-size="9" text-anchor="end" fill="#231f20">20</text>
<line x1="496" y1="701" x2="496" y2="698.5" stroke="#808080" stroke-width="0.9"/>
<text x="496" y="708.2" font-size="9" text-anchor="middle" fill="#231f20">0</text>
<line x1="532.12" y1="701" x2="532.12" y2="698.5" stroke="#808080" stroke-width="0.9"/>
<text x="532.12" y="708.2" font-size="9" text-anchor="middle" fill="#231f20">50</text>
<line x1="568.25" y1="701" x2="568.25" y2="698.5" stroke="#808080" stroke-width="0.9"/>
<text x="568.25" y="708.2" font-size="9" text-anchor="middle" fill="#231f20">100</text>
<line x1="604.38" y1="701" x2="604.38" y2="698.5" stroke="#808080" stroke-width="0.9"/>
<text x="604.38" y="708.2" font-size="9" text-anchor="middle" fill="#231f20">150</text>
<line x1="640.5" y1="701" x2="640.5" y2="698.5" stroke="#808080" stroke-width="0.9"/>
<text x="640.5" y="708.2" font-size="9" text-anchor="middle" fill="#231f20">200</text>
<line x1="676.62" y1="701" x2="676.62" y2="698.5" stroke="#808080" stroke-width="0.9"/>
<text x="676.62" y="708.2" font-size="9" text-anchor="middle" fill="#231f20">250</text>
<text transform="translate(476.2 651) rotate(-90)" font-size="9" text-anchor="middle" fill="#231f20"><tspan font-style="italic">f</tspan><tspan font-size="6.3" dy="1.3">0</tspan><tspan dy="-1.3"> (Hz)</tspan></text>
<text x="589.3" y="716.8" font-size="9" text-anchor="middle" fill="#231f20">DA concentration (μM)</text>
</svg></body></html>
